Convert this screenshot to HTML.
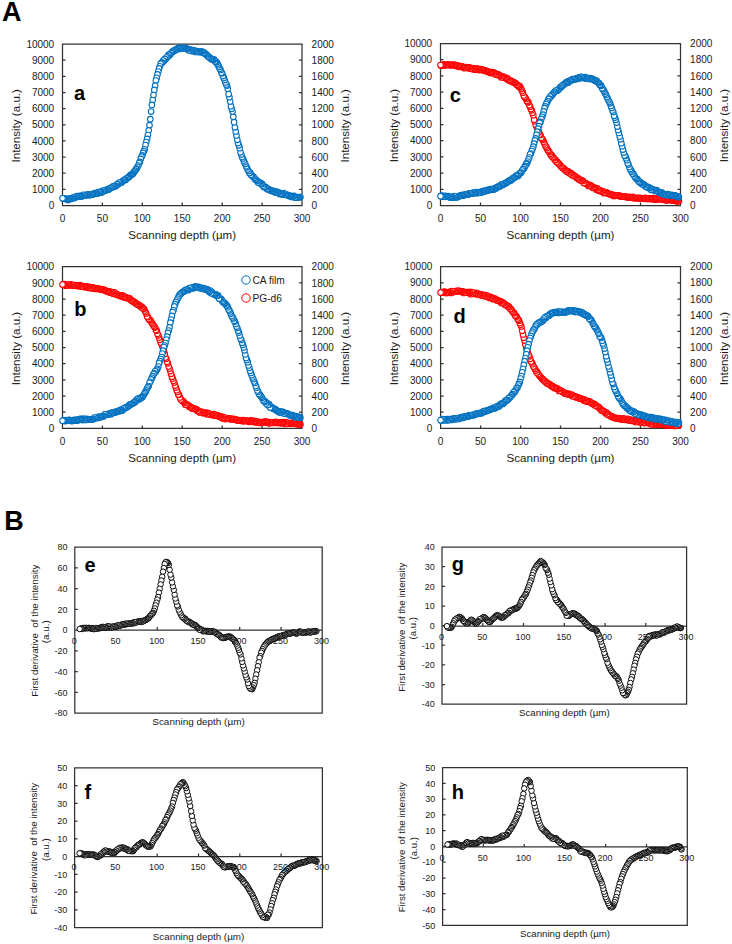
<!DOCTYPE html>
<html><head><meta charset="utf-8"><style>
html,body{margin:0;padding:0;background:#fff;}
svg{display:block;font-family:"Liberation Sans", sans-serif;}
</style></head><body>
<svg width="732" height="944" viewBox="0 0 732 944">
<rect width="732" height="944" fill="#fff"/>
<text x="2" y="20.8" font-size="27" font-weight="bold" fill="#000">A</text>
<text x="4.3" y="529.8" font-size="27" font-weight="bold" fill="#000">B</text>
<g stroke="#333" stroke-width="1.25" fill="none">
<path d="M62.5 44V205.5H302V44H62.5Z"/>
<path d="M62.5 189.3h3M302 189.3h-3M62.5 173.2h3M302 173.2h-3M62.5 157.1h3M302 157.1h-3M62.5 140.9h3M302 140.9h-3M62.5 124.8h3M302 124.8h-3M62.5 108.6h3M302 108.6h-3M62.5 92.5h3M302 92.5h-3M62.5 76.3h3M302 76.3h-3M62.5 60.2h3M302 60.2h-3M102.4 205.5v-3M142.3 205.5v-3M182.2 205.5v-3M222.2 205.5v-3M262.1 205.5v-3"/>
</g>
<g font-size="10" fill="#1a1a1a">
<text x="54.2" y="209.1" text-anchor="end">0</text>
<text x="311.6" y="209.1">0</text>
<text x="54.2" y="192.9" text-anchor="end">1000</text>
<text x="311.6" y="192.9">200</text>
<text x="54.2" y="176.8" text-anchor="end">2000</text>
<text x="311.6" y="176.8">400</text>
<text x="54.2" y="160.7" text-anchor="end">3000</text>
<text x="311.6" y="160.7">600</text>
<text x="54.2" y="144.5" text-anchor="end">4000</text>
<text x="311.6" y="144.5">800</text>
<text x="54.2" y="128.3" text-anchor="end">5000</text>
<text x="311.6" y="128.3">1000</text>
<text x="54.2" y="112.2" text-anchor="end">6000</text>
<text x="311.6" y="112.2">1200</text>
<text x="54.2" y="96" text-anchor="end">7000</text>
<text x="311.6" y="96">1400</text>
<text x="54.2" y="79.9" text-anchor="end">8000</text>
<text x="311.6" y="79.9">1600</text>
<text x="54.2" y="63.8" text-anchor="end">9000</text>
<text x="311.6" y="63.8">1800</text>
<text x="54.2" y="47.6" text-anchor="end">10000</text>
<text x="311.6" y="47.6">2000</text>
<text x="62.5" y="221.7" text-anchor="middle">0</text>
<text x="102.4" y="221.7" text-anchor="middle">50</text>
<text x="142.3" y="221.7" text-anchor="middle">100</text>
<text x="182.2" y="221.7" text-anchor="middle">150</text>
<text x="222.2" y="221.7" text-anchor="middle">200</text>
<text x="262.1" y="221.7" text-anchor="middle">250</text>
<text x="302" y="221.7" text-anchor="middle">300</text>
</g>
<g font-size="11.6" fill="#1a1a1a" text-anchor="middle">
<text x="182.2" y="239">Scanning depth (µm)</text>
<text transform="translate(20.2 125.8) rotate(-90)">Intensity (a.u.)</text>
<text transform="translate(349 125.8) rotate(-90)">Intensity (a.u.)</text>
</g>
<text x="74" y="100.3" font-size="20" font-weight="bold" fill="#000">a</text>
<g fill="#fff" stroke="#0070c0" stroke-width="1.1"><circle cx="300.4" cy="197.1" r="2.8"/><circle cx="299.6" cy="197.1" r="2.8"/><circle cx="298.8" cy="197.3" r="2.8"/><circle cx="298" cy="197.2" r="2.8"/><circle cx="297.2" cy="197.4" r="2.8"/><circle cx="296.4" cy="197.4" r="2.8"/><circle cx="295.6" cy="197.4" r="2.8"/><circle cx="294.8" cy="197.6" r="2.8"/><circle cx="294" cy="195.9" r="2.8"/><circle cx="293.2" cy="196.4" r="2.8"/><circle cx="292.4" cy="196.2" r="2.8"/><circle cx="291.6" cy="196.9" r="2.8"/><circle cx="290.8" cy="196" r="2.8"/><circle cx="290" cy="195.9" r="2.8"/><circle cx="289.2" cy="196.1" r="2.8"/><circle cx="288.4" cy="195.3" r="2.8"/><circle cx="287.6" cy="195.1" r="2.8"/><circle cx="286.8" cy="194.6" r="2.8"/><circle cx="286" cy="194.9" r="2.8"/><circle cx="285.2" cy="194.6" r="2.8"/><circle cx="284.4" cy="194.6" r="2.8"/><circle cx="283.6" cy="193.1" r="2.8"/><circle cx="282.8" cy="194.2" r="2.8"/><circle cx="282" cy="194.2" r="2.8"/><circle cx="281.2" cy="193.4" r="2.8"/><circle cx="280.4" cy="194.1" r="2.8"/><circle cx="279.6" cy="194" r="2.8"/><circle cx="278.8" cy="192.4" r="2.8"/><circle cx="278.1" cy="192.8" r="2.8"/><circle cx="277.3" cy="192.5" r="2.8"/><circle cx="276.5" cy="191.7" r="2.8"/><circle cx="275.7" cy="192.6" r="2.8"/><circle cx="274.9" cy="191.5" r="2.8"/><circle cx="274.1" cy="191.8" r="2.8"/><circle cx="273.3" cy="190.8" r="2.8"/><circle cx="272.5" cy="191.1" r="2.8"/><circle cx="271.7" cy="191" r="2.8"/><circle cx="270.9" cy="190.7" r="2.8"/><circle cx="270.1" cy="190.1" r="2.8"/><circle cx="269.3" cy="189.6" r="2.8"/><circle cx="268.5" cy="189.3" r="2.8"/><circle cx="267.7" cy="188.9" r="2.8"/><circle cx="266.9" cy="188.9" r="2.8"/><circle cx="266.1" cy="187.5" r="2.8"/><circle cx="265.3" cy="186.9" r="2.8"/><circle cx="264.5" cy="186.9" r="2.8"/><circle cx="263.7" cy="187" r="2.8"/><circle cx="262.9" cy="185.6" r="2.8"/><circle cx="262.1" cy="183.8" r="2.8"/><circle cx="261.3" cy="183.7" r="2.8"/><circle cx="260.5" cy="183.7" r="2.8"/><circle cx="259.7" cy="182.3" r="2.8"/><circle cx="258.9" cy="182.6" r="2.8"/><circle cx="258.1" cy="182.4" r="2.8"/><circle cx="257.3" cy="181" r="2.8"/><circle cx="256.5" cy="180.4" r="2.8"/><circle cx="255.7" cy="179.6" r="2.8"/><circle cx="254.9" cy="179.1" r="2.8"/><circle cx="254.1" cy="177.8" r="2.8"/><circle cx="253.3" cy="176.5" r="2.8"/><circle cx="252.5" cy="176.3" r="2.8"/><circle cx="251.7" cy="175.4" r="2.8"/><circle cx="250.9" cy="174.8" r="2.8"/><circle cx="250.1" cy="172.7" r="2.8"/><circle cx="249.3" cy="173.1" r="2.8"/><circle cx="248.5" cy="171.1" r="2.8"/><circle cx="247.7" cy="169.6" r="2.8"/><circle cx="246.9" cy="167.5" r="2.8"/><circle cx="246.1" cy="166.3" r="2.8"/><circle cx="245.3" cy="164.1" r="2.8"/><circle cx="244.5" cy="162.3" r="2.8"/><circle cx="243.7" cy="160.6" r="2.8"/><circle cx="242.9" cy="158.5" r="2.8"/><circle cx="242.1" cy="157.1" r="2.8"/><circle cx="241.3" cy="154.6" r="2.8"/><circle cx="240.5" cy="152.3" r="2.8"/><circle cx="239.7" cy="148.2" r="2.8"/><circle cx="238.9" cy="145.3" r="2.8"/><circle cx="238.1" cy="143" r="2.8"/><circle cx="237.3" cy="139.8" r="2.8"/><circle cx="236.5" cy="135.4" r="2.8"/><circle cx="235.7" cy="131.4" r="2.8"/><circle cx="234.9" cy="127.3" r="2.8"/><circle cx="234.1" cy="122.2" r="2.8"/><circle cx="233.3" cy="116.7" r="2.8"/><circle cx="232.5" cy="111.5" r="2.8"/><circle cx="231.7" cy="108.8" r="2.8"/><circle cx="230.9" cy="106.2" r="2.8"/><circle cx="230.2" cy="101.5" r="2.8"/><circle cx="229.4" cy="97.2" r="2.8"/><circle cx="228.6" cy="94.1" r="2.8"/><circle cx="227.8" cy="88.8" r="2.8"/><circle cx="227" cy="85.6" r="2.8"/><circle cx="226.2" cy="84.4" r="2.8"/><circle cx="225.4" cy="82.5" r="2.8"/><circle cx="224.6" cy="80.1" r="2.8"/><circle cx="223.8" cy="77.9" r="2.8"/><circle cx="223" cy="76.1" r="2.8"/><circle cx="222.2" cy="73.3" r="2.8"/><circle cx="221.4" cy="72.7" r="2.8"/><circle cx="220.6" cy="70" r="2.8"/><circle cx="219.8" cy="68.8" r="2.8"/><circle cx="219" cy="66.9" r="2.8"/><circle cx="218.2" cy="65.2" r="2.8"/><circle cx="217.4" cy="63.7" r="2.8"/><circle cx="216.6" cy="62.2" r="2.8"/><circle cx="215.8" cy="61.9" r="2.8"/><circle cx="215" cy="61.3" r="2.8"/><circle cx="214.2" cy="59.6" r="2.8"/><circle cx="213.4" cy="59.5" r="2.8"/><circle cx="212.6" cy="59.5" r="2.8"/><circle cx="211.8" cy="59.2" r="2.8"/><circle cx="211" cy="59" r="2.8"/><circle cx="210.2" cy="58" r="2.8"/><circle cx="209.4" cy="57.4" r="2.8"/><circle cx="208.6" cy="56.7" r="2.8"/><circle cx="207.8" cy="56.5" r="2.8"/><circle cx="207" cy="55.2" r="2.8"/><circle cx="206.2" cy="54.4" r="2.8"/><circle cx="205.4" cy="53.8" r="2.8"/><circle cx="204.6" cy="53.3" r="2.8"/><circle cx="203.8" cy="52.4" r="2.8"/><circle cx="203" cy="52.9" r="2.8"/><circle cx="202.2" cy="51.6" r="2.8"/><circle cx="201.4" cy="51.6" r="2.8"/><circle cx="200.6" cy="52" r="2.8"/><circle cx="199.8" cy="51.7" r="2.8"/><circle cx="199" cy="52.1" r="2.8"/><circle cx="198.2" cy="51.5" r="2.8"/><circle cx="197.4" cy="51.8" r="2.8"/><circle cx="196.6" cy="51.7" r="2.8"/><circle cx="195.8" cy="51.9" r="2.8"/><circle cx="195" cy="50.6" r="2.8"/><circle cx="194.2" cy="50.9" r="2.8"/><circle cx="193.4" cy="50.9" r="2.8"/><circle cx="192.6" cy="50.1" r="2.8"/><circle cx="191.8" cy="51.1" r="2.8"/><circle cx="191" cy="50.4" r="2.8"/><circle cx="190.2" cy="49.6" r="2.8"/><circle cx="189.4" cy="49.5" r="2.8"/><circle cx="188.6" cy="50.4" r="2.8"/><circle cx="187.8" cy="49" r="2.8"/><circle cx="187" cy="48.5" r="2.8"/><circle cx="186.2" cy="48.7" r="2.8"/><circle cx="185.4" cy="48.4" r="2.8"/><circle cx="184.6" cy="48.4" r="2.8"/><circle cx="183.8" cy="47.9" r="2.8"/><circle cx="183" cy="47.9" r="2.8"/><circle cx="182.2" cy="47.7" r="2.8"/><circle cx="181.5" cy="48" r="2.8"/><circle cx="180.7" cy="48.6" r="2.8"/><circle cx="179.9" cy="48.2" r="2.8"/><circle cx="179.1" cy="49.1" r="2.8"/><circle cx="178.3" cy="48.2" r="2.8"/><circle cx="177.5" cy="48.8" r="2.8"/><circle cx="176.7" cy="49.1" r="2.8"/><circle cx="175.9" cy="49.8" r="2.8"/><circle cx="175.1" cy="49.9" r="2.8"/><circle cx="174.3" cy="51.1" r="2.8"/><circle cx="173.5" cy="50.8" r="2.8"/><circle cx="172.7" cy="51.7" r="2.8"/><circle cx="171.9" cy="52.3" r="2.8"/><circle cx="171.1" cy="53.1" r="2.8"/><circle cx="170.3" cy="54.5" r="2.8"/><circle cx="169.5" cy="55.2" r="2.8"/><circle cx="168.7" cy="54.7" r="2.8"/><circle cx="167.9" cy="56.3" r="2.8"/><circle cx="167.1" cy="57.5" r="2.8"/><circle cx="166.3" cy="57.6" r="2.8"/><circle cx="165.5" cy="59.3" r="2.8"/><circle cx="164.7" cy="59" r="2.8"/><circle cx="163.9" cy="61" r="2.8"/><circle cx="163.1" cy="60.5" r="2.8"/><circle cx="162.3" cy="62.5" r="2.8"/><circle cx="161.5" cy="62.9" r="2.8"/><circle cx="160.7" cy="63.8" r="2.8"/><circle cx="159.9" cy="66.3" r="2.8"/><circle cx="159.1" cy="68.4" r="2.8"/><circle cx="158.3" cy="71.5" r="2.8"/><circle cx="157.5" cy="74.4" r="2.8"/><circle cx="156.7" cy="77.8" r="2.8"/><circle cx="155.9" cy="80.6" r="2.8"/><circle cx="155.1" cy="85.7" r="2.8"/><circle cx="154.3" cy="89.9" r="2.8"/><circle cx="153.5" cy="95" r="2.8"/><circle cx="152.7" cy="100" r="2.8"/><circle cx="151.9" cy="104.9" r="2.8"/><circle cx="151.1" cy="111.6" r="2.8"/><circle cx="150.3" cy="119.2" r="2.8"/><circle cx="149.5" cy="125.2" r="2.8"/><circle cx="148.7" cy="130.4" r="2.8"/><circle cx="147.9" cy="135.1" r="2.8"/><circle cx="147.1" cy="138.9" r="2.8"/><circle cx="146.3" cy="142" r="2.8"/><circle cx="145.5" cy="145.1" r="2.8"/><circle cx="144.7" cy="149.3" r="2.8"/><circle cx="143.9" cy="151" r="2.8"/><circle cx="143.1" cy="152.9" r="2.8"/><circle cx="142.3" cy="155.4" r="2.8"/><circle cx="141.5" cy="156.7" r="2.8"/><circle cx="140.7" cy="158.9" r="2.8"/><circle cx="139.9" cy="161.9" r="2.8"/><circle cx="139.1" cy="163" r="2.8"/><circle cx="138.3" cy="165.6" r="2.8"/><circle cx="137.5" cy="166.8" r="2.8"/><circle cx="136.7" cy="168.6" r="2.8"/><circle cx="135.9" cy="169.2" r="2.8"/><circle cx="135.1" cy="170.7" r="2.8"/><circle cx="134.3" cy="171.5" r="2.8"/><circle cx="133.6" cy="172.7" r="2.8"/><circle cx="132.8" cy="173.9" r="2.8"/><circle cx="132" cy="174" r="2.8"/><circle cx="131.2" cy="174.9" r="2.8"/><circle cx="130.4" cy="175.2" r="2.8"/><circle cx="129.6" cy="176.2" r="2.8"/><circle cx="128.8" cy="176.9" r="2.8"/><circle cx="128" cy="177.7" r="2.8"/><circle cx="127.2" cy="178" r="2.8"/><circle cx="126.4" cy="178.5" r="2.8"/><circle cx="125.6" cy="179.9" r="2.8"/><circle cx="124.8" cy="179.6" r="2.8"/><circle cx="124" cy="180.1" r="2.8"/><circle cx="123.2" cy="180.6" r="2.8"/><circle cx="122.4" cy="181.6" r="2.8"/><circle cx="121.6" cy="182.4" r="2.8"/><circle cx="120.8" cy="182.4" r="2.8"/><circle cx="120" cy="182.7" r="2.8"/><circle cx="119.2" cy="182.5" r="2.8"/><circle cx="118.4" cy="184.2" r="2.8"/><circle cx="117.6" cy="184.1" r="2.8"/><circle cx="116.8" cy="184.3" r="2.8"/><circle cx="116" cy="185.9" r="2.8"/><circle cx="115.2" cy="186.2" r="2.8"/><circle cx="114.4" cy="186.2" r="2.8"/><circle cx="113.6" cy="186.4" r="2.8"/><circle cx="112.8" cy="186.5" r="2.8"/><circle cx="112" cy="187.5" r="2.8"/><circle cx="111.2" cy="187.6" r="2.8"/><circle cx="110.4" cy="188.3" r="2.8"/><circle cx="109.6" cy="188.3" r="2.8"/><circle cx="108.8" cy="189.6" r="2.8"/><circle cx="108" cy="189.5" r="2.8"/><circle cx="107.2" cy="189.5" r="2.8"/><circle cx="106.4" cy="190.2" r="2.8"/><circle cx="105.6" cy="190.1" r="2.8"/><circle cx="104.8" cy="190.8" r="2.8"/><circle cx="104" cy="190.8" r="2.8"/><circle cx="103.2" cy="190.6" r="2.8"/><circle cx="102.4" cy="191.7" r="2.8"/><circle cx="101.6" cy="192.6" r="2.8"/><circle cx="100.8" cy="191.6" r="2.8"/><circle cx="100" cy="192.2" r="2.8"/><circle cx="99.2" cy="192.8" r="2.8"/><circle cx="98.4" cy="192" r="2.8"/><circle cx="97.6" cy="193.5" r="2.8"/><circle cx="96.8" cy="193.2" r="2.8"/><circle cx="96" cy="192.8" r="2.8"/><circle cx="95.2" cy="193.6" r="2.8"/><circle cx="94.4" cy="193.8" r="2.8"/><circle cx="93.6" cy="193.9" r="2.8"/><circle cx="92.8" cy="193.9" r="2.8"/><circle cx="92" cy="194.7" r="2.8"/><circle cx="91.2" cy="194.5" r="2.8"/><circle cx="90.4" cy="194.3" r="2.8"/><circle cx="89.6" cy="195.3" r="2.8"/><circle cx="88.8" cy="194.6" r="2.8"/><circle cx="88" cy="194.6" r="2.8"/><circle cx="87.2" cy="195" r="2.8"/><circle cx="86.5" cy="194.7" r="2.8"/><circle cx="85.7" cy="195.6" r="2.8"/><circle cx="84.9" cy="195.6" r="2.8"/><circle cx="84.1" cy="195.6" r="2.8"/><circle cx="83.3" cy="194.8" r="2.8"/><circle cx="82.5" cy="196" r="2.8"/><circle cx="81.7" cy="196.3" r="2.8"/><circle cx="80.9" cy="196.5" r="2.8"/><circle cx="80.1" cy="195.9" r="2.8"/><circle cx="79.3" cy="196.5" r="2.8"/><circle cx="78.5" cy="196" r="2.8"/><circle cx="77.7" cy="196.4" r="2.8"/><circle cx="76.9" cy="196.2" r="2.8"/><circle cx="76.1" cy="197" r="2.8"/><circle cx="75.3" cy="196.8" r="2.8"/><circle cx="74.5" cy="197.9" r="2.8"/><circle cx="73.7" cy="197.8" r="2.8"/><circle cx="72.9" cy="197.6" r="2.8"/><circle cx="72.1" cy="198.3" r="2.8"/><circle cx="71.3" cy="198.7" r="2.8"/><circle cx="70.5" cy="199" r="2.8"/><circle cx="69.7" cy="198.7" r="2.8"/><circle cx="68.9" cy="198.9" r="2.8"/><circle cx="68.1" cy="199.9" r="2.8"/><circle cx="67.3" cy="199.3" r="2.8"/><circle cx="66.5" cy="198.8" r="2.8"/><circle cx="65.7" cy="199" r="2.8"/><circle cx="64.9" cy="198.6" r="2.8"/><circle cx="64.1" cy="198.7" r="2.8"/><circle cx="63.3" cy="198.7" r="2.8"/><circle cx="62.5" cy="198.3" r="2.8"/></g>
<g stroke="#333" stroke-width="1.25" fill="none">
<path d="M440.5 43.5V205.5H680.5V43.5H440.5Z"/>
<path d="M440.5 189.3h3M680.5 189.3h-3M440.5 173.1h3M680.5 173.1h-3M440.5 156.9h3M680.5 156.9h-3M440.5 140.7h3M680.5 140.7h-3M440.5 124.5h3M680.5 124.5h-3M440.5 108.3h3M680.5 108.3h-3M440.5 92.1h3M680.5 92.1h-3M440.5 75.9h3M680.5 75.9h-3M440.5 59.7h3M680.5 59.7h-3M480.5 205.5v-3M520.5 205.5v-3M560.5 205.5v-3M600.5 205.5v-3M640.5 205.5v-3"/>
</g>
<g font-size="10" fill="#1a1a1a">
<text x="432.2" y="209.1" text-anchor="end">0</text>
<text x="690.1" y="209.1">0</text>
<text x="432.2" y="192.9" text-anchor="end">1000</text>
<text x="690.1" y="192.9">200</text>
<text x="432.2" y="176.7" text-anchor="end">2000</text>
<text x="690.1" y="176.7">400</text>
<text x="432.2" y="160.5" text-anchor="end">3000</text>
<text x="690.1" y="160.5">600</text>
<text x="432.2" y="144.3" text-anchor="end">4000</text>
<text x="690.1" y="144.3">800</text>
<text x="432.2" y="128.1" text-anchor="end">5000</text>
<text x="690.1" y="128.1">1000</text>
<text x="432.2" y="111.9" text-anchor="end">6000</text>
<text x="690.1" y="111.9">1200</text>
<text x="432.2" y="95.7" text-anchor="end">7000</text>
<text x="690.1" y="95.7">1400</text>
<text x="432.2" y="79.5" text-anchor="end">8000</text>
<text x="690.1" y="79.5">1600</text>
<text x="432.2" y="63.3" text-anchor="end">9000</text>
<text x="690.1" y="63.3">1800</text>
<text x="432.2" y="47.1" text-anchor="end">10000</text>
<text x="690.1" y="47.1">2000</text>
<text x="440.5" y="221.7" text-anchor="middle">0</text>
<text x="480.5" y="221.7" text-anchor="middle">50</text>
<text x="520.5" y="221.7" text-anchor="middle">100</text>
<text x="560.5" y="221.7" text-anchor="middle">150</text>
<text x="600.5" y="221.7" text-anchor="middle">200</text>
<text x="640.5" y="221.7" text-anchor="middle">250</text>
<text x="680.5" y="221.7" text-anchor="middle">300</text>
</g>
<g font-size="11.6" fill="#1a1a1a" text-anchor="middle">
<text x="560.5" y="239">Scanning depth (µm)</text>
<text transform="translate(398.2 125.5) rotate(-90)">Intensity (a.u.)</text>
<text transform="translate(727.5 125.5) rotate(-90)">Intensity (a.u.)</text>
</g>
<text x="449.7" y="102" font-size="20" font-weight="bold" fill="#000">c</text>
<g fill="#fff" stroke="#ff0000" stroke-width="1.1"><circle cx="678.9" cy="200.9" r="2.8"/><circle cx="678.1" cy="201.1" r="2.8"/><circle cx="677.3" cy="201.3" r="2.8"/><circle cx="676.5" cy="201" r="2.8"/><circle cx="675.7" cy="200.9" r="2.8"/><circle cx="674.9" cy="200.5" r="2.8"/><circle cx="674.1" cy="200" r="2.8"/><circle cx="673.3" cy="200.7" r="2.8"/><circle cx="672.5" cy="200.2" r="2.8"/><circle cx="671.7" cy="200.3" r="2.8"/><circle cx="670.9" cy="200.2" r="2.8"/><circle cx="670.1" cy="199.6" r="2.8"/><circle cx="669.3" cy="199.3" r="2.8"/><circle cx="668.5" cy="199.7" r="2.8"/><circle cx="667.7" cy="199.6" r="2.8"/><circle cx="666.9" cy="200.3" r="2.8"/><circle cx="666.1" cy="200.3" r="2.8"/><circle cx="665.3" cy="199.6" r="2.8"/><circle cx="664.5" cy="199.3" r="2.8"/><circle cx="663.7" cy="199.9" r="2.8"/><circle cx="662.9" cy="199" r="2.8"/><circle cx="662.1" cy="198.7" r="2.8"/><circle cx="661.3" cy="198.5" r="2.8"/><circle cx="660.5" cy="199.3" r="2.8"/><circle cx="659.7" cy="198" r="2.8"/><circle cx="658.9" cy="199" r="2.8"/><circle cx="658.1" cy="199.5" r="2.8"/><circle cx="657.3" cy="198.3" r="2.8"/><circle cx="656.5" cy="199.1" r="2.8"/><circle cx="655.7" cy="199.4" r="2.8"/><circle cx="654.9" cy="199.4" r="2.8"/><circle cx="654.1" cy="199.1" r="2.8"/><circle cx="653.3" cy="198.2" r="2.8"/><circle cx="652.5" cy="198.9" r="2.8"/><circle cx="651.7" cy="199" r="2.8"/><circle cx="650.9" cy="199" r="2.8"/><circle cx="650.1" cy="198.6" r="2.8"/><circle cx="649.3" cy="198.4" r="2.8"/><circle cx="648.5" cy="198.9" r="2.8"/><circle cx="647.7" cy="198.8" r="2.8"/><circle cx="646.9" cy="198.7" r="2.8"/><circle cx="646.1" cy="198.8" r="2.8"/><circle cx="645.3" cy="197.8" r="2.8"/><circle cx="644.5" cy="198.8" r="2.8"/><circle cx="643.7" cy="198.3" r="2.8"/><circle cx="642.9" cy="198.4" r="2.8"/><circle cx="642.1" cy="198.5" r="2.8"/><circle cx="641.3" cy="198.5" r="2.8"/><circle cx="640.5" cy="197.9" r="2.8"/><circle cx="639.7" cy="198.4" r="2.8"/><circle cx="638.9" cy="198.1" r="2.8"/><circle cx="638.1" cy="198.2" r="2.8"/><circle cx="637.3" cy="197.8" r="2.8"/><circle cx="636.5" cy="198.1" r="2.8"/><circle cx="635.7" cy="198" r="2.8"/><circle cx="634.9" cy="198" r="2.8"/><circle cx="634.1" cy="198.1" r="2.8"/><circle cx="633.3" cy="198" r="2.8"/><circle cx="632.5" cy="196.9" r="2.8"/><circle cx="631.7" cy="197.7" r="2.8"/><circle cx="630.9" cy="197.4" r="2.8"/><circle cx="630.1" cy="197" r="2.8"/><circle cx="629.3" cy="197.5" r="2.8"/><circle cx="628.5" cy="196.8" r="2.8"/><circle cx="627.7" cy="197.3" r="2.8"/><circle cx="626.9" cy="197.2" r="2.8"/><circle cx="626.1" cy="196.8" r="2.8"/><circle cx="625.3" cy="196.8" r="2.8"/><circle cx="624.5" cy="196.4" r="2.8"/><circle cx="623.7" cy="196.4" r="2.8"/><circle cx="622.9" cy="196.5" r="2.8"/><circle cx="622.1" cy="196.6" r="2.8"/><circle cx="621.3" cy="196.3" r="2.8"/><circle cx="620.5" cy="196.5" r="2.8"/><circle cx="619.7" cy="195.7" r="2.8"/><circle cx="618.9" cy="196" r="2.8"/><circle cx="618.1" cy="195.6" r="2.8"/><circle cx="617.3" cy="195.5" r="2.8"/><circle cx="616.5" cy="195.6" r="2.8"/><circle cx="615.7" cy="195.2" r="2.8"/><circle cx="614.9" cy="195.3" r="2.8"/><circle cx="614.1" cy="196.1" r="2.8"/><circle cx="613.3" cy="195.7" r="2.8"/><circle cx="612.5" cy="194.9" r="2.8"/><circle cx="611.7" cy="194.7" r="2.8"/><circle cx="610.9" cy="194" r="2.8"/><circle cx="610.1" cy="194.3" r="2.8"/><circle cx="609.3" cy="194" r="2.8"/><circle cx="608.5" cy="193.8" r="2.8"/><circle cx="607.7" cy="193.4" r="2.8"/><circle cx="606.9" cy="192.5" r="2.8"/><circle cx="606.1" cy="192.7" r="2.8"/><circle cx="605.3" cy="192.6" r="2.8"/><circle cx="604.5" cy="192.9" r="2.8"/><circle cx="603.7" cy="192.9" r="2.8"/><circle cx="602.9" cy="191.5" r="2.8"/><circle cx="602.1" cy="191" r="2.8"/><circle cx="601.3" cy="191.2" r="2.8"/><circle cx="600.5" cy="190.5" r="2.8"/><circle cx="599.7" cy="191.1" r="2.8"/><circle cx="598.9" cy="189.8" r="2.8"/><circle cx="598.1" cy="190.2" r="2.8"/><circle cx="597.3" cy="188.3" r="2.8"/><circle cx="596.5" cy="189.8" r="2.8"/><circle cx="595.7" cy="188.6" r="2.8"/><circle cx="594.9" cy="187.8" r="2.8"/><circle cx="594.1" cy="187.6" r="2.8"/><circle cx="593.3" cy="188" r="2.8"/><circle cx="592.5" cy="187.5" r="2.8"/><circle cx="591.7" cy="186.2" r="2.8"/><circle cx="590.9" cy="185.9" r="2.8"/><circle cx="590.1" cy="185.2" r="2.8"/><circle cx="589.3" cy="185" r="2.8"/><circle cx="588.5" cy="185.9" r="2.8"/><circle cx="587.7" cy="184.6" r="2.8"/><circle cx="586.9" cy="184.1" r="2.8"/><circle cx="586.1" cy="183.6" r="2.8"/><circle cx="585.3" cy="183.2" r="2.8"/><circle cx="584.5" cy="182.5" r="2.8"/><circle cx="583.7" cy="183" r="2.8"/><circle cx="582.9" cy="180.9" r="2.8"/><circle cx="582.1" cy="180.7" r="2.8"/><circle cx="581.3" cy="180.3" r="2.8"/><circle cx="580.5" cy="180.4" r="2.8"/><circle cx="579.7" cy="179.4" r="2.8"/><circle cx="578.9" cy="179.5" r="2.8"/><circle cx="578.1" cy="178.4" r="2.8"/><circle cx="577.3" cy="177.8" r="2.8"/><circle cx="576.5" cy="177.8" r="2.8"/><circle cx="575.7" cy="176.6" r="2.8"/><circle cx="574.9" cy="176.3" r="2.8"/><circle cx="574.1" cy="175.6" r="2.8"/><circle cx="573.3" cy="174.9" r="2.8"/><circle cx="572.5" cy="175.5" r="2.8"/><circle cx="571.7" cy="174.5" r="2.8"/><circle cx="570.9" cy="173.2" r="2.8"/><circle cx="570.1" cy="173" r="2.8"/><circle cx="569.3" cy="173.3" r="2.8"/><circle cx="568.5" cy="171.7" r="2.8"/><circle cx="567.7" cy="171.9" r="2.8"/><circle cx="566.9" cy="170.9" r="2.8"/><circle cx="566.1" cy="171.2" r="2.8"/><circle cx="565.3" cy="170.1" r="2.8"/><circle cx="564.5" cy="169.4" r="2.8"/><circle cx="563.7" cy="168.3" r="2.8"/><circle cx="562.9" cy="168" r="2.8"/><circle cx="562.1" cy="167.5" r="2.8"/><circle cx="561.3" cy="166.4" r="2.8"/><circle cx="560.5" cy="165.9" r="2.8"/><circle cx="559.7" cy="164.4" r="2.8"/><circle cx="558.9" cy="163.8" r="2.8"/><circle cx="558.1" cy="163.2" r="2.8"/><circle cx="557.3" cy="161.8" r="2.8"/><circle cx="556.5" cy="162" r="2.8"/><circle cx="555.7" cy="160.2" r="2.8"/><circle cx="554.9" cy="160" r="2.8"/><circle cx="554.1" cy="158.3" r="2.8"/><circle cx="553.3" cy="157.5" r="2.8"/><circle cx="552.5" cy="156.9" r="2.8"/><circle cx="551.7" cy="155.2" r="2.8"/><circle cx="550.9" cy="155.3" r="2.8"/><circle cx="550.1" cy="153.8" r="2.8"/><circle cx="549.3" cy="152.1" r="2.8"/><circle cx="548.5" cy="151" r="2.8"/><circle cx="547.7" cy="149.9" r="2.8"/><circle cx="546.9" cy="148.3" r="2.8"/><circle cx="546.1" cy="146.8" r="2.8"/><circle cx="545.3" cy="145.3" r="2.8"/><circle cx="544.5" cy="143.4" r="2.8"/><circle cx="543.7" cy="141.8" r="2.8"/><circle cx="542.9" cy="139.9" r="2.8"/><circle cx="542.1" cy="139" r="2.8"/><circle cx="541.3" cy="137.7" r="2.8"/><circle cx="540.5" cy="135" r="2.8"/><circle cx="539.7" cy="134.4" r="2.8"/><circle cx="538.9" cy="132.3" r="2.8"/><circle cx="538.1" cy="130" r="2.8"/><circle cx="537.3" cy="129" r="2.8"/><circle cx="536.5" cy="126.5" r="2.8"/><circle cx="535.7" cy="124.8" r="2.8"/><circle cx="534.9" cy="121.2" r="2.8"/><circle cx="534.1" cy="119.7" r="2.8"/><circle cx="533.3" cy="115.2" r="2.8"/><circle cx="532.5" cy="112.8" r="2.8"/><circle cx="531.7" cy="110.3" r="2.8"/><circle cx="530.9" cy="109" r="2.8"/><circle cx="530.1" cy="106.7" r="2.8"/><circle cx="529.3" cy="105.3" r="2.8"/><circle cx="528.5" cy="102.3" r="2.8"/><circle cx="527.7" cy="102" r="2.8"/><circle cx="526.9" cy="100.9" r="2.8"/><circle cx="526.1" cy="99" r="2.8"/><circle cx="525.3" cy="97.7" r="2.8"/><circle cx="524.5" cy="96.9" r="2.8"/><circle cx="523.7" cy="95.5" r="2.8"/><circle cx="522.9" cy="92.7" r="2.8"/><circle cx="522.1" cy="90.9" r="2.8"/><circle cx="521.3" cy="89.1" r="2.8"/><circle cx="520.5" cy="87.5" r="2.8"/><circle cx="519.7" cy="86.2" r="2.8"/><circle cx="518.9" cy="86.7" r="2.8"/><circle cx="518.1" cy="85.7" r="2.8"/><circle cx="517.3" cy="84.9" r="2.8"/><circle cx="516.5" cy="84.8" r="2.8"/><circle cx="515.7" cy="83.3" r="2.8"/><circle cx="514.9" cy="82.8" r="2.8"/><circle cx="514.1" cy="82.7" r="2.8"/><circle cx="513.3" cy="82.2" r="2.8"/><circle cx="512.5" cy="81.8" r="2.8"/><circle cx="511.7" cy="81.6" r="2.8"/><circle cx="510.9" cy="80.7" r="2.8"/><circle cx="510.1" cy="81" r="2.8"/><circle cx="509.3" cy="80.5" r="2.8"/><circle cx="508.5" cy="80.1" r="2.8"/><circle cx="507.7" cy="78.7" r="2.8"/><circle cx="506.9" cy="78.9" r="2.8"/><circle cx="506.1" cy="77.9" r="2.8"/><circle cx="505.3" cy="78" r="2.8"/><circle cx="504.5" cy="77.7" r="2.8"/><circle cx="503.7" cy="76.8" r="2.8"/><circle cx="502.9" cy="76.6" r="2.8"/><circle cx="502.1" cy="76.8" r="2.8"/><circle cx="501.3" cy="77.4" r="2.8"/><circle cx="500.5" cy="76.3" r="2.8"/><circle cx="499.7" cy="75.4" r="2.8"/><circle cx="498.9" cy="75.2" r="2.8"/><circle cx="498.1" cy="74.3" r="2.8"/><circle cx="497.3" cy="74.7" r="2.8"/><circle cx="496.5" cy="74.8" r="2.8"/><circle cx="495.7" cy="74.5" r="2.8"/><circle cx="494.9" cy="73.2" r="2.8"/><circle cx="494.1" cy="72.7" r="2.8"/><circle cx="493.3" cy="73.4" r="2.8"/><circle cx="492.5" cy="72.2" r="2.8"/><circle cx="491.7" cy="72.7" r="2.8"/><circle cx="490.9" cy="72.7" r="2.8"/><circle cx="490.1" cy="73" r="2.8"/><circle cx="489.3" cy="72.2" r="2.8"/><circle cx="488.5" cy="71.7" r="2.8"/><circle cx="487.7" cy="71.5" r="2.8"/><circle cx="486.9" cy="71.2" r="2.8"/><circle cx="486.1" cy="70.8" r="2.8"/><circle cx="485.3" cy="70.9" r="2.8"/><circle cx="484.5" cy="70.6" r="2.8"/><circle cx="483.7" cy="70.2" r="2.8"/><circle cx="482.9" cy="70.2" r="2.8"/><circle cx="482.1" cy="69.7" r="2.8"/><circle cx="481.3" cy="69.4" r="2.8"/><circle cx="480.5" cy="69.2" r="2.8"/><circle cx="479.7" cy="69.9" r="2.8"/><circle cx="478.9" cy="70" r="2.8"/><circle cx="478.1" cy="69.2" r="2.8"/><circle cx="477.3" cy="68.5" r="2.8"/><circle cx="476.5" cy="68.7" r="2.8"/><circle cx="475.7" cy="68.8" r="2.8"/><circle cx="474.9" cy="69.7" r="2.8"/><circle cx="474.1" cy="68.9" r="2.8"/><circle cx="473.3" cy="68.7" r="2.8"/><circle cx="472.5" cy="69.1" r="2.8"/><circle cx="471.7" cy="68.8" r="2.8"/><circle cx="470.9" cy="67.8" r="2.8"/><circle cx="470.1" cy="68.7" r="2.8"/><circle cx="469.3" cy="67.5" r="2.8"/><circle cx="468.5" cy="67.3" r="2.8"/><circle cx="467.7" cy="67.9" r="2.8"/><circle cx="466.9" cy="67.2" r="2.8"/><circle cx="466.1" cy="67.5" r="2.8"/><circle cx="465.3" cy="67.3" r="2.8"/><circle cx="464.5" cy="68.2" r="2.8"/><circle cx="463.7" cy="67.4" r="2.8"/><circle cx="462.9" cy="66.6" r="2.8"/><circle cx="462.1" cy="66.9" r="2.8"/><circle cx="461.3" cy="66.8" r="2.8"/><circle cx="460.5" cy="66.2" r="2.8"/><circle cx="459.7" cy="66.1" r="2.8"/><circle cx="458.9" cy="66.8" r="2.8"/><circle cx="458.1" cy="66.2" r="2.8"/><circle cx="457.3" cy="65.4" r="2.8"/><circle cx="456.5" cy="66" r="2.8"/><circle cx="455.7" cy="65.1" r="2.8"/><circle cx="454.9" cy="65.3" r="2.8"/><circle cx="454.1" cy="64.6" r="2.8"/><circle cx="453.3" cy="65.2" r="2.8"/><circle cx="452.5" cy="65" r="2.8"/><circle cx="451.7" cy="64.9" r="2.8"/><circle cx="450.9" cy="64.7" r="2.8"/><circle cx="450.1" cy="65.3" r="2.8"/><circle cx="449.3" cy="64.8" r="2.8"/><circle cx="448.5" cy="64.3" r="2.8"/><circle cx="447.7" cy="64.6" r="2.8"/><circle cx="446.9" cy="64.8" r="2.8"/><circle cx="446.1" cy="65" r="2.8"/><circle cx="445.3" cy="65.5" r="2.8"/><circle cx="444.5" cy="64.6" r="2.8"/><circle cx="443.7" cy="64.6" r="2.8"/><circle cx="442.9" cy="64.9" r="2.8"/><circle cx="442.1" cy="65.2" r="2.8"/><circle cx="441.3" cy="65.7" r="2.8"/><circle cx="440.5" cy="65.1" r="2.8"/></g>
<g fill="#fff" stroke="#0070c0" stroke-width="1.1"><circle cx="678.9" cy="197.2" r="2.8"/><circle cx="678.1" cy="196.6" r="2.8"/><circle cx="677.3" cy="196" r="2.8"/><circle cx="676.5" cy="196.6" r="2.8"/><circle cx="675.7" cy="196" r="2.8"/><circle cx="674.9" cy="195.3" r="2.8"/><circle cx="674.1" cy="195.6" r="2.8"/><circle cx="673.3" cy="195.5" r="2.8"/><circle cx="672.5" cy="195.2" r="2.8"/><circle cx="671.7" cy="195.3" r="2.8"/><circle cx="670.9" cy="194.9" r="2.8"/><circle cx="670.1" cy="195.3" r="2.8"/><circle cx="669.3" cy="195.1" r="2.8"/><circle cx="668.5" cy="194.7" r="2.8"/><circle cx="667.7" cy="194.2" r="2.8"/><circle cx="666.9" cy="195.3" r="2.8"/><circle cx="666.1" cy="194.4" r="2.8"/><circle cx="665.3" cy="194.3" r="2.8"/><circle cx="664.5" cy="194.3" r="2.8"/><circle cx="663.7" cy="194.7" r="2.8"/><circle cx="662.9" cy="193.9" r="2.8"/><circle cx="662.1" cy="192.7" r="2.8"/><circle cx="661.3" cy="193.2" r="2.8"/><circle cx="660.5" cy="192.7" r="2.8"/><circle cx="659.7" cy="192.8" r="2.8"/><circle cx="658.9" cy="192" r="2.8"/><circle cx="658.1" cy="191.6" r="2.8"/><circle cx="657.3" cy="191.1" r="2.8"/><circle cx="656.5" cy="190.2" r="2.8"/><circle cx="655.7" cy="190.4" r="2.8"/><circle cx="654.9" cy="190.9" r="2.8"/><circle cx="654.1" cy="190.1" r="2.8"/><circle cx="653.3" cy="189.6" r="2.8"/><circle cx="652.5" cy="189.1" r="2.8"/><circle cx="651.7" cy="189.3" r="2.8"/><circle cx="650.9" cy="189.8" r="2.8"/><circle cx="650.1" cy="188.2" r="2.8"/><circle cx="649.3" cy="187.6" r="2.8"/><circle cx="648.5" cy="187.9" r="2.8"/><circle cx="647.7" cy="186.9" r="2.8"/><circle cx="646.9" cy="187.2" r="2.8"/><circle cx="646.1" cy="186.4" r="2.8"/><circle cx="645.3" cy="186.5" r="2.8"/><circle cx="644.5" cy="185" r="2.8"/><circle cx="643.7" cy="184.4" r="2.8"/><circle cx="642.9" cy="184.1" r="2.8"/><circle cx="642.1" cy="184.2" r="2.8"/><circle cx="641.3" cy="182.9" r="2.8"/><circle cx="640.5" cy="182.7" r="2.8"/><circle cx="639.7" cy="182.3" r="2.8"/><circle cx="638.9" cy="181.7" r="2.8"/><circle cx="638.1" cy="180.4" r="2.8"/><circle cx="637.3" cy="179" r="2.8"/><circle cx="636.5" cy="178.8" r="2.8"/><circle cx="635.7" cy="178.1" r="2.8"/><circle cx="634.9" cy="176.8" r="2.8"/><circle cx="634.1" cy="175.4" r="2.8"/><circle cx="633.3" cy="173.9" r="2.8"/><circle cx="632.5" cy="173.4" r="2.8"/><circle cx="631.7" cy="171.7" r="2.8"/><circle cx="630.9" cy="170.2" r="2.8"/><circle cx="630.1" cy="169" r="2.8"/><circle cx="629.3" cy="167" r="2.8"/><circle cx="628.5" cy="164.6" r="2.8"/><circle cx="627.7" cy="163.2" r="2.8"/><circle cx="626.9" cy="160.2" r="2.8"/><circle cx="626.1" cy="158.2" r="2.8"/><circle cx="625.3" cy="155.9" r="2.8"/><circle cx="624.5" cy="155.5" r="2.8"/><circle cx="623.7" cy="152.6" r="2.8"/><circle cx="622.9" cy="149.6" r="2.8"/><circle cx="622.1" cy="146.2" r="2.8"/><circle cx="621.3" cy="143.2" r="2.8"/><circle cx="620.5" cy="139.3" r="2.8"/><circle cx="619.7" cy="136.4" r="2.8"/><circle cx="618.9" cy="132.9" r="2.8"/><circle cx="618.1" cy="130" r="2.8"/><circle cx="617.3" cy="126.6" r="2.8"/><circle cx="616.5" cy="122.6" r="2.8"/><circle cx="615.7" cy="119.7" r="2.8"/><circle cx="614.9" cy="117.6" r="2.8"/><circle cx="614.1" cy="115.7" r="2.8"/><circle cx="613.3" cy="112" r="2.8"/><circle cx="612.5" cy="110.4" r="2.8"/><circle cx="611.7" cy="108" r="2.8"/><circle cx="610.9" cy="105.9" r="2.8"/><circle cx="610.1" cy="103.3" r="2.8"/><circle cx="609.3" cy="102.1" r="2.8"/><circle cx="608.5" cy="100.3" r="2.8"/><circle cx="607.7" cy="98.5" r="2.8"/><circle cx="606.9" cy="97.1" r="2.8"/><circle cx="606.1" cy="94.9" r="2.8"/><circle cx="605.3" cy="93.6" r="2.8"/><circle cx="604.5" cy="91.8" r="2.8"/><circle cx="603.7" cy="90.6" r="2.8"/><circle cx="602.9" cy="89.1" r="2.8"/><circle cx="602.1" cy="88.2" r="2.8"/><circle cx="601.3" cy="85.8" r="2.8"/><circle cx="600.5" cy="85.3" r="2.8"/><circle cx="599.7" cy="84.8" r="2.8"/><circle cx="598.9" cy="83.2" r="2.8"/><circle cx="598.1" cy="82.5" r="2.8"/><circle cx="597.3" cy="81.8" r="2.8"/><circle cx="596.5" cy="80.6" r="2.8"/><circle cx="595.7" cy="80.6" r="2.8"/><circle cx="594.9" cy="80.8" r="2.8"/><circle cx="594.1" cy="79.8" r="2.8"/><circle cx="593.3" cy="79.6" r="2.8"/><circle cx="592.5" cy="79" r="2.8"/><circle cx="591.7" cy="78.5" r="2.8"/><circle cx="590.9" cy="78.9" r="2.8"/><circle cx="590.1" cy="78" r="2.8"/><circle cx="589.3" cy="78.4" r="2.8"/><circle cx="588.5" cy="79" r="2.8"/><circle cx="587.7" cy="78.2" r="2.8"/><circle cx="586.9" cy="78.2" r="2.8"/><circle cx="586.1" cy="78.4" r="2.8"/><circle cx="585.3" cy="77.1" r="2.8"/><circle cx="584.5" cy="78.2" r="2.8"/><circle cx="583.7" cy="77.7" r="2.8"/><circle cx="582.9" cy="77.7" r="2.8"/><circle cx="582.1" cy="77.2" r="2.8"/><circle cx="581.3" cy="77.2" r="2.8"/><circle cx="580.5" cy="76.8" r="2.8"/><circle cx="579.7" cy="78.4" r="2.8"/><circle cx="578.9" cy="77.7" r="2.8"/><circle cx="578.1" cy="78.1" r="2.8"/><circle cx="577.3" cy="78" r="2.8"/><circle cx="576.5" cy="79.1" r="2.8"/><circle cx="575.7" cy="78.7" r="2.8"/><circle cx="574.9" cy="79" r="2.8"/><circle cx="574.1" cy="79.5" r="2.8"/><circle cx="573.3" cy="79.3" r="2.8"/><circle cx="572.5" cy="79.2" r="2.8"/><circle cx="571.7" cy="80.3" r="2.8"/><circle cx="570.9" cy="80.5" r="2.8"/><circle cx="570.1" cy="80.5" r="2.8"/><circle cx="569.3" cy="81" r="2.8"/><circle cx="568.5" cy="82.5" r="2.8"/><circle cx="567.7" cy="81.7" r="2.8"/><circle cx="566.9" cy="81.9" r="2.8"/><circle cx="566.1" cy="82.9" r="2.8"/><circle cx="565.3" cy="83.3" r="2.8"/><circle cx="564.5" cy="84.1" r="2.8"/><circle cx="563.7" cy="84.5" r="2.8"/><circle cx="562.9" cy="85.2" r="2.8"/><circle cx="562.1" cy="85.8" r="2.8"/><circle cx="561.3" cy="87.1" r="2.8"/><circle cx="560.5" cy="86.8" r="2.8"/><circle cx="559.7" cy="88.1" r="2.8"/><circle cx="558.9" cy="89" r="2.8"/><circle cx="558.1" cy="90" r="2.8"/><circle cx="557.3" cy="90.7" r="2.8"/><circle cx="556.5" cy="90.6" r="2.8"/><circle cx="555.7" cy="90.6" r="2.8"/><circle cx="554.9" cy="91.8" r="2.8"/><circle cx="554.1" cy="92.6" r="2.8"/><circle cx="553.3" cy="93.6" r="2.8"/><circle cx="552.5" cy="94.4" r="2.8"/><circle cx="551.7" cy="95.3" r="2.8"/><circle cx="550.9" cy="96.4" r="2.8"/><circle cx="550.1" cy="96.6" r="2.8"/><circle cx="549.3" cy="98.6" r="2.8"/><circle cx="548.5" cy="98.9" r="2.8"/><circle cx="547.7" cy="101.2" r="2.8"/><circle cx="546.9" cy="102.6" r="2.8"/><circle cx="546.1" cy="104.1" r="2.8"/><circle cx="545.3" cy="106.4" r="2.8"/><circle cx="544.5" cy="108.2" r="2.8"/><circle cx="543.7" cy="111.4" r="2.8"/><circle cx="542.9" cy="114.7" r="2.8"/><circle cx="542.1" cy="116.8" r="2.8"/><circle cx="541.3" cy="118.9" r="2.8"/><circle cx="540.5" cy="121.9" r="2.8"/><circle cx="539.7" cy="122.8" r="2.8"/><circle cx="538.9" cy="126.2" r="2.8"/><circle cx="538.1" cy="128.7" r="2.8"/><circle cx="537.3" cy="131.7" r="2.8"/><circle cx="536.5" cy="134.7" r="2.8"/><circle cx="535.7" cy="138.4" r="2.8"/><circle cx="534.9" cy="140.4" r="2.8"/><circle cx="534.1" cy="143.7" r="2.8"/><circle cx="533.3" cy="146.7" r="2.8"/><circle cx="532.5" cy="149" r="2.8"/><circle cx="531.7" cy="151" r="2.8"/><circle cx="530.9" cy="153.5" r="2.8"/><circle cx="530.1" cy="154.3" r="2.8"/><circle cx="529.3" cy="157.5" r="2.8"/><circle cx="528.5" cy="159.3" r="2.8"/><circle cx="527.7" cy="161.6" r="2.8"/><circle cx="526.9" cy="163.4" r="2.8"/><circle cx="526.1" cy="163.9" r="2.8"/><circle cx="525.3" cy="165.9" r="2.8"/><circle cx="524.5" cy="167.2" r="2.8"/><circle cx="523.7" cy="168.8" r="2.8"/><circle cx="522.9" cy="169.3" r="2.8"/><circle cx="522.1" cy="170.5" r="2.8"/><circle cx="521.3" cy="172.5" r="2.8"/><circle cx="520.5" cy="172.9" r="2.8"/><circle cx="519.7" cy="173.3" r="2.8"/><circle cx="518.9" cy="174.6" r="2.8"/><circle cx="518.1" cy="176" r="2.8"/><circle cx="517.3" cy="175.3" r="2.8"/><circle cx="516.5" cy="175.7" r="2.8"/><circle cx="515.7" cy="176" r="2.8"/><circle cx="514.9" cy="177.6" r="2.8"/><circle cx="514.1" cy="177.7" r="2.8"/><circle cx="513.3" cy="178.2" r="2.8"/><circle cx="512.5" cy="178.6" r="2.8"/><circle cx="511.7" cy="179.4" r="2.8"/><circle cx="510.9" cy="180.5" r="2.8"/><circle cx="510.1" cy="180" r="2.8"/><circle cx="509.3" cy="180.8" r="2.8"/><circle cx="508.5" cy="181" r="2.8"/><circle cx="507.7" cy="182.1" r="2.8"/><circle cx="506.9" cy="182.2" r="2.8"/><circle cx="506.1" cy="183.1" r="2.8"/><circle cx="505.3" cy="183.4" r="2.8"/><circle cx="504.5" cy="183.6" r="2.8"/><circle cx="503.7" cy="183.8" r="2.8"/><circle cx="502.9" cy="184.9" r="2.8"/><circle cx="502.1" cy="184.4" r="2.8"/><circle cx="501.3" cy="184.7" r="2.8"/><circle cx="500.5" cy="185.5" r="2.8"/><circle cx="499.7" cy="186.4" r="2.8"/><circle cx="498.9" cy="186.7" r="2.8"/><circle cx="498.1" cy="186.5" r="2.8"/><circle cx="497.3" cy="187.2" r="2.8"/><circle cx="496.5" cy="188.3" r="2.8"/><circle cx="495.7" cy="188" r="2.8"/><circle cx="494.9" cy="188.2" r="2.8"/><circle cx="494.1" cy="189.3" r="2.8"/><circle cx="493.3" cy="189.7" r="2.8"/><circle cx="492.5" cy="189.5" r="2.8"/><circle cx="491.7" cy="189" r="2.8"/><circle cx="490.9" cy="189.1" r="2.8"/><circle cx="490.1" cy="190.1" r="2.8"/><circle cx="489.3" cy="189.7" r="2.8"/><circle cx="488.5" cy="190.1" r="2.8"/><circle cx="487.7" cy="189.9" r="2.8"/><circle cx="486.9" cy="190.7" r="2.8"/><circle cx="486.1" cy="191.1" r="2.8"/><circle cx="485.3" cy="190.7" r="2.8"/><circle cx="484.5" cy="191.3" r="2.8"/><circle cx="483.7" cy="191" r="2.8"/><circle cx="482.9" cy="191.2" r="2.8"/><circle cx="482.1" cy="192.3" r="2.8"/><circle cx="481.3" cy="191.9" r="2.8"/><circle cx="480.5" cy="192.6" r="2.8"/><circle cx="479.7" cy="192.1" r="2.8"/><circle cx="478.9" cy="192.7" r="2.8"/><circle cx="478.1" cy="192.8" r="2.8"/><circle cx="477.3" cy="193.2" r="2.8"/><circle cx="476.5" cy="192.1" r="2.8"/><circle cx="475.7" cy="192.6" r="2.8"/><circle cx="474.9" cy="193.1" r="2.8"/><circle cx="474.1" cy="192.7" r="2.8"/><circle cx="473.3" cy="192.5" r="2.8"/><circle cx="472.5" cy="193.7" r="2.8"/><circle cx="471.7" cy="193.7" r="2.8"/><circle cx="470.9" cy="193.4" r="2.8"/><circle cx="470.1" cy="193.5" r="2.8"/><circle cx="469.3" cy="193.3" r="2.8"/><circle cx="468.5" cy="194.5" r="2.8"/><circle cx="467.7" cy="194" r="2.8"/><circle cx="466.9" cy="194.7" r="2.8"/><circle cx="466.1" cy="194.3" r="2.8"/><circle cx="465.3" cy="194.4" r="2.8"/><circle cx="464.5" cy="194.5" r="2.8"/><circle cx="463.7" cy="195.6" r="2.8"/><circle cx="462.9" cy="195.3" r="2.8"/><circle cx="462.1" cy="195" r="2.8"/><circle cx="461.3" cy="195" r="2.8"/><circle cx="460.5" cy="195.8" r="2.8"/><circle cx="459.7" cy="195.8" r="2.8"/><circle cx="458.9" cy="196.1" r="2.8"/><circle cx="458.1" cy="196.7" r="2.8"/><circle cx="457.3" cy="197.3" r="2.8"/><circle cx="456.5" cy="197" r="2.8"/><circle cx="455.7" cy="197.2" r="2.8"/><circle cx="454.9" cy="197.1" r="2.8"/><circle cx="454.1" cy="196" r="2.8"/><circle cx="453.3" cy="197.6" r="2.8"/><circle cx="452.5" cy="197.3" r="2.8"/><circle cx="451.7" cy="197" r="2.8"/><circle cx="450.9" cy="197.4" r="2.8"/><circle cx="450.1" cy="197.5" r="2.8"/><circle cx="449.3" cy="196.9" r="2.8"/><circle cx="448.5" cy="196" r="2.8"/><circle cx="447.7" cy="196.5" r="2.8"/><circle cx="446.9" cy="196.6" r="2.8"/><circle cx="446.1" cy="196.6" r="2.8"/><circle cx="445.3" cy="195.9" r="2.8"/><circle cx="444.5" cy="196.8" r="2.8"/><circle cx="443.7" cy="196.5" r="2.8"/><circle cx="442.9" cy="196.7" r="2.8"/><circle cx="442.1" cy="195.6" r="2.8"/><circle cx="441.3" cy="195.9" r="2.8"/><circle cx="440.5" cy="196.2" r="2.8"/></g>
<g stroke="#333" stroke-width="1.25" fill="none">
<path d="M62.5 266.7V428.4H302V266.7H62.5Z"/>
<path d="M62.5 412.2h3M302 412.2h-3M62.5 396.1h3M302 396.1h-3M62.5 379.9h3M302 379.9h-3M62.5 363.7h3M302 363.7h-3M62.5 347.5h3M302 347.5h-3M62.5 331.4h3M302 331.4h-3M62.5 315.2h3M302 315.2h-3M62.5 299h3M302 299h-3M62.5 282.9h3M302 282.9h-3M102.4 428.4v-3M142.3 428.4v-3M182.2 428.4v-3M222.2 428.4v-3M262.1 428.4v-3"/>
</g>
<g font-size="10" fill="#1a1a1a">
<text x="54.2" y="432" text-anchor="end">0</text>
<text x="311.6" y="432">0</text>
<text x="54.2" y="415.8" text-anchor="end">1000</text>
<text x="311.6" y="415.8">200</text>
<text x="54.2" y="399.7" text-anchor="end">2000</text>
<text x="311.6" y="399.7">400</text>
<text x="54.2" y="383.5" text-anchor="end">3000</text>
<text x="311.6" y="383.5">600</text>
<text x="54.2" y="367.3" text-anchor="end">4000</text>
<text x="311.6" y="367.3">800</text>
<text x="54.2" y="351.1" text-anchor="end">5000</text>
<text x="311.6" y="351.1">1000</text>
<text x="54.2" y="335" text-anchor="end">6000</text>
<text x="311.6" y="335">1200</text>
<text x="54.2" y="318.8" text-anchor="end">7000</text>
<text x="311.6" y="318.8">1400</text>
<text x="54.2" y="302.6" text-anchor="end">8000</text>
<text x="311.6" y="302.6">1600</text>
<text x="54.2" y="286.5" text-anchor="end">9000</text>
<text x="311.6" y="286.5">1800</text>
<text x="54.2" y="270.3" text-anchor="end">10000</text>
<text x="311.6" y="270.3">2000</text>
<text x="62.5" y="444.6" text-anchor="middle">0</text>
<text x="102.4" y="444.6" text-anchor="middle">50</text>
<text x="142.3" y="444.6" text-anchor="middle">100</text>
<text x="182.2" y="444.6" text-anchor="middle">150</text>
<text x="222.2" y="444.6" text-anchor="middle">200</text>
<text x="262.1" y="444.6" text-anchor="middle">250</text>
<text x="302" y="444.6" text-anchor="middle">300</text>
</g>
<g font-size="11.6" fill="#1a1a1a" text-anchor="middle">
<text x="182.2" y="461.9">Scanning depth (µm)</text>
<text transform="translate(20.2 348.5) rotate(-90)">Intensity (a.u.)</text>
<text transform="translate(349 348.5) rotate(-90)">Intensity (a.u.)</text>
</g>
<text x="74.3" y="316.2" font-size="20" font-weight="bold" fill="#000">b</text>
<g fill="#fff" stroke="#ff0000" stroke-width="1.1"><circle cx="300.4" cy="424.4" r="2.8"/><circle cx="299.6" cy="424.4" r="2.8"/><circle cx="298.8" cy="424.2" r="2.8"/><circle cx="298" cy="423.5" r="2.8"/><circle cx="297.2" cy="424.1" r="2.8"/><circle cx="296.4" cy="424" r="2.8"/><circle cx="295.6" cy="423.7" r="2.8"/><circle cx="294.8" cy="423.3" r="2.8"/><circle cx="294" cy="423.2" r="2.8"/><circle cx="293.2" cy="423.4" r="2.8"/><circle cx="292.4" cy="422.6" r="2.8"/><circle cx="291.6" cy="423.4" r="2.8"/><circle cx="290.8" cy="423.4" r="2.8"/><circle cx="290" cy="423.3" r="2.8"/><circle cx="289.2" cy="423" r="2.8"/><circle cx="288.4" cy="423.1" r="2.8"/><circle cx="287.6" cy="423.3" r="2.8"/><circle cx="286.8" cy="423.1" r="2.8"/><circle cx="286" cy="422.2" r="2.8"/><circle cx="285.2" cy="423.9" r="2.8"/><circle cx="284.4" cy="422.6" r="2.8"/><circle cx="283.6" cy="422.2" r="2.8"/><circle cx="282.8" cy="422.9" r="2.8"/><circle cx="282" cy="422.7" r="2.8"/><circle cx="281.2" cy="423.2" r="2.8"/><circle cx="280.4" cy="422.9" r="2.8"/><circle cx="279.6" cy="422.7" r="2.8"/><circle cx="278.8" cy="422.4" r="2.8"/><circle cx="278.1" cy="422.8" r="2.8"/><circle cx="277.3" cy="423" r="2.8"/><circle cx="276.5" cy="422.3" r="2.8"/><circle cx="275.7" cy="421.9" r="2.8"/><circle cx="274.9" cy="422.3" r="2.8"/><circle cx="274.1" cy="422.4" r="2.8"/><circle cx="273.3" cy="423" r="2.8"/><circle cx="272.5" cy="422.7" r="2.8"/><circle cx="271.7" cy="422.4" r="2.8"/><circle cx="270.9" cy="422.4" r="2.8"/><circle cx="270.1" cy="422" r="2.8"/><circle cx="269.3" cy="423.4" r="2.8"/><circle cx="268.5" cy="422.4" r="2.8"/><circle cx="267.7" cy="422.2" r="2.8"/><circle cx="266.9" cy="421.8" r="2.8"/><circle cx="266.1" cy="422.2" r="2.8"/><circle cx="265.3" cy="421.7" r="2.8"/><circle cx="264.5" cy="421.8" r="2.8"/><circle cx="263.7" cy="422.4" r="2.8"/><circle cx="262.9" cy="422.2" r="2.8"/><circle cx="262.1" cy="422.1" r="2.8"/><circle cx="261.3" cy="422.6" r="2.8"/><circle cx="260.5" cy="423" r="2.8"/><circle cx="259.7" cy="422.4" r="2.8"/><circle cx="258.9" cy="421.9" r="2.8"/><circle cx="258.1" cy="422" r="2.8"/><circle cx="257.3" cy="422.6" r="2.8"/><circle cx="256.5" cy="421.4" r="2.8"/><circle cx="255.7" cy="421.1" r="2.8"/><circle cx="254.9" cy="422" r="2.8"/><circle cx="254.1" cy="422.1" r="2.8"/><circle cx="253.3" cy="421.6" r="2.8"/><circle cx="252.5" cy="420.6" r="2.8"/><circle cx="251.7" cy="421.2" r="2.8"/><circle cx="250.9" cy="420.4" r="2.8"/><circle cx="250.1" cy="421" r="2.8"/><circle cx="249.3" cy="421.8" r="2.8"/><circle cx="248.5" cy="420.9" r="2.8"/><circle cx="247.7" cy="421.2" r="2.8"/><circle cx="246.9" cy="420.8" r="2.8"/><circle cx="246.1" cy="420.8" r="2.8"/><circle cx="245.3" cy="420.6" r="2.8"/><circle cx="244.5" cy="420.8" r="2.8"/><circle cx="243.7" cy="421.3" r="2.8"/><circle cx="242.9" cy="420.1" r="2.8"/><circle cx="242.1" cy="420.9" r="2.8"/><circle cx="241.3" cy="420.3" r="2.8"/><circle cx="240.5" cy="420.3" r="2.8"/><circle cx="239.7" cy="420.2" r="2.8"/><circle cx="238.9" cy="420.3" r="2.8"/><circle cx="238.1" cy="420.2" r="2.8"/><circle cx="237.3" cy="420.1" r="2.8"/><circle cx="236.5" cy="420.3" r="2.8"/><circle cx="235.7" cy="419.6" r="2.8"/><circle cx="234.9" cy="419.2" r="2.8"/><circle cx="234.1" cy="419.5" r="2.8"/><circle cx="233.3" cy="418.8" r="2.8"/><circle cx="232.5" cy="419.1" r="2.8"/><circle cx="231.7" cy="419" r="2.8"/><circle cx="230.9" cy="419.4" r="2.8"/><circle cx="230.2" cy="418.6" r="2.8"/><circle cx="229.4" cy="418.7" r="2.8"/><circle cx="228.6" cy="418.4" r="2.8"/><circle cx="227.8" cy="418.4" r="2.8"/><circle cx="227" cy="418.4" r="2.8"/><circle cx="226.2" cy="418.5" r="2.8"/><circle cx="225.4" cy="419.1" r="2.8"/><circle cx="224.6" cy="417.9" r="2.8"/><circle cx="223.8" cy="417" r="2.8"/><circle cx="223" cy="418.4" r="2.8"/><circle cx="222.2" cy="418.1" r="2.8"/><circle cx="221.4" cy="416.7" r="2.8"/><circle cx="220.6" cy="416.9" r="2.8"/><circle cx="219.8" cy="416.9" r="2.8"/><circle cx="219" cy="416" r="2.8"/><circle cx="218.2" cy="415.7" r="2.8"/><circle cx="217.4" cy="416" r="2.8"/><circle cx="216.6" cy="415.7" r="2.8"/><circle cx="215.8" cy="415.2" r="2.8"/><circle cx="215" cy="415.3" r="2.8"/><circle cx="214.2" cy="414.2" r="2.8"/><circle cx="213.4" cy="415.5" r="2.8"/><circle cx="212.6" cy="414.7" r="2.8"/><circle cx="211.8" cy="414.8" r="2.8"/><circle cx="211" cy="414.6" r="2.8"/><circle cx="210.2" cy="414.2" r="2.8"/><circle cx="209.4" cy="414.1" r="2.8"/><circle cx="208.6" cy="413.5" r="2.8"/><circle cx="207.8" cy="412.8" r="2.8"/><circle cx="207" cy="414.3" r="2.8"/><circle cx="206.2" cy="412.8" r="2.8"/><circle cx="205.4" cy="413.3" r="2.8"/><circle cx="204.6" cy="412.7" r="2.8"/><circle cx="203.8" cy="412.5" r="2.8"/><circle cx="203" cy="413.1" r="2.8"/><circle cx="202.2" cy="412.8" r="2.8"/><circle cx="201.4" cy="411.6" r="2.8"/><circle cx="200.6" cy="412.4" r="2.8"/><circle cx="199.8" cy="412.4" r="2.8"/><circle cx="199" cy="411.5" r="2.8"/><circle cx="198.2" cy="410.6" r="2.8"/><circle cx="197.4" cy="410.9" r="2.8"/><circle cx="196.6" cy="409.3" r="2.8"/><circle cx="195.8" cy="409.6" r="2.8"/><circle cx="195" cy="408.9" r="2.8"/><circle cx="194.2" cy="408.7" r="2.8"/><circle cx="193.4" cy="408.6" r="2.8"/><circle cx="192.6" cy="408.7" r="2.8"/><circle cx="191.8" cy="408.3" r="2.8"/><circle cx="191" cy="407.1" r="2.8"/><circle cx="190.2" cy="406.5" r="2.8"/><circle cx="189.4" cy="406.9" r="2.8"/><circle cx="188.6" cy="405.7" r="2.8"/><circle cx="187.8" cy="405" r="2.8"/><circle cx="187" cy="404.3" r="2.8"/><circle cx="186.2" cy="404.8" r="2.8"/><circle cx="185.4" cy="404.7" r="2.8"/><circle cx="184.6" cy="403.1" r="2.8"/><circle cx="183.8" cy="401.8" r="2.8"/><circle cx="183" cy="401.6" r="2.8"/><circle cx="182.2" cy="400.7" r="2.8"/><circle cx="181.5" cy="400" r="2.8"/><circle cx="180.7" cy="399.4" r="2.8"/><circle cx="179.9" cy="397.4" r="2.8"/><circle cx="179.1" cy="394.8" r="2.8"/><circle cx="178.3" cy="394.6" r="2.8"/><circle cx="177.5" cy="391.9" r="2.8"/><circle cx="176.7" cy="390.2" r="2.8"/><circle cx="175.9" cy="387.6" r="2.8"/><circle cx="175.1" cy="385.6" r="2.8"/><circle cx="174.3" cy="382.6" r="2.8"/><circle cx="173.5" cy="380.8" r="2.8"/><circle cx="172.7" cy="378.5" r="2.8"/><circle cx="171.9" cy="376.7" r="2.8"/><circle cx="171.1" cy="373.8" r="2.8"/><circle cx="170.3" cy="371.1" r="2.8"/><circle cx="169.5" cy="368.6" r="2.8"/><circle cx="168.7" cy="366.5" r="2.8"/><circle cx="167.9" cy="363.3" r="2.8"/><circle cx="167.1" cy="361.8" r="2.8"/><circle cx="166.3" cy="358.7" r="2.8"/><circle cx="165.5" cy="357.5" r="2.8"/><circle cx="164.7" cy="353.9" r="2.8"/><circle cx="163.9" cy="351" r="2.8"/><circle cx="163.1" cy="349.1" r="2.8"/><circle cx="162.3" cy="346.3" r="2.8"/><circle cx="161.5" cy="344" r="2.8"/><circle cx="160.7" cy="342.4" r="2.8"/><circle cx="159.9" cy="339.8" r="2.8"/><circle cx="159.1" cy="337.4" r="2.8"/><circle cx="158.3" cy="335.3" r="2.8"/><circle cx="157.5" cy="333.8" r="2.8"/><circle cx="156.7" cy="330.7" r="2.8"/><circle cx="155.9" cy="329.9" r="2.8"/><circle cx="155.1" cy="327.6" r="2.8"/><circle cx="154.3" cy="326.8" r="2.8"/><circle cx="153.5" cy="325.6" r="2.8"/><circle cx="152.7" cy="324.2" r="2.8"/><circle cx="151.9" cy="323.1" r="2.8"/><circle cx="151.1" cy="321.5" r="2.8"/><circle cx="150.3" cy="320.2" r="2.8"/><circle cx="149.5" cy="319.8" r="2.8"/><circle cx="148.7" cy="319.1" r="2.8"/><circle cx="147.9" cy="317.2" r="2.8"/><circle cx="147.1" cy="316.4" r="2.8"/><circle cx="146.3" cy="313.5" r="2.8"/><circle cx="145.5" cy="312.1" r="2.8"/><circle cx="144.7" cy="310.5" r="2.8"/><circle cx="143.9" cy="308.8" r="2.8"/><circle cx="143.1" cy="308.6" r="2.8"/><circle cx="142.3" cy="307.4" r="2.8"/><circle cx="141.5" cy="307.4" r="2.8"/><circle cx="140.7" cy="306" r="2.8"/><circle cx="139.9" cy="305.9" r="2.8"/><circle cx="139.1" cy="305.3" r="2.8"/><circle cx="138.3" cy="304.7" r="2.8"/><circle cx="137.5" cy="304.1" r="2.8"/><circle cx="136.7" cy="304.2" r="2.8"/><circle cx="135.9" cy="303.4" r="2.8"/><circle cx="135.1" cy="302.5" r="2.8"/><circle cx="134.3" cy="302" r="2.8"/><circle cx="133.6" cy="301.9" r="2.8"/><circle cx="132.8" cy="300.9" r="2.8"/><circle cx="132" cy="300.9" r="2.8"/><circle cx="131.2" cy="300.2" r="2.8"/><circle cx="130.4" cy="299.5" r="2.8"/><circle cx="129.6" cy="298.4" r="2.8"/><circle cx="128.8" cy="298.3" r="2.8"/><circle cx="128" cy="298" r="2.8"/><circle cx="127.2" cy="298.2" r="2.8"/><circle cx="126.4" cy="297.3" r="2.8"/><circle cx="125.6" cy="297.3" r="2.8"/><circle cx="124.8" cy="297.6" r="2.8"/><circle cx="124" cy="296.4" r="2.8"/><circle cx="123.2" cy="296.9" r="2.8"/><circle cx="122.4" cy="295.3" r="2.8"/><circle cx="121.6" cy="296.5" r="2.8"/><circle cx="120.8" cy="295.7" r="2.8"/><circle cx="120" cy="295.8" r="2.8"/><circle cx="119.2" cy="295.4" r="2.8"/><circle cx="118.4" cy="294.8" r="2.8"/><circle cx="117.6" cy="294.9" r="2.8"/><circle cx="116.8" cy="294.6" r="2.8"/><circle cx="116" cy="294.2" r="2.8"/><circle cx="115.2" cy="293.2" r="2.8"/><circle cx="114.4" cy="292.4" r="2.8"/><circle cx="113.6" cy="293.8" r="2.8"/><circle cx="112.8" cy="293.5" r="2.8"/><circle cx="112" cy="292.3" r="2.8"/><circle cx="111.2" cy="292.5" r="2.8"/><circle cx="110.4" cy="291.5" r="2.8"/><circle cx="109.6" cy="292.6" r="2.8"/><circle cx="108.8" cy="291.6" r="2.8"/><circle cx="108" cy="291.7" r="2.8"/><circle cx="107.2" cy="291.3" r="2.8"/><circle cx="106.4" cy="290.8" r="2.8"/><circle cx="105.6" cy="291" r="2.8"/><circle cx="104.8" cy="290.1" r="2.8"/><circle cx="104" cy="289.8" r="2.8"/><circle cx="103.2" cy="289.9" r="2.8"/><circle cx="102.4" cy="289.7" r="2.8"/><circle cx="101.6" cy="289.3" r="2.8"/><circle cx="100.8" cy="289.1" r="2.8"/><circle cx="100" cy="289.1" r="2.8"/><circle cx="99.2" cy="289.1" r="2.8"/><circle cx="98.4" cy="288.5" r="2.8"/><circle cx="97.6" cy="289" r="2.8"/><circle cx="96.8" cy="288.7" r="2.8"/><circle cx="96" cy="288.2" r="2.8"/><circle cx="95.2" cy="288.8" r="2.8"/><circle cx="94.4" cy="288.6" r="2.8"/><circle cx="93.6" cy="287.9" r="2.8"/><circle cx="92.8" cy="287.3" r="2.8"/><circle cx="92" cy="287.8" r="2.8"/><circle cx="91.2" cy="288.3" r="2.8"/><circle cx="90.4" cy="287.1" r="2.8"/><circle cx="89.6" cy="287.2" r="2.8"/><circle cx="88.8" cy="287.9" r="2.8"/><circle cx="88" cy="286.6" r="2.8"/><circle cx="87.2" cy="287.6" r="2.8"/><circle cx="86.5" cy="286.9" r="2.8"/><circle cx="85.7" cy="286.5" r="2.8"/><circle cx="84.9" cy="286.5" r="2.8"/><circle cx="84.1" cy="287.1" r="2.8"/><circle cx="83.3" cy="286.6" r="2.8"/><circle cx="82.5" cy="286.5" r="2.8"/><circle cx="81.7" cy="286.6" r="2.8"/><circle cx="80.9" cy="286.6" r="2.8"/><circle cx="80.1" cy="285.1" r="2.8"/><circle cx="79.3" cy="285.7" r="2.8"/><circle cx="78.5" cy="286.1" r="2.8"/><circle cx="77.7" cy="285.7" r="2.8"/><circle cx="76.9" cy="285.9" r="2.8"/><circle cx="76.1" cy="285.6" r="2.8"/><circle cx="75.3" cy="285" r="2.8"/><circle cx="74.5" cy="285.3" r="2.8"/><circle cx="73.7" cy="285.7" r="2.8"/><circle cx="72.9" cy="285" r="2.8"/><circle cx="72.1" cy="285.4" r="2.8"/><circle cx="71.3" cy="284.3" r="2.8"/><circle cx="70.5" cy="285.5" r="2.8"/><circle cx="69.7" cy="284.8" r="2.8"/><circle cx="68.9" cy="284.8" r="2.8"/><circle cx="68.1" cy="285" r="2.8"/><circle cx="67.3" cy="284.6" r="2.8"/><circle cx="66.5" cy="285.6" r="2.8"/><circle cx="65.7" cy="285.7" r="2.8"/><circle cx="64.9" cy="285.1" r="2.8"/><circle cx="64.1" cy="284.1" r="2.8"/><circle cx="63.3" cy="284.7" r="2.8"/><circle cx="62.5" cy="284.6" r="2.8"/></g>
<g fill="#fff" stroke="#0070c0" stroke-width="1.1"><circle cx="300.4" cy="417.7" r="2.8"/><circle cx="299.6" cy="417.3" r="2.8"/><circle cx="298.8" cy="416.9" r="2.8"/><circle cx="298" cy="416.9" r="2.8"/><circle cx="297.2" cy="416.7" r="2.8"/><circle cx="296.4" cy="416.9" r="2.8"/><circle cx="295.6" cy="417.5" r="2.8"/><circle cx="294.8" cy="416.6" r="2.8"/><circle cx="294" cy="415.9" r="2.8"/><circle cx="293.2" cy="415.9" r="2.8"/><circle cx="292.4" cy="415.2" r="2.8"/><circle cx="291.6" cy="415.2" r="2.8"/><circle cx="290.8" cy="415.5" r="2.8"/><circle cx="290" cy="415.3" r="2.8"/><circle cx="289.2" cy="414.5" r="2.8"/><circle cx="288.4" cy="414.2" r="2.8"/><circle cx="287.6" cy="414" r="2.8"/><circle cx="286.8" cy="413.4" r="2.8"/><circle cx="286" cy="413.6" r="2.8"/><circle cx="285.2" cy="413.6" r="2.8"/><circle cx="284.4" cy="412.7" r="2.8"/><circle cx="283.6" cy="413.4" r="2.8"/><circle cx="282.8" cy="412" r="2.8"/><circle cx="282" cy="411.5" r="2.8"/><circle cx="281.2" cy="412.2" r="2.8"/><circle cx="280.4" cy="411.5" r="2.8"/><circle cx="279.6" cy="412.6" r="2.8"/><circle cx="278.8" cy="411.4" r="2.8"/><circle cx="278.1" cy="411.6" r="2.8"/><circle cx="277.3" cy="410.8" r="2.8"/><circle cx="276.5" cy="410.6" r="2.8"/><circle cx="275.7" cy="409.7" r="2.8"/><circle cx="274.9" cy="408.9" r="2.8"/><circle cx="274.1" cy="409.1" r="2.8"/><circle cx="273.3" cy="408.5" r="2.8"/><circle cx="272.5" cy="408.1" r="2.8"/><circle cx="271.7" cy="407" r="2.8"/><circle cx="270.9" cy="407.6" r="2.8"/><circle cx="270.1" cy="407.5" r="2.8"/><circle cx="269.3" cy="404.4" r="2.8"/><circle cx="268.5" cy="404.7" r="2.8"/><circle cx="267.7" cy="404.9" r="2.8"/><circle cx="266.9" cy="402.8" r="2.8"/><circle cx="266.1" cy="403.4" r="2.8"/><circle cx="265.3" cy="401.7" r="2.8"/><circle cx="264.5" cy="401.4" r="2.8"/><circle cx="263.7" cy="400.9" r="2.8"/><circle cx="262.9" cy="399.5" r="2.8"/><circle cx="262.1" cy="397.8" r="2.8"/><circle cx="261.3" cy="396.8" r="2.8"/><circle cx="260.5" cy="395.4" r="2.8"/><circle cx="259.7" cy="395.1" r="2.8"/><circle cx="258.9" cy="393.7" r="2.8"/><circle cx="258.1" cy="391.7" r="2.8"/><circle cx="257.3" cy="390.4" r="2.8"/><circle cx="256.5" cy="387.7" r="2.8"/><circle cx="255.7" cy="385.9" r="2.8"/><circle cx="254.9" cy="383" r="2.8"/><circle cx="254.1" cy="381.4" r="2.8"/><circle cx="253.3" cy="379.2" r="2.8"/><circle cx="252.5" cy="377.6" r="2.8"/><circle cx="251.7" cy="375.3" r="2.8"/><circle cx="250.9" cy="373" r="2.8"/><circle cx="250.1" cy="370.8" r="2.8"/><circle cx="249.3" cy="367.8" r="2.8"/><circle cx="248.5" cy="365.5" r="2.8"/><circle cx="247.7" cy="362.2" r="2.8"/><circle cx="246.9" cy="359.9" r="2.8"/><circle cx="246.1" cy="357.9" r="2.8"/><circle cx="245.3" cy="354.5" r="2.8"/><circle cx="244.5" cy="350.3" r="2.8"/><circle cx="243.7" cy="347.4" r="2.8"/><circle cx="242.9" cy="344.8" r="2.8"/><circle cx="242.1" cy="342.7" r="2.8"/><circle cx="241.3" cy="339.9" r="2.8"/><circle cx="240.5" cy="338.6" r="2.8"/><circle cx="239.7" cy="335.6" r="2.8"/><circle cx="238.9" cy="332.6" r="2.8"/><circle cx="238.1" cy="330.7" r="2.8"/><circle cx="237.3" cy="327.9" r="2.8"/><circle cx="236.5" cy="326.6" r="2.8"/><circle cx="235.7" cy="323.9" r="2.8"/><circle cx="234.9" cy="321.6" r="2.8"/><circle cx="234.1" cy="320.7" r="2.8"/><circle cx="233.3" cy="318.4" r="2.8"/><circle cx="232.5" cy="317.4" r="2.8"/><circle cx="231.7" cy="316.1" r="2.8"/><circle cx="230.9" cy="313.7" r="2.8"/><circle cx="230.2" cy="312.2" r="2.8"/><circle cx="229.4" cy="310.4" r="2.8"/><circle cx="228.6" cy="309.4" r="2.8"/><circle cx="227.8" cy="307.2" r="2.8"/><circle cx="227" cy="305.6" r="2.8"/><circle cx="226.2" cy="305.2" r="2.8"/><circle cx="225.4" cy="303.6" r="2.8"/><circle cx="224.6" cy="303.1" r="2.8"/><circle cx="223.8" cy="302.8" r="2.8"/><circle cx="223" cy="301.9" r="2.8"/><circle cx="222.2" cy="301" r="2.8"/><circle cx="221.4" cy="299.1" r="2.8"/><circle cx="220.6" cy="299.6" r="2.8"/><circle cx="219.8" cy="298.3" r="2.8"/><circle cx="219" cy="298.6" r="2.8"/><circle cx="218.2" cy="295.5" r="2.8"/><circle cx="217.4" cy="295.7" r="2.8"/><circle cx="216.6" cy="295.7" r="2.8"/><circle cx="215.8" cy="294.4" r="2.8"/><circle cx="215" cy="294.4" r="2.8"/><circle cx="214.2" cy="294.3" r="2.8"/><circle cx="213.4" cy="293.9" r="2.8"/><circle cx="212.6" cy="293.3" r="2.8"/><circle cx="211.8" cy="291.9" r="2.8"/><circle cx="211" cy="293.2" r="2.8"/><circle cx="210.2" cy="290.6" r="2.8"/><circle cx="209.4" cy="291.9" r="2.8"/><circle cx="208.6" cy="291.1" r="2.8"/><circle cx="207.8" cy="290.3" r="2.8"/><circle cx="207" cy="289.1" r="2.8"/><circle cx="206.2" cy="289.4" r="2.8"/><circle cx="205.4" cy="289.5" r="2.8"/><circle cx="204.6" cy="288.9" r="2.8"/><circle cx="203.8" cy="288" r="2.8"/><circle cx="203" cy="288.8" r="2.8"/><circle cx="202.2" cy="288.6" r="2.8"/><circle cx="201.4" cy="287.8" r="2.8"/><circle cx="200.6" cy="288.2" r="2.8"/><circle cx="199.8" cy="287.9" r="2.8"/><circle cx="199" cy="287.1" r="2.8"/><circle cx="198.2" cy="286.8" r="2.8"/><circle cx="197.4" cy="287.4" r="2.8"/><circle cx="196.6" cy="287.4" r="2.8"/><circle cx="195.8" cy="286.6" r="2.8"/><circle cx="195" cy="286.7" r="2.8"/><circle cx="194.2" cy="287.2" r="2.8"/><circle cx="193.4" cy="288.3" r="2.8"/><circle cx="192.6" cy="287.6" r="2.8"/><circle cx="191.8" cy="287.8" r="2.8"/><circle cx="191" cy="288.6" r="2.8"/><circle cx="190.2" cy="288.2" r="2.8"/><circle cx="189.4" cy="288.1" r="2.8"/><circle cx="188.6" cy="290" r="2.8"/><circle cx="187.8" cy="289.6" r="2.8"/><circle cx="187" cy="289.9" r="2.8"/><circle cx="186.2" cy="289.6" r="2.8"/><circle cx="185.4" cy="290.3" r="2.8"/><circle cx="184.6" cy="290.6" r="2.8"/><circle cx="183.8" cy="291.7" r="2.8"/><circle cx="183" cy="291.8" r="2.8"/><circle cx="182.2" cy="292.3" r="2.8"/><circle cx="181.5" cy="293.1" r="2.8"/><circle cx="180.7" cy="294.1" r="2.8"/><circle cx="179.9" cy="294.4" r="2.8"/><circle cx="179.1" cy="295.7" r="2.8"/><circle cx="178.3" cy="297.4" r="2.8"/><circle cx="177.5" cy="298.8" r="2.8"/><circle cx="176.7" cy="300.5" r="2.8"/><circle cx="175.9" cy="302.1" r="2.8"/><circle cx="175.1" cy="304.2" r="2.8"/><circle cx="174.3" cy="306.4" r="2.8"/><circle cx="173.5" cy="310.3" r="2.8"/><circle cx="172.7" cy="312.1" r="2.8"/><circle cx="171.9" cy="315.9" r="2.8"/><circle cx="171.1" cy="319.5" r="2.8"/><circle cx="170.3" cy="322.7" r="2.8"/><circle cx="169.5" cy="327.4" r="2.8"/><circle cx="168.7" cy="330.5" r="2.8"/><circle cx="167.9" cy="332.9" r="2.8"/><circle cx="167.1" cy="336.7" r="2.8"/><circle cx="166.3" cy="339.6" r="2.8"/><circle cx="165.5" cy="343.1" r="2.8"/><circle cx="164.7" cy="345.6" r="2.8"/><circle cx="163.9" cy="347.1" r="2.8"/><circle cx="163.1" cy="350.7" r="2.8"/><circle cx="162.3" cy="353.6" r="2.8"/><circle cx="161.5" cy="357" r="2.8"/><circle cx="160.7" cy="359" r="2.8"/><circle cx="159.9" cy="361.1" r="2.8"/><circle cx="159.1" cy="362.9" r="2.8"/><circle cx="158.3" cy="366.5" r="2.8"/><circle cx="157.5" cy="368.8" r="2.8"/><circle cx="156.7" cy="369.7" r="2.8"/><circle cx="155.9" cy="371.6" r="2.8"/><circle cx="155.1" cy="371.3" r="2.8"/><circle cx="154.3" cy="373.3" r="2.8"/><circle cx="153.5" cy="374.1" r="2.8"/><circle cx="152.7" cy="376.2" r="2.8"/><circle cx="151.9" cy="377.8" r="2.8"/><circle cx="151.1" cy="379.4" r="2.8"/><circle cx="150.3" cy="381.8" r="2.8"/><circle cx="149.5" cy="382.8" r="2.8"/><circle cx="148.7" cy="386.1" r="2.8"/><circle cx="147.9" cy="387.1" r="2.8"/><circle cx="147.1" cy="388.5" r="2.8"/><circle cx="146.3" cy="390.4" r="2.8"/><circle cx="145.5" cy="391.9" r="2.8"/><circle cx="144.7" cy="393.2" r="2.8"/><circle cx="143.9" cy="394.5" r="2.8"/><circle cx="143.1" cy="396.1" r="2.8"/><circle cx="142.3" cy="397.2" r="2.8"/><circle cx="141.5" cy="397.4" r="2.8"/><circle cx="140.7" cy="398.3" r="2.8"/><circle cx="139.9" cy="397.9" r="2.8"/><circle cx="139.1" cy="399.5" r="2.8"/><circle cx="138.3" cy="398.6" r="2.8"/><circle cx="137.5" cy="399.2" r="2.8"/><circle cx="136.7" cy="399.6" r="2.8"/><circle cx="135.9" cy="400.9" r="2.8"/><circle cx="135.1" cy="402" r="2.8"/><circle cx="134.3" cy="402.4" r="2.8"/><circle cx="133.6" cy="402.6" r="2.8"/><circle cx="132.8" cy="403.6" r="2.8"/><circle cx="132" cy="403.8" r="2.8"/><circle cx="131.2" cy="404.3" r="2.8"/><circle cx="130.4" cy="404.3" r="2.8"/><circle cx="129.6" cy="404.8" r="2.8"/><circle cx="128.8" cy="405.7" r="2.8"/><circle cx="128" cy="406.6" r="2.8"/><circle cx="127.2" cy="406.9" r="2.8"/><circle cx="126.4" cy="407.3" r="2.8"/><circle cx="125.6" cy="407.4" r="2.8"/><circle cx="124.8" cy="408" r="2.8"/><circle cx="124" cy="409.1" r="2.8"/><circle cx="123.2" cy="408.6" r="2.8"/><circle cx="122.4" cy="410.6" r="2.8"/><circle cx="121.6" cy="409.7" r="2.8"/><circle cx="120.8" cy="410.3" r="2.8"/><circle cx="120" cy="410.2" r="2.8"/><circle cx="119.2" cy="411.2" r="2.8"/><circle cx="118.4" cy="411.2" r="2.8"/><circle cx="117.6" cy="411" r="2.8"/><circle cx="116.8" cy="411.5" r="2.8"/><circle cx="116" cy="412.3" r="2.8"/><circle cx="115.2" cy="411.9" r="2.8"/><circle cx="114.4" cy="412.6" r="2.8"/><circle cx="113.6" cy="412.7" r="2.8"/><circle cx="112.8" cy="412.3" r="2.8"/><circle cx="112" cy="412.9" r="2.8"/><circle cx="111.2" cy="414.2" r="2.8"/><circle cx="110.4" cy="413" r="2.8"/><circle cx="109.6" cy="413.6" r="2.8"/><circle cx="108.8" cy="414.6" r="2.8"/><circle cx="108" cy="414.4" r="2.8"/><circle cx="107.2" cy="414.1" r="2.8"/><circle cx="106.4" cy="414.6" r="2.8"/><circle cx="105.6" cy="414.8" r="2.8"/><circle cx="104.8" cy="414.3" r="2.8"/><circle cx="104" cy="415.8" r="2.8"/><circle cx="103.2" cy="416.4" r="2.8"/><circle cx="102.4" cy="416.6" r="2.8"/><circle cx="101.6" cy="416.5" r="2.8"/><circle cx="100.8" cy="416.9" r="2.8"/><circle cx="100" cy="417.5" r="2.8"/><circle cx="99.2" cy="416.6" r="2.8"/><circle cx="98.4" cy="417.1" r="2.8"/><circle cx="97.6" cy="417.9" r="2.8"/><circle cx="96.8" cy="417.5" r="2.8"/><circle cx="96" cy="418.1" r="2.8"/><circle cx="95.2" cy="418.1" r="2.8"/><circle cx="94.4" cy="417.6" r="2.8"/><circle cx="93.6" cy="418.8" r="2.8"/><circle cx="92.8" cy="419.3" r="2.8"/><circle cx="92" cy="419.4" r="2.8"/><circle cx="91.2" cy="419.5" r="2.8"/><circle cx="90.4" cy="419.6" r="2.8"/><circle cx="89.6" cy="419.4" r="2.8"/><circle cx="88.8" cy="419.3" r="2.8"/><circle cx="88" cy="419.1" r="2.8"/><circle cx="87.2" cy="419" r="2.8"/><circle cx="86.5" cy="419.2" r="2.8"/><circle cx="85.7" cy="419.9" r="2.8"/><circle cx="84.9" cy="419.7" r="2.8"/><circle cx="84.1" cy="418.7" r="2.8"/><circle cx="83.3" cy="419.5" r="2.8"/><circle cx="82.5" cy="420.1" r="2.8"/><circle cx="81.7" cy="419" r="2.8"/><circle cx="80.9" cy="418.9" r="2.8"/><circle cx="80.1" cy="419.2" r="2.8"/><circle cx="79.3" cy="419" r="2.8"/><circle cx="78.5" cy="419.7" r="2.8"/><circle cx="77.7" cy="420.6" r="2.8"/><circle cx="76.9" cy="420.2" r="2.8"/><circle cx="76.1" cy="419.9" r="2.8"/><circle cx="75.3" cy="420.3" r="2.8"/><circle cx="74.5" cy="419.9" r="2.8"/><circle cx="73.7" cy="420.2" r="2.8"/><circle cx="72.9" cy="420.4" r="2.8"/><circle cx="72.1" cy="420.9" r="2.8"/><circle cx="71.3" cy="420.9" r="2.8"/><circle cx="70.5" cy="420.6" r="2.8"/><circle cx="69.7" cy="420.2" r="2.8"/><circle cx="68.9" cy="419.9" r="2.8"/><circle cx="68.1" cy="420.5" r="2.8"/><circle cx="67.3" cy="420.5" r="2.8"/><circle cx="66.5" cy="420.8" r="2.8"/><circle cx="65.7" cy="420.1" r="2.8"/><circle cx="64.9" cy="421.1" r="2.8"/><circle cx="64.1" cy="420.7" r="2.8"/><circle cx="63.3" cy="420.7" r="2.8"/><circle cx="62.5" cy="420.8" r="2.8"/></g>
<g stroke="#333" stroke-width="1.25" fill="none">
<path d="M440.6 266.6V428.4H680.5V266.6H440.6Z"/>
<path d="M440.6 412.2h3M680.5 412.2h-3M440.6 396h3M680.5 396h-3M440.6 379.9h3M680.5 379.9h-3M440.6 363.7h3M680.5 363.7h-3M440.6 347.5h3M680.5 347.5h-3M440.6 331.3h3M680.5 331.3h-3M440.6 315.1h3M680.5 315.1h-3M440.6 299h3M680.5 299h-3M440.6 282.8h3M680.5 282.8h-3M480.6 428.4v-3M520.6 428.4v-3M560.5 428.4v-3M600.5 428.4v-3M640.5 428.4v-3"/>
</g>
<g font-size="10" fill="#1a1a1a">
<text x="432.3" y="432" text-anchor="end">0</text>
<text x="690.1" y="432">0</text>
<text x="432.3" y="415.8" text-anchor="end">1000</text>
<text x="690.1" y="415.8">200</text>
<text x="432.3" y="399.6" text-anchor="end">2000</text>
<text x="690.1" y="399.6">400</text>
<text x="432.3" y="383.5" text-anchor="end">3000</text>
<text x="690.1" y="383.5">600</text>
<text x="432.3" y="367.3" text-anchor="end">4000</text>
<text x="690.1" y="367.3">800</text>
<text x="432.3" y="351.1" text-anchor="end">5000</text>
<text x="690.1" y="351.1">1000</text>
<text x="432.3" y="334.9" text-anchor="end">6000</text>
<text x="690.1" y="334.9">1200</text>
<text x="432.3" y="318.7" text-anchor="end">7000</text>
<text x="690.1" y="318.7">1400</text>
<text x="432.3" y="302.6" text-anchor="end">8000</text>
<text x="690.1" y="302.6">1600</text>
<text x="432.3" y="286.4" text-anchor="end">9000</text>
<text x="690.1" y="286.4">1800</text>
<text x="432.3" y="270.2" text-anchor="end">10000</text>
<text x="690.1" y="270.2">2000</text>
<text x="440.6" y="444.6" text-anchor="middle">0</text>
<text x="480.6" y="444.6" text-anchor="middle">50</text>
<text x="520.6" y="444.6" text-anchor="middle">100</text>
<text x="560.5" y="444.6" text-anchor="middle">150</text>
<text x="600.5" y="444.6" text-anchor="middle">200</text>
<text x="640.5" y="444.6" text-anchor="middle">250</text>
<text x="680.5" y="444.6" text-anchor="middle">300</text>
</g>
<g font-size="11.6" fill="#1a1a1a" text-anchor="middle">
<text x="560.5" y="461.9">Scanning depth (µm)</text>
<text transform="translate(398.3 348.5) rotate(-90)">Intensity (a.u.)</text>
<text transform="translate(727.5 348.5) rotate(-90)">Intensity (a.u.)</text>
</g>
<text x="453.6" y="323.2" font-size="20" font-weight="bold" fill="#000">d</text>
<g fill="#fff" stroke="#ff0000" stroke-width="1.1"><circle cx="678.9" cy="425.2" r="2.8"/><circle cx="678.1" cy="425.1" r="2.8"/><circle cx="677.3" cy="425" r="2.8"/><circle cx="676.5" cy="425.4" r="2.8"/><circle cx="675.7" cy="425.2" r="2.8"/><circle cx="674.9" cy="425.9" r="2.8"/><circle cx="674.1" cy="424.4" r="2.8"/><circle cx="673.3" cy="424.8" r="2.8"/><circle cx="672.5" cy="425.7" r="2.8"/><circle cx="671.7" cy="424.8" r="2.8"/><circle cx="670.9" cy="424.9" r="2.8"/><circle cx="670.1" cy="425.5" r="2.8"/><circle cx="669.3" cy="425.2" r="2.8"/><circle cx="668.5" cy="425.4" r="2.8"/><circle cx="667.7" cy="425.1" r="2.8"/><circle cx="666.9" cy="424.1" r="2.8"/><circle cx="666.1" cy="425.1" r="2.8"/><circle cx="665.3" cy="425.2" r="2.8"/><circle cx="664.5" cy="424.7" r="2.8"/><circle cx="663.7" cy="424.7" r="2.8"/><circle cx="662.9" cy="424.2" r="2.8"/><circle cx="662.1" cy="424.3" r="2.8"/><circle cx="661.3" cy="423.9" r="2.8"/><circle cx="660.5" cy="424.3" r="2.8"/><circle cx="659.7" cy="424.7" r="2.8"/><circle cx="658.9" cy="423.8" r="2.8"/><circle cx="658.1" cy="423.8" r="2.8"/><circle cx="657.3" cy="424.6" r="2.8"/><circle cx="656.5" cy="424" r="2.8"/><circle cx="655.7" cy="423.2" r="2.8"/><circle cx="654.9" cy="423.9" r="2.8"/><circle cx="654.1" cy="424.4" r="2.8"/><circle cx="653.3" cy="423.9" r="2.8"/><circle cx="652.5" cy="423.1" r="2.8"/><circle cx="651.7" cy="423.4" r="2.8"/><circle cx="650.9" cy="424.3" r="2.8"/><circle cx="650.1" cy="422.8" r="2.8"/><circle cx="649.3" cy="423.5" r="2.8"/><circle cx="648.5" cy="422.3" r="2.8"/><circle cx="647.7" cy="422.2" r="2.8"/><circle cx="646.9" cy="422.6" r="2.8"/><circle cx="646.1" cy="422.2" r="2.8"/><circle cx="645.3" cy="423" r="2.8"/><circle cx="644.5" cy="422.8" r="2.8"/><circle cx="643.7" cy="422.8" r="2.8"/><circle cx="642.9" cy="422.7" r="2.8"/><circle cx="642.1" cy="421.3" r="2.8"/><circle cx="641.3" cy="421.6" r="2.8"/><circle cx="640.5" cy="422.6" r="2.8"/><circle cx="639.7" cy="422.2" r="2.8"/><circle cx="638.9" cy="421.1" r="2.8"/><circle cx="638.1" cy="421.3" r="2.8"/><circle cx="637.3" cy="421" r="2.8"/><circle cx="636.5" cy="420.9" r="2.8"/><circle cx="635.7" cy="422.1" r="2.8"/><circle cx="634.9" cy="420.7" r="2.8"/><circle cx="634.1" cy="420.4" r="2.8"/><circle cx="633.3" cy="421.1" r="2.8"/><circle cx="632.5" cy="420.5" r="2.8"/><circle cx="631.7" cy="420.8" r="2.8"/><circle cx="630.9" cy="419.5" r="2.8"/><circle cx="630.1" cy="420.6" r="2.8"/><circle cx="629.3" cy="419.8" r="2.8"/><circle cx="628.5" cy="420.3" r="2.8"/><circle cx="627.7" cy="418.8" r="2.8"/><circle cx="626.9" cy="419.8" r="2.8"/><circle cx="626.1" cy="419.3" r="2.8"/><circle cx="625.3" cy="419.8" r="2.8"/><circle cx="624.5" cy="419.4" r="2.8"/><circle cx="623.7" cy="418.4" r="2.8"/><circle cx="622.9" cy="419.4" r="2.8"/><circle cx="622.1" cy="419.3" r="2.8"/><circle cx="621.3" cy="419.3" r="2.8"/><circle cx="620.5" cy="418.3" r="2.8"/><circle cx="619.7" cy="419.1" r="2.8"/><circle cx="618.9" cy="418.5" r="2.8"/><circle cx="618.1" cy="418.1" r="2.8"/><circle cx="617.3" cy="418.3" r="2.8"/><circle cx="616.5" cy="418.1" r="2.8"/><circle cx="615.7" cy="418.5" r="2.8"/><circle cx="614.9" cy="417.5" r="2.8"/><circle cx="614.1" cy="417.8" r="2.8"/><circle cx="613.3" cy="417.5" r="2.8"/><circle cx="612.5" cy="416.7" r="2.8"/><circle cx="611.7" cy="416.8" r="2.8"/><circle cx="610.9" cy="416.1" r="2.8"/><circle cx="610.1" cy="416" r="2.8"/><circle cx="609.3" cy="415.3" r="2.8"/><circle cx="608.5" cy="414.4" r="2.8"/><circle cx="607.7" cy="414" r="2.8"/><circle cx="606.9" cy="414.3" r="2.8"/><circle cx="606.1" cy="412.3" r="2.8"/><circle cx="605.3" cy="412.9" r="2.8"/><circle cx="604.5" cy="411.8" r="2.8"/><circle cx="603.7" cy="411.3" r="2.8"/><circle cx="602.9" cy="410.7" r="2.8"/><circle cx="602.1" cy="410.8" r="2.8"/><circle cx="601.3" cy="410.2" r="2.8"/><circle cx="600.5" cy="409.3" r="2.8"/><circle cx="599.7" cy="408.2" r="2.8"/><circle cx="598.9" cy="407.4" r="2.8"/><circle cx="598.1" cy="406.9" r="2.8"/><circle cx="597.3" cy="406.6" r="2.8"/><circle cx="596.5" cy="406" r="2.8"/><circle cx="595.7" cy="405.1" r="2.8"/><circle cx="594.9" cy="405.4" r="2.8"/><circle cx="594.1" cy="403.8" r="2.8"/><circle cx="593.3" cy="404.3" r="2.8"/><circle cx="592.5" cy="403.5" r="2.8"/><circle cx="591.7" cy="403.2" r="2.8"/><circle cx="590.9" cy="402.7" r="2.8"/><circle cx="590.1" cy="401.9" r="2.8"/><circle cx="589.3" cy="401.3" r="2.8"/><circle cx="588.5" cy="401" r="2.8"/><circle cx="587.7" cy="401.7" r="2.8"/><circle cx="586.9" cy="400.8" r="2.8"/><circle cx="586.1" cy="401.1" r="2.8"/><circle cx="585.3" cy="401.1" r="2.8"/><circle cx="584.5" cy="399.7" r="2.8"/><circle cx="583.7" cy="400.4" r="2.8"/><circle cx="582.9" cy="399.6" r="2.8"/><circle cx="582.1" cy="398.9" r="2.8"/><circle cx="581.3" cy="398.8" r="2.8"/><circle cx="580.5" cy="398.6" r="2.8"/><circle cx="579.7" cy="398.5" r="2.8"/><circle cx="578.9" cy="398.3" r="2.8"/><circle cx="578.1" cy="397.4" r="2.8"/><circle cx="577.3" cy="397" r="2.8"/><circle cx="576.5" cy="397.5" r="2.8"/><circle cx="575.7" cy="396.9" r="2.8"/><circle cx="574.9" cy="396.6" r="2.8"/><circle cx="574.1" cy="396.2" r="2.8"/><circle cx="573.3" cy="395.9" r="2.8"/><circle cx="572.5" cy="396.2" r="2.8"/><circle cx="571.7" cy="394.5" r="2.8"/><circle cx="570.9" cy="395.1" r="2.8"/><circle cx="570.1" cy="394.8" r="2.8"/><circle cx="569.3" cy="394.5" r="2.8"/><circle cx="568.5" cy="393.6" r="2.8"/><circle cx="567.7" cy="394.2" r="2.8"/><circle cx="566.9" cy="393.7" r="2.8"/><circle cx="566.1" cy="393.9" r="2.8"/><circle cx="565.3" cy="393" r="2.8"/><circle cx="564.5" cy="393.5" r="2.8"/><circle cx="563.7" cy="392.3" r="2.8"/><circle cx="562.9" cy="392.1" r="2.8"/><circle cx="562.1" cy="391.4" r="2.8"/><circle cx="561.3" cy="390.8" r="2.8"/><circle cx="560.5" cy="390.5" r="2.8"/><circle cx="559.8" cy="390.1" r="2.8"/><circle cx="559" cy="390.9" r="2.8"/><circle cx="558.2" cy="389.3" r="2.8"/><circle cx="557.4" cy="388.8" r="2.8"/><circle cx="556.6" cy="388.2" r="2.8"/><circle cx="555.8" cy="388.4" r="2.8"/><circle cx="555" cy="387.6" r="2.8"/><circle cx="554.2" cy="387.9" r="2.8"/><circle cx="553.4" cy="386.9" r="2.8"/><circle cx="552.6" cy="386.1" r="2.8"/><circle cx="551.8" cy="386.4" r="2.8"/><circle cx="551" cy="385.7" r="2.8"/><circle cx="550.2" cy="384.6" r="2.8"/><circle cx="549.4" cy="384.5" r="2.8"/><circle cx="548.6" cy="383.7" r="2.8"/><circle cx="547.8" cy="383.6" r="2.8"/><circle cx="547" cy="383.6" r="2.8"/><circle cx="546.2" cy="382.4" r="2.8"/><circle cx="545.4" cy="381.4" r="2.8"/><circle cx="544.6" cy="381.3" r="2.8"/><circle cx="543.8" cy="380.5" r="2.8"/><circle cx="543" cy="379.3" r="2.8"/><circle cx="542.2" cy="379.1" r="2.8"/><circle cx="541.4" cy="377.8" r="2.8"/><circle cx="540.6" cy="377" r="2.8"/><circle cx="539.8" cy="376" r="2.8"/><circle cx="539" cy="375.1" r="2.8"/><circle cx="538.2" cy="374" r="2.8"/><circle cx="537.4" cy="372.2" r="2.8"/><circle cx="536.6" cy="372.4" r="2.8"/><circle cx="535.8" cy="370.6" r="2.8"/><circle cx="535" cy="368.9" r="2.8"/><circle cx="534.2" cy="367.4" r="2.8"/><circle cx="533.4" cy="366.6" r="2.8"/><circle cx="532.6" cy="364.2" r="2.8"/><circle cx="531.8" cy="362.4" r="2.8"/><circle cx="531" cy="361.4" r="2.8"/><circle cx="530.2" cy="358.8" r="2.8"/><circle cx="529.4" cy="356.3" r="2.8"/><circle cx="528.6" cy="355.1" r="2.8"/><circle cx="527.8" cy="352" r="2.8"/><circle cx="527" cy="350.2" r="2.8"/><circle cx="526.2" cy="347.5" r="2.8"/><circle cx="525.4" cy="344.5" r="2.8"/><circle cx="524.6" cy="340.6" r="2.8"/><circle cx="523.8" cy="337.8" r="2.8"/><circle cx="523" cy="334.4" r="2.8"/><circle cx="522.2" cy="330.8" r="2.8"/><circle cx="521.4" cy="326.5" r="2.8"/><circle cx="520.6" cy="324.8" r="2.8"/><circle cx="519.8" cy="322.9" r="2.8"/><circle cx="519" cy="320.7" r="2.8"/><circle cx="518.2" cy="319.7" r="2.8"/><circle cx="517.4" cy="318.4" r="2.8"/><circle cx="516.6" cy="316.6" r="2.8"/><circle cx="515.8" cy="315.8" r="2.8"/><circle cx="515" cy="315.3" r="2.8"/><circle cx="514.2" cy="313.2" r="2.8"/><circle cx="513.4" cy="312.5" r="2.8"/><circle cx="512.6" cy="311.8" r="2.8"/><circle cx="511.8" cy="310.5" r="2.8"/><circle cx="511" cy="309.2" r="2.8"/><circle cx="510.2" cy="309" r="2.8"/><circle cx="509.4" cy="307.3" r="2.8"/><circle cx="508.6" cy="306.4" r="2.8"/><circle cx="507.8" cy="306.5" r="2.8"/><circle cx="507" cy="305.5" r="2.8"/><circle cx="506.2" cy="305.1" r="2.8"/><circle cx="505.4" cy="304.9" r="2.8"/><circle cx="504.6" cy="304.4" r="2.8"/><circle cx="503.8" cy="303.3" r="2.8"/><circle cx="503" cy="302.5" r="2.8"/><circle cx="502.2" cy="302.5" r="2.8"/><circle cx="501.4" cy="303" r="2.8"/><circle cx="500.6" cy="301.4" r="2.8"/><circle cx="499.8" cy="301.2" r="2.8"/><circle cx="499" cy="300.9" r="2.8"/><circle cx="498.2" cy="300.5" r="2.8"/><circle cx="497.4" cy="300.5" r="2.8"/><circle cx="496.6" cy="300.3" r="2.8"/><circle cx="495.8" cy="299.4" r="2.8"/><circle cx="495" cy="298.7" r="2.8"/><circle cx="494.2" cy="298.9" r="2.8"/><circle cx="493.4" cy="299.2" r="2.8"/><circle cx="492.6" cy="298.3" r="2.8"/><circle cx="491.8" cy="298.6" r="2.8"/><circle cx="491" cy="297.2" r="2.8"/><circle cx="490.2" cy="296.9" r="2.8"/><circle cx="489.4" cy="297.9" r="2.8"/><circle cx="488.6" cy="296.8" r="2.8"/><circle cx="487.8" cy="296.3" r="2.8"/><circle cx="487" cy="296.5" r="2.8"/><circle cx="486.2" cy="295.1" r="2.8"/><circle cx="485.4" cy="296" r="2.8"/><circle cx="484.6" cy="296.1" r="2.8"/><circle cx="483.8" cy="295" r="2.8"/><circle cx="483" cy="295.7" r="2.8"/><circle cx="482.2" cy="294.6" r="2.8"/><circle cx="481.4" cy="295.5" r="2.8"/><circle cx="480.6" cy="294.4" r="2.8"/><circle cx="479.8" cy="294.4" r="2.8"/><circle cx="479" cy="293.9" r="2.8"/><circle cx="478.2" cy="293.8" r="2.8"/><circle cx="477.4" cy="294.4" r="2.8"/><circle cx="476.6" cy="293.6" r="2.8"/><circle cx="475.8" cy="292.8" r="2.8"/><circle cx="475" cy="293.9" r="2.8"/><circle cx="474.2" cy="293.1" r="2.8"/><circle cx="473.4" cy="293.2" r="2.8"/><circle cx="472.6" cy="293.4" r="2.8"/><circle cx="471.8" cy="292" r="2.8"/><circle cx="471" cy="294.2" r="2.8"/><circle cx="470.2" cy="293.1" r="2.8"/><circle cx="469.4" cy="291.9" r="2.8"/><circle cx="468.6" cy="292.8" r="2.8"/><circle cx="467.8" cy="292.8" r="2.8"/><circle cx="467" cy="292.4" r="2.8"/><circle cx="466.2" cy="292.2" r="2.8"/><circle cx="465.4" cy="292.6" r="2.8"/><circle cx="464.6" cy="292.7" r="2.8"/><circle cx="463.8" cy="293" r="2.8"/><circle cx="463" cy="291.3" r="2.8"/><circle cx="462.2" cy="292" r="2.8"/><circle cx="461.4" cy="291.7" r="2.8"/><circle cx="460.6" cy="291.4" r="2.8"/><circle cx="459.8" cy="291.1" r="2.8"/><circle cx="459" cy="290.9" r="2.8"/><circle cx="458.2" cy="290.8" r="2.8"/><circle cx="457.4" cy="291.3" r="2.8"/><circle cx="456.6" cy="290.8" r="2.8"/><circle cx="455.8" cy="291.7" r="2.8"/><circle cx="455" cy="291.5" r="2.8"/><circle cx="454.2" cy="291.5" r="2.8"/><circle cx="453.4" cy="292.1" r="2.8"/><circle cx="452.6" cy="292" r="2.8"/><circle cx="451.8" cy="291" r="2.8"/><circle cx="451" cy="292.9" r="2.8"/><circle cx="450.2" cy="292.1" r="2.8"/><circle cx="449.4" cy="291.8" r="2.8"/><circle cx="448.6" cy="292.6" r="2.8"/><circle cx="447.8" cy="292.4" r="2.8"/><circle cx="447" cy="292.9" r="2.8"/><circle cx="446.2" cy="292.4" r="2.8"/><circle cx="445.4" cy="293" r="2.8"/><circle cx="444.6" cy="291.7" r="2.8"/><circle cx="443.8" cy="292.2" r="2.8"/><circle cx="443" cy="292.2" r="2.8"/><circle cx="442.2" cy="292.7" r="2.8"/><circle cx="441.4" cy="292.3" r="2.8"/><circle cx="440.6" cy="292.5" r="2.8"/></g>
<g fill="#fff" stroke="#0070c0" stroke-width="1.1"><circle cx="678.9" cy="422.7" r="2.8"/><circle cx="678.1" cy="423.8" r="2.8"/><circle cx="677.3" cy="422.1" r="2.8"/><circle cx="676.5" cy="422.8" r="2.8"/><circle cx="675.7" cy="422.1" r="2.8"/><circle cx="674.9" cy="423.1" r="2.8"/><circle cx="674.1" cy="422.3" r="2.8"/><circle cx="673.3" cy="422.4" r="2.8"/><circle cx="672.5" cy="421.7" r="2.8"/><circle cx="671.7" cy="421.3" r="2.8"/><circle cx="670.9" cy="422.3" r="2.8"/><circle cx="670.1" cy="421.9" r="2.8"/><circle cx="669.3" cy="420.8" r="2.8"/><circle cx="668.5" cy="421" r="2.8"/><circle cx="667.7" cy="421.3" r="2.8"/><circle cx="666.9" cy="421.6" r="2.8"/><circle cx="666.1" cy="420.2" r="2.8"/><circle cx="665.3" cy="421.5" r="2.8"/><circle cx="664.5" cy="419.9" r="2.8"/><circle cx="663.7" cy="419.9" r="2.8"/><circle cx="662.9" cy="419.9" r="2.8"/><circle cx="662.1" cy="420" r="2.8"/><circle cx="661.3" cy="419.9" r="2.8"/><circle cx="660.5" cy="418.9" r="2.8"/><circle cx="659.7" cy="419.6" r="2.8"/><circle cx="658.9" cy="418.8" r="2.8"/><circle cx="658.1" cy="418.9" r="2.8"/><circle cx="657.3" cy="418.9" r="2.8"/><circle cx="656.5" cy="418.9" r="2.8"/><circle cx="655.7" cy="418.4" r="2.8"/><circle cx="654.9" cy="419.2" r="2.8"/><circle cx="654.1" cy="418.6" r="2.8"/><circle cx="653.3" cy="418" r="2.8"/><circle cx="652.5" cy="417.3" r="2.8"/><circle cx="651.7" cy="417.7" r="2.8"/><circle cx="650.9" cy="417.2" r="2.8"/><circle cx="650.1" cy="418.2" r="2.8"/><circle cx="649.3" cy="417.2" r="2.8"/><circle cx="648.5" cy="417.7" r="2.8"/><circle cx="647.7" cy="417.1" r="2.8"/><circle cx="646.9" cy="416.9" r="2.8"/><circle cx="646.1" cy="416.8" r="2.8"/><circle cx="645.3" cy="416.7" r="2.8"/><circle cx="644.5" cy="416.8" r="2.8"/><circle cx="643.7" cy="415.7" r="2.8"/><circle cx="642.9" cy="415.4" r="2.8"/><circle cx="642.1" cy="415.6" r="2.8"/><circle cx="641.3" cy="414.9" r="2.8"/><circle cx="640.5" cy="414.5" r="2.8"/><circle cx="639.7" cy="414.8" r="2.8"/><circle cx="638.9" cy="414.1" r="2.8"/><circle cx="638.1" cy="414.3" r="2.8"/><circle cx="637.3" cy="414.9" r="2.8"/><circle cx="636.5" cy="413.4" r="2.8"/><circle cx="635.7" cy="413.4" r="2.8"/><circle cx="634.9" cy="413.4" r="2.8"/><circle cx="634.1" cy="411.6" r="2.8"/><circle cx="633.3" cy="412" r="2.8"/><circle cx="632.5" cy="412" r="2.8"/><circle cx="631.7" cy="410.9" r="2.8"/><circle cx="630.9" cy="410.5" r="2.8"/><circle cx="630.1" cy="411.1" r="2.8"/><circle cx="629.3" cy="410.3" r="2.8"/><circle cx="628.5" cy="408.6" r="2.8"/><circle cx="627.7" cy="408.7" r="2.8"/><circle cx="626.9" cy="407.8" r="2.8"/><circle cx="626.1" cy="406.9" r="2.8"/><circle cx="625.3" cy="405.9" r="2.8"/><circle cx="624.5" cy="405.8" r="2.8"/><circle cx="623.7" cy="404.5" r="2.8"/><circle cx="622.9" cy="404.1" r="2.8"/><circle cx="622.1" cy="402.6" r="2.8"/><circle cx="621.3" cy="400.6" r="2.8"/><circle cx="620.5" cy="399" r="2.8"/><circle cx="619.7" cy="398.6" r="2.8"/><circle cx="618.9" cy="397.7" r="2.8"/><circle cx="618.1" cy="396.3" r="2.8"/><circle cx="617.3" cy="393.8" r="2.8"/><circle cx="616.5" cy="392.8" r="2.8"/><circle cx="615.7" cy="390.8" r="2.8"/><circle cx="614.9" cy="389.4" r="2.8"/><circle cx="614.1" cy="387" r="2.8"/><circle cx="613.3" cy="384.1" r="2.8"/><circle cx="612.5" cy="382.7" r="2.8"/><circle cx="611.7" cy="379.2" r="2.8"/><circle cx="610.9" cy="375.6" r="2.8"/><circle cx="610.1" cy="372.4" r="2.8"/><circle cx="609.3" cy="369.1" r="2.8"/><circle cx="608.5" cy="366.5" r="2.8"/><circle cx="607.7" cy="362.6" r="2.8"/><circle cx="606.9" cy="359.6" r="2.8"/><circle cx="606.1" cy="356.2" r="2.8"/><circle cx="605.3" cy="352.1" r="2.8"/><circle cx="604.5" cy="348.6" r="2.8"/><circle cx="603.7" cy="345.5" r="2.8"/><circle cx="602.9" cy="343.4" r="2.8"/><circle cx="602.1" cy="340.7" r="2.8"/><circle cx="601.3" cy="337.9" r="2.8"/><circle cx="600.5" cy="337.1" r="2.8"/><circle cx="599.7" cy="336.6" r="2.8"/><circle cx="598.9" cy="333.8" r="2.8"/><circle cx="598.1" cy="332.4" r="2.8"/><circle cx="597.3" cy="330.3" r="2.8"/><circle cx="596.5" cy="329.3" r="2.8"/><circle cx="595.7" cy="327.6" r="2.8"/><circle cx="594.9" cy="327" r="2.8"/><circle cx="594.1" cy="325.8" r="2.8"/><circle cx="593.3" cy="323.8" r="2.8"/><circle cx="592.5" cy="322.6" r="2.8"/><circle cx="591.7" cy="321.1" r="2.8"/><circle cx="590.9" cy="319.5" r="2.8"/><circle cx="590.1" cy="319.2" r="2.8"/><circle cx="589.3" cy="318.7" r="2.8"/><circle cx="588.5" cy="316.6" r="2.8"/><circle cx="587.7" cy="316.2" r="2.8"/><circle cx="586.9" cy="315.4" r="2.8"/><circle cx="586.1" cy="315.4" r="2.8"/><circle cx="585.3" cy="314.9" r="2.8"/><circle cx="584.5" cy="314.2" r="2.8"/><circle cx="583.7" cy="313.5" r="2.8"/><circle cx="582.9" cy="313.9" r="2.8"/><circle cx="582.1" cy="312.7" r="2.8"/><circle cx="581.3" cy="312.3" r="2.8"/><circle cx="580.5" cy="312.7" r="2.8"/><circle cx="579.7" cy="311.7" r="2.8"/><circle cx="578.9" cy="312" r="2.8"/><circle cx="578.1" cy="311.7" r="2.8"/><circle cx="577.3" cy="311.2" r="2.8"/><circle cx="576.5" cy="311.2" r="2.8"/><circle cx="575.7" cy="311.9" r="2.8"/><circle cx="574.9" cy="311.8" r="2.8"/><circle cx="574.1" cy="310.6" r="2.8"/><circle cx="573.3" cy="310.3" r="2.8"/><circle cx="572.5" cy="311.2" r="2.8"/><circle cx="571.7" cy="311" r="2.8"/><circle cx="570.9" cy="310.4" r="2.8"/><circle cx="570.1" cy="310.7" r="2.8"/><circle cx="569.3" cy="311" r="2.8"/><circle cx="568.5" cy="310.3" r="2.8"/><circle cx="567.7" cy="311.2" r="2.8"/><circle cx="566.9" cy="311.9" r="2.8"/><circle cx="566.1" cy="311.9" r="2.8"/><circle cx="565.3" cy="312.3" r="2.8"/><circle cx="564.5" cy="312.6" r="2.8"/><circle cx="563.7" cy="311.8" r="2.8"/><circle cx="562.9" cy="312.2" r="2.8"/><circle cx="562.1" cy="311.9" r="2.8"/><circle cx="561.3" cy="312.5" r="2.8"/><circle cx="560.5" cy="312.1" r="2.8"/><circle cx="559.8" cy="312.2" r="2.8"/><circle cx="559" cy="311.4" r="2.8"/><circle cx="558.2" cy="313" r="2.8"/><circle cx="557.4" cy="312.5" r="2.8"/><circle cx="556.6" cy="312" r="2.8"/><circle cx="555.8" cy="312.1" r="2.8"/><circle cx="555" cy="312.1" r="2.8"/><circle cx="554.2" cy="312.4" r="2.8"/><circle cx="553.4" cy="312.8" r="2.8"/><circle cx="552.6" cy="313.2" r="2.8"/><circle cx="551.8" cy="312.9" r="2.8"/><circle cx="551" cy="313.8" r="2.8"/><circle cx="550.2" cy="313.9" r="2.8"/><circle cx="549.4" cy="315.4" r="2.8"/><circle cx="548.6" cy="315.7" r="2.8"/><circle cx="547.8" cy="315.8" r="2.8"/><circle cx="547" cy="316.1" r="2.8"/><circle cx="546.2" cy="317.7" r="2.8"/><circle cx="545.4" cy="317.1" r="2.8"/><circle cx="544.6" cy="318.5" r="2.8"/><circle cx="543.8" cy="318.6" r="2.8"/><circle cx="543" cy="320.7" r="2.8"/><circle cx="542.2" cy="320.5" r="2.8"/><circle cx="541.4" cy="321.8" r="2.8"/><circle cx="540.6" cy="321.9" r="2.8"/><circle cx="539.8" cy="322.4" r="2.8"/><circle cx="539" cy="322.5" r="2.8"/><circle cx="538.2" cy="323.1" r="2.8"/><circle cx="537.4" cy="324.5" r="2.8"/><circle cx="536.6" cy="324.3" r="2.8"/><circle cx="535.8" cy="325.7" r="2.8"/><circle cx="535" cy="327.5" r="2.8"/><circle cx="534.2" cy="329.4" r="2.8"/><circle cx="533.4" cy="329.8" r="2.8"/><circle cx="532.6" cy="331.7" r="2.8"/><circle cx="531.8" cy="333.5" r="2.8"/><circle cx="531" cy="335.9" r="2.8"/><circle cx="530.2" cy="338" r="2.8"/><circle cx="529.4" cy="340.5" r="2.8"/><circle cx="528.6" cy="344.2" r="2.8"/><circle cx="527.8" cy="347.3" r="2.8"/><circle cx="527" cy="350.7" r="2.8"/><circle cx="526.2" cy="354.2" r="2.8"/><circle cx="525.4" cy="358.1" r="2.8"/><circle cx="524.6" cy="361.2" r="2.8"/><circle cx="523.8" cy="364.9" r="2.8"/><circle cx="523" cy="368.8" r="2.8"/><circle cx="522.2" cy="372.3" r="2.8"/><circle cx="521.4" cy="376.1" r="2.8"/><circle cx="520.6" cy="378.6" r="2.8"/><circle cx="519.8" cy="381.9" r="2.8"/><circle cx="519" cy="383.9" r="2.8"/><circle cx="518.2" cy="385.5" r="2.8"/><circle cx="517.4" cy="387.7" r="2.8"/><circle cx="516.6" cy="388" r="2.8"/><circle cx="515.8" cy="389.7" r="2.8"/><circle cx="515" cy="391.4" r="2.8"/><circle cx="514.2" cy="392.6" r="2.8"/><circle cx="513.4" cy="392.3" r="2.8"/><circle cx="512.6" cy="394.2" r="2.8"/><circle cx="511.8" cy="395.3" r="2.8"/><circle cx="511" cy="395.7" r="2.8"/><circle cx="510.2" cy="397.1" r="2.8"/><circle cx="509.4" cy="398" r="2.8"/><circle cx="508.6" cy="398.2" r="2.8"/><circle cx="507.8" cy="400" r="2.8"/><circle cx="507" cy="400.2" r="2.8"/><circle cx="506.2" cy="400.7" r="2.8"/><circle cx="505.4" cy="400.7" r="2.8"/><circle cx="504.6" cy="402.2" r="2.8"/><circle cx="503.8" cy="402.5" r="2.8"/><circle cx="503" cy="403.9" r="2.8"/><circle cx="502.2" cy="403.4" r="2.8"/><circle cx="501.4" cy="403.8" r="2.8"/><circle cx="500.6" cy="404.1" r="2.8"/><circle cx="499.8" cy="405" r="2.8"/><circle cx="499" cy="406.5" r="2.8"/><circle cx="498.2" cy="405.9" r="2.8"/><circle cx="497.4" cy="406.4" r="2.8"/><circle cx="496.6" cy="407.3" r="2.8"/><circle cx="495.8" cy="407.1" r="2.8"/><circle cx="495" cy="408.3" r="2.8"/><circle cx="494.2" cy="407.6" r="2.8"/><circle cx="493.4" cy="408.5" r="2.8"/><circle cx="492.6" cy="408.5" r="2.8"/><circle cx="491.8" cy="408.8" r="2.8"/><circle cx="491" cy="409.1" r="2.8"/><circle cx="490.2" cy="409.4" r="2.8"/><circle cx="489.4" cy="409.8" r="2.8"/><circle cx="488.6" cy="410.1" r="2.8"/><circle cx="487.8" cy="410.6" r="2.8"/><circle cx="487" cy="410.3" r="2.8"/><circle cx="486.2" cy="411.2" r="2.8"/><circle cx="485.4" cy="411.1" r="2.8"/><circle cx="484.6" cy="411.7" r="2.8"/><circle cx="483.8" cy="411.1" r="2.8"/><circle cx="483" cy="411.8" r="2.8"/><circle cx="482.2" cy="412.9" r="2.8"/><circle cx="481.4" cy="413" r="2.8"/><circle cx="480.6" cy="413.3" r="2.8"/><circle cx="479.8" cy="413.2" r="2.8"/><circle cx="479" cy="413" r="2.8"/><circle cx="478.2" cy="413.8" r="2.8"/><circle cx="477.4" cy="413.4" r="2.8"/><circle cx="476.6" cy="413.5" r="2.8"/><circle cx="475.8" cy="414.1" r="2.8"/><circle cx="475" cy="414.5" r="2.8"/><circle cx="474.2" cy="415.1" r="2.8"/><circle cx="473.4" cy="414.5" r="2.8"/><circle cx="472.6" cy="415.4" r="2.8"/><circle cx="471.8" cy="415.3" r="2.8"/><circle cx="471" cy="415.4" r="2.8"/><circle cx="470.2" cy="415.6" r="2.8"/><circle cx="469.4" cy="415.1" r="2.8"/><circle cx="468.6" cy="416.4" r="2.8"/><circle cx="467.8" cy="415.9" r="2.8"/><circle cx="467" cy="416.5" r="2.8"/><circle cx="466.2" cy="416.7" r="2.8"/><circle cx="465.4" cy="416.5" r="2.8"/><circle cx="464.6" cy="416.7" r="2.8"/><circle cx="463.8" cy="417.7" r="2.8"/><circle cx="463" cy="417.8" r="2.8"/><circle cx="462.2" cy="416.9" r="2.8"/><circle cx="461.4" cy="417.9" r="2.8"/><circle cx="460.6" cy="417.3" r="2.8"/><circle cx="459.8" cy="418" r="2.8"/><circle cx="459" cy="419" r="2.8"/><circle cx="458.2" cy="418.1" r="2.8"/><circle cx="457.4" cy="418.4" r="2.8"/><circle cx="456.6" cy="419.2" r="2.8"/><circle cx="455.8" cy="418.3" r="2.8"/><circle cx="455" cy="418.3" r="2.8"/><circle cx="454.2" cy="419.3" r="2.8"/><circle cx="453.4" cy="418.6" r="2.8"/><circle cx="452.6" cy="419.5" r="2.8"/><circle cx="451.8" cy="418.9" r="2.8"/><circle cx="451" cy="419.9" r="2.8"/><circle cx="450.2" cy="419.5" r="2.8"/><circle cx="449.4" cy="419.6" r="2.8"/><circle cx="448.6" cy="419.2" r="2.8"/><circle cx="447.8" cy="420.5" r="2.8"/><circle cx="447" cy="419" r="2.8"/><circle cx="446.2" cy="419.8" r="2.8"/><circle cx="445.4" cy="420.2" r="2.8"/><circle cx="444.6" cy="419.5" r="2.8"/><circle cx="443.8" cy="419.5" r="2.8"/><circle cx="443" cy="420.5" r="2.8"/><circle cx="442.2" cy="419.1" r="2.8"/><circle cx="441.4" cy="420.4" r="2.8"/><circle cx="440.6" cy="420.3" r="2.8"/></g>
<g fill="#fff" stroke-width="1"><circle cx="246" cy="280" r="4.2" stroke="#0070c0"/><circle cx="246" cy="298" r="4.2" stroke="#ff0000"/></g>
<g font-size="10.2" fill="#1a1a1a"><text x="252.5" y="283.6">CA film</text><text x="252.5" y="301.6">PG-d6</text></g>
<g stroke="#333" stroke-width="1.25" fill="none">
<path d="M74.8 547.2V713H322.2V547.2H74.8Z"/>
<path d="M74.8 630.1H322.2M74.8 692.3h3M74.8 671.5h3M74.8 650.8h3M74.8 630.1h3M74.8 609.4h3M74.8 588.7h3M74.8 567.9h3M116 630.1v-3M157.3 630.1v-3M198.5 630.1v-3M239.7 630.1v-3M281 630.1v-3"/>
</g>
<g font-size="9" fill="#1a1a1a">
<text x="67.5" y="716.2" text-anchor="end">-80</text>
<text x="67.5" y="695.5" text-anchor="end">-60</text>
<text x="67.5" y="674.8" text-anchor="end">-40</text>
<text x="67.5" y="654" text-anchor="end">-20</text>
<text x="67.5" y="633.3" text-anchor="end">0</text>
<text x="67.5" y="612.6" text-anchor="end">20</text>
<text x="67.5" y="591.9" text-anchor="end">40</text>
<text x="67.5" y="571.1" text-anchor="end">60</text>
<text x="67.5" y="550.4" text-anchor="end">80</text>
<text x="74.2" y="643.9" text-anchor="middle">0</text>
<text x="115.4" y="643.9" text-anchor="middle">50</text>
<text x="156.7" y="643.9" text-anchor="middle">100</text>
<text x="197.9" y="643.9" text-anchor="middle">150</text>
<text x="239.1" y="643.9" text-anchor="middle">200</text>
<text x="280.4" y="643.9" text-anchor="middle">250</text>
<text x="321.6" y="643.9" text-anchor="middle">300</text>
</g>
<g font-size="9.8" fill="#1a1a1a" text-anchor="middle">
<text x="198.5" y="725" font-size="9.95">Scanning depth (µm)</text>
<text transform="translate(37.6 630.7) rotate(-90)" xml:space="preserve">First derivative  of the intensity</text>
<text transform="translate(49 631.7) rotate(-90)">(a.u.)</text>
</g>
<text x="84.6" y="571.7" font-size="20" font-weight="bold" fill="#000">e</text>
<g fill="#fff" stroke="#000" stroke-width="0.95"><circle cx="316.4" cy="631.3" r="2.75"/><circle cx="315.6" cy="631.2" r="2.75"/><circle cx="314.8" cy="631.4" r="2.75"/><circle cx="314" cy="631.5" r="2.75"/><circle cx="313.1" cy="631.7" r="2.75"/><circle cx="312.3" cy="631.4" r="2.75"/><circle cx="311.5" cy="632.1" r="2.75"/><circle cx="310.7" cy="632.4" r="2.75"/><circle cx="309.8" cy="632.5" r="2.75"/><circle cx="309" cy="631.5" r="2.75"/><circle cx="308.2" cy="631.9" r="2.75"/><circle cx="307.4" cy="631.7" r="2.75"/><circle cx="306.5" cy="632.6" r="2.75"/><circle cx="305.7" cy="632.4" r="2.75"/><circle cx="304.9" cy="632.3" r="2.75"/><circle cx="304.1" cy="632.4" r="2.75"/><circle cx="303.2" cy="632.5" r="2.75"/><circle cx="302.4" cy="632.7" r="2.75"/><circle cx="301.6" cy="632.3" r="2.75"/><circle cx="300.8" cy="632.2" r="2.75"/><circle cx="299.9" cy="631.3" r="2.75"/><circle cx="299.1" cy="632.2" r="2.75"/><circle cx="298.3" cy="632.4" r="2.75"/><circle cx="297.5" cy="632.9" r="2.75"/><circle cx="296.6" cy="633.7" r="2.75"/><circle cx="295.8" cy="633.1" r="2.75"/><circle cx="295" cy="633.1" r="2.75"/><circle cx="294.2" cy="632.4" r="2.75"/><circle cx="293.3" cy="632.9" r="2.75"/><circle cx="292.5" cy="632.6" r="2.75"/><circle cx="291.7" cy="632.8" r="2.75"/><circle cx="290.9" cy="633.3" r="2.75"/><circle cx="290" cy="633.7" r="2.75"/><circle cx="289.2" cy="633.8" r="2.75"/><circle cx="288.4" cy="633.4" r="2.75"/><circle cx="287.6" cy="633.6" r="2.75"/><circle cx="286.7" cy="634.2" r="2.75"/><circle cx="285.9" cy="634.7" r="2.75"/><circle cx="285.1" cy="634.8" r="2.75"/><circle cx="284.3" cy="635.7" r="2.75"/><circle cx="283.4" cy="635" r="2.75"/><circle cx="282.6" cy="635.5" r="2.75"/><circle cx="281.8" cy="636" r="2.75"/><circle cx="281" cy="636.4" r="2.75"/><circle cx="280.1" cy="636" r="2.75"/><circle cx="279.3" cy="636.3" r="2.75"/><circle cx="278.5" cy="637.3" r="2.75"/><circle cx="277.7" cy="636.8" r="2.75"/><circle cx="276.8" cy="637.1" r="2.75"/><circle cx="276" cy="637.8" r="2.75"/><circle cx="275.2" cy="638.3" r="2.75"/><circle cx="274.4" cy="638.5" r="2.75"/><circle cx="273.5" cy="638.6" r="2.75"/><circle cx="272.7" cy="639.1" r="2.75"/><circle cx="271.9" cy="639.4" r="2.75"/><circle cx="271.1" cy="640.2" r="2.75"/><circle cx="270.2" cy="640.4" r="2.75"/><circle cx="269.4" cy="641.3" r="2.75"/><circle cx="268.6" cy="641.1" r="2.75"/><circle cx="267.8" cy="641.9" r="2.75"/><circle cx="266.9" cy="642.7" r="2.75"/><circle cx="266.1" cy="643.7" r="2.75"/><circle cx="265.3" cy="644.7" r="2.75"/><circle cx="264.5" cy="645.8" r="2.75"/><circle cx="263.6" cy="647.3" r="2.75"/><circle cx="262.8" cy="649.1" r="2.75"/><circle cx="262" cy="650.9" r="2.75"/><circle cx="261.2" cy="652.7" r="2.75"/><circle cx="260.3" cy="656.1" r="2.75"/><circle cx="259.5" cy="657.8" r="2.75"/><circle cx="258.7" cy="662.3" r="2.75"/><circle cx="257.9" cy="666.2" r="2.75"/><circle cx="257.1" cy="670.3" r="2.75"/><circle cx="256.2" cy="674.5" r="2.75"/><circle cx="255.4" cy="678.7" r="2.75"/><circle cx="254.6" cy="682.9" r="2.75"/><circle cx="253.8" cy="685.2" r="2.75"/><circle cx="252.9" cy="687.5" r="2.75"/><circle cx="252.1" cy="689.2" r="2.75"/><circle cx="251.3" cy="688.7" r="2.75"/><circle cx="250.5" cy="688.8" r="2.75"/><circle cx="249.6" cy="687.6" r="2.75"/><circle cx="248.8" cy="686" r="2.75"/><circle cx="248" cy="683.2" r="2.75"/><circle cx="247.2" cy="679.5" r="2.75"/><circle cx="246.3" cy="677.3" r="2.75"/><circle cx="245.5" cy="674.8" r="2.75"/><circle cx="244.7" cy="671.5" r="2.75"/><circle cx="243.9" cy="668.4" r="2.75"/><circle cx="243" cy="665.4" r="2.75"/><circle cx="242.2" cy="661.9" r="2.75"/><circle cx="241.4" cy="658.4" r="2.75"/><circle cx="240.6" cy="654.4" r="2.75"/><circle cx="239.7" cy="652.6" r="2.75"/><circle cx="238.9" cy="649.9" r="2.75"/><circle cx="238.1" cy="647.8" r="2.75"/><circle cx="237.3" cy="645.6" r="2.75"/><circle cx="236.4" cy="643.7" r="2.75"/><circle cx="235.6" cy="642.2" r="2.75"/><circle cx="234.8" cy="640.9" r="2.75"/><circle cx="234" cy="639.7" r="2.75"/><circle cx="233.1" cy="639" r="2.75"/><circle cx="232.3" cy="638.6" r="2.75"/><circle cx="231.5" cy="637.6" r="2.75"/><circle cx="230.7" cy="637.3" r="2.75"/><circle cx="229.8" cy="636.5" r="2.75"/><circle cx="229" cy="636.7" r="2.75"/><circle cx="228.2" cy="636.9" r="2.75"/><circle cx="227.4" cy="636.7" r="2.75"/><circle cx="226.5" cy="636.9" r="2.75"/><circle cx="225.7" cy="637.5" r="2.75"/><circle cx="224.9" cy="637.6" r="2.75"/><circle cx="224.1" cy="637.5" r="2.75"/><circle cx="223.2" cy="638.1" r="2.75"/><circle cx="222.4" cy="637.6" r="2.75"/><circle cx="221.6" cy="637.7" r="2.75"/><circle cx="220.8" cy="637" r="2.75"/><circle cx="219.9" cy="635.7" r="2.75"/><circle cx="219.1" cy="634.9" r="2.75"/><circle cx="218.3" cy="634.6" r="2.75"/><circle cx="217.5" cy="634.3" r="2.75"/><circle cx="216.6" cy="633.7" r="2.75"/><circle cx="215.8" cy="632.7" r="2.75"/><circle cx="215" cy="632.2" r="2.75"/><circle cx="214.2" cy="632.2" r="2.75"/><circle cx="213.3" cy="631.1" r="2.75"/><circle cx="212.5" cy="631.9" r="2.75"/><circle cx="211.7" cy="631.6" r="2.75"/><circle cx="210.9" cy="631.5" r="2.75"/><circle cx="210" cy="631.3" r="2.75"/><circle cx="209.2" cy="631.7" r="2.75"/><circle cx="208.4" cy="631.7" r="2.75"/><circle cx="207.6" cy="630.9" r="2.75"/><circle cx="206.7" cy="631.5" r="2.75"/><circle cx="205.9" cy="631" r="2.75"/><circle cx="205.1" cy="630.8" r="2.75"/><circle cx="204.3" cy="631" r="2.75"/><circle cx="203.4" cy="631.4" r="2.75"/><circle cx="202.6" cy="630.8" r="2.75"/><circle cx="201.8" cy="629.9" r="2.75"/><circle cx="201" cy="629.5" r="2.75"/><circle cx="200.1" cy="629.1" r="2.75"/><circle cx="199.3" cy="629.7" r="2.75"/><circle cx="198.5" cy="628.1" r="2.75"/><circle cx="197.7" cy="627.4" r="2.75"/><circle cx="196.9" cy="627" r="2.75"/><circle cx="196" cy="626.2" r="2.75"/><circle cx="195.2" cy="625" r="2.75"/><circle cx="194.4" cy="625.1" r="2.75"/><circle cx="193.6" cy="624.4" r="2.75"/><circle cx="192.7" cy="624.6" r="2.75"/><circle cx="191.9" cy="623.6" r="2.75"/><circle cx="191.1" cy="623" r="2.75"/><circle cx="190.3" cy="622.7" r="2.75"/><circle cx="189.4" cy="621.7" r="2.75"/><circle cx="188.6" cy="622" r="2.75"/><circle cx="187.8" cy="621.4" r="2.75"/><circle cx="187" cy="621.2" r="2.75"/><circle cx="186.1" cy="620.4" r="2.75"/><circle cx="185.3" cy="618.6" r="2.75"/><circle cx="184.5" cy="618.9" r="2.75"/><circle cx="183.7" cy="618.2" r="2.75"/><circle cx="182.8" cy="617.3" r="2.75"/><circle cx="182" cy="616.7" r="2.75"/><circle cx="181.2" cy="615.2" r="2.75"/><circle cx="180.4" cy="613.3" r="2.75"/><circle cx="179.5" cy="611.7" r="2.75"/><circle cx="178.7" cy="609.5" r="2.75"/><circle cx="177.9" cy="606.5" r="2.75"/><circle cx="177.1" cy="605.3" r="2.75"/><circle cx="176.2" cy="601.6" r="2.75"/><circle cx="175.4" cy="598.5" r="2.75"/><circle cx="174.6" cy="594.5" r="2.75"/><circle cx="173.8" cy="589.9" r="2.75"/><circle cx="172.9" cy="586.3" r="2.75"/><circle cx="172.1" cy="582.4" r="2.75"/><circle cx="171.3" cy="577.5" r="2.75"/><circle cx="170.5" cy="574.6" r="2.75"/><circle cx="169.6" cy="569.7" r="2.75"/><circle cx="168.8" cy="564.8" r="2.75"/><circle cx="168" cy="563" r="2.75"/><circle cx="167.2" cy="562.3" r="2.75"/><circle cx="166.3" cy="561.9" r="2.75"/><circle cx="165.5" cy="562.4" r="2.75"/><circle cx="164.7" cy="564.1" r="2.75"/><circle cx="163.9" cy="568" r="2.75"/><circle cx="163" cy="571.7" r="2.75"/><circle cx="162.2" cy="576.8" r="2.75"/><circle cx="161.4" cy="580.5" r="2.75"/><circle cx="160.6" cy="584.4" r="2.75"/><circle cx="159.7" cy="588.8" r="2.75"/><circle cx="158.9" cy="592.7" r="2.75"/><circle cx="158.1" cy="597" r="2.75"/><circle cx="157.3" cy="599.6" r="2.75"/><circle cx="156.4" cy="602.7" r="2.75"/><circle cx="155.6" cy="605.4" r="2.75"/><circle cx="154.8" cy="608.4" r="2.75"/><circle cx="154" cy="610.8" r="2.75"/><circle cx="153.1" cy="612.8" r="2.75"/><circle cx="152.3" cy="613.5" r="2.75"/><circle cx="151.5" cy="614.3" r="2.75"/><circle cx="150.7" cy="615.6" r="2.75"/><circle cx="149.8" cy="616.1" r="2.75"/><circle cx="149" cy="617.5" r="2.75"/><circle cx="148.2" cy="618.4" r="2.75"/><circle cx="147.4" cy="619" r="2.75"/><circle cx="146.5" cy="619.4" r="2.75"/><circle cx="145.7" cy="620" r="2.75"/><circle cx="144.9" cy="620.3" r="2.75"/><circle cx="144.1" cy="620.7" r="2.75"/><circle cx="143.2" cy="621.1" r="2.75"/><circle cx="142.4" cy="621.8" r="2.75"/><circle cx="141.6" cy="620.9" r="2.75"/><circle cx="140.8" cy="621.8" r="2.75"/><circle cx="139.9" cy="621.5" r="2.75"/><circle cx="139.1" cy="621.8" r="2.75"/><circle cx="138.3" cy="621.4" r="2.75"/><circle cx="137.5" cy="621.9" r="2.75"/><circle cx="136.6" cy="622.2" r="2.75"/><circle cx="135.8" cy="622.3" r="2.75"/><circle cx="135" cy="623" r="2.75"/><circle cx="134.2" cy="622" r="2.75"/><circle cx="133.4" cy="623.4" r="2.75"/><circle cx="132.5" cy="623.1" r="2.75"/><circle cx="131.7" cy="623.3" r="2.75"/><circle cx="130.9" cy="623.3" r="2.75"/><circle cx="130.1" cy="623.8" r="2.75"/><circle cx="129.2" cy="623.5" r="2.75"/><circle cx="128.4" cy="623.7" r="2.75"/><circle cx="127.6" cy="623.9" r="2.75"/><circle cx="126.8" cy="624" r="2.75"/><circle cx="125.9" cy="623.5" r="2.75"/><circle cx="125.1" cy="624.6" r="2.75"/><circle cx="124.3" cy="624.3" r="2.75"/><circle cx="123.5" cy="624.3" r="2.75"/><circle cx="122.6" cy="624.4" r="2.75"/><circle cx="121.8" cy="624.5" r="2.75"/><circle cx="121" cy="625.3" r="2.75"/><circle cx="120.2" cy="625.6" r="2.75"/><circle cx="119.3" cy="625.5" r="2.75"/><circle cx="118.5" cy="625.2" r="2.75"/><circle cx="117.7" cy="626.3" r="2.75"/><circle cx="116.9" cy="625.6" r="2.75"/><circle cx="116" cy="626.6" r="2.75"/><circle cx="115.2" cy="626.6" r="2.75"/><circle cx="114.4" cy="626.6" r="2.75"/><circle cx="113.6" cy="626.6" r="2.75"/><circle cx="112.7" cy="626.8" r="2.75"/><circle cx="111.9" cy="626.7" r="2.75"/><circle cx="111.1" cy="627.8" r="2.75"/><circle cx="110.3" cy="627.4" r="2.75"/><circle cx="109.4" cy="626.5" r="2.75"/><circle cx="108.6" cy="627.1" r="2.75"/><circle cx="107.8" cy="626.1" r="2.75"/><circle cx="107" cy="627.4" r="2.75"/><circle cx="106.1" cy="627.6" r="2.75"/><circle cx="105.3" cy="627.1" r="2.75"/><circle cx="104.5" cy="627.3" r="2.75"/><circle cx="103.7" cy="627.6" r="2.75"/><circle cx="102.8" cy="626.8" r="2.75"/><circle cx="102" cy="627.5" r="2.75"/><circle cx="101.2" cy="627.4" r="2.75"/><circle cx="100.4" cy="628.1" r="2.75"/><circle cx="99.5" cy="628" r="2.75"/><circle cx="98.7" cy="628.4" r="2.75"/><circle cx="97.9" cy="628.4" r="2.75"/><circle cx="97.1" cy="628.4" r="2.75"/><circle cx="96.2" cy="628.3" r="2.75"/><circle cx="95.4" cy="628.6" r="2.75"/><circle cx="94.6" cy="629" r="2.75"/><circle cx="93.8" cy="629.1" r="2.75"/><circle cx="92.9" cy="628.1" r="2.75"/><circle cx="92.1" cy="628.9" r="2.75"/><circle cx="91.3" cy="628.1" r="2.75"/><circle cx="90.5" cy="628.3" r="2.75"/><circle cx="89.6" cy="628.1" r="2.75"/><circle cx="88.8" cy="627.9" r="2.75"/><circle cx="88" cy="628.1" r="2.75"/><circle cx="87.2" cy="628.2" r="2.75"/><circle cx="86.3" cy="627.8" r="2.75"/><circle cx="85.5" cy="628.4" r="2.75"/><circle cx="84.7" cy="628.1" r="2.75"/><circle cx="83.9" cy="628" r="2.75"/><circle cx="83" cy="628" r="2.75"/><circle cx="82.2" cy="629" r="2.75"/><circle cx="81.4" cy="628.5" r="2.75"/><circle cx="80.6" cy="628.7" r="2.75"/><circle cx="79.7" cy="629" r="2.75"/></g>
<g stroke="#333" stroke-width="1.25" fill="none">
<path d="M442 547V704.2H686.6V547H442Z"/>
<path d="M442 626H686.6M442 684.6h3M442 664.9h3M442 645.2h3M442 625.6h3M442 606h3M442 586.3h3M442 566.6h3M482.8 626v-3M523.5 626v-3M564.3 626v-3M605.1 626v-3M645.8 626v-3"/>
</g>
<g font-size="9" fill="#1a1a1a">
<text x="434.7" y="707.4" text-anchor="end">-40</text>
<text x="434.7" y="687.8" text-anchor="end">-30</text>
<text x="434.7" y="668.1" text-anchor="end">-20</text>
<text x="434.7" y="648.5" text-anchor="end">-10</text>
<text x="434.7" y="628.8" text-anchor="end">0</text>
<text x="434.7" y="609.2" text-anchor="end">10</text>
<text x="434.7" y="589.5" text-anchor="end">20</text>
<text x="434.7" y="569.9" text-anchor="end">30</text>
<text x="434.7" y="550.2" text-anchor="end">40</text>
<text x="441.4" y="639.8" text-anchor="middle">0</text>
<text x="482.2" y="639.8" text-anchor="middle">50</text>
<text x="522.9" y="639.8" text-anchor="middle">100</text>
<text x="563.7" y="639.8" text-anchor="middle">150</text>
<text x="604.5" y="639.8" text-anchor="middle">200</text>
<text x="645.2" y="639.8" text-anchor="middle">250</text>
<text x="686" y="639.8" text-anchor="middle">300</text>
</g>
<g font-size="9.55" fill="#1a1a1a" text-anchor="middle">
<text x="564.3" y="716.2" font-size="9.75">Scanning depth (µm)</text>
<text transform="translate(404.8 627.3) rotate(-90)" xml:space="preserve">First derivative  of the intensity</text>
<text transform="translate(416.2 628.3) rotate(-90)">(a.u.)</text>
</g>
<text x="451.8" y="570.5" font-size="20" font-weight="bold" fill="#000">g</text>
<g fill="#fff" stroke="#000" stroke-width="0.95"><circle cx="680.9" cy="628" r="2.75"/><circle cx="680.1" cy="628.1" r="2.75"/><circle cx="679.3" cy="627.6" r="2.75"/><circle cx="678.4" cy="627.2" r="2.75"/><circle cx="677.6" cy="626.7" r="2.75"/><circle cx="676.8" cy="626.6" r="2.75"/><circle cx="676" cy="627.8" r="2.75"/><circle cx="675.2" cy="627.8" r="2.75"/><circle cx="674.4" cy="627.7" r="2.75"/><circle cx="673.6" cy="628.8" r="2.75"/><circle cx="672.7" cy="629" r="2.75"/><circle cx="671.9" cy="629.5" r="2.75"/><circle cx="671.1" cy="629.5" r="2.75"/><circle cx="670.3" cy="629.7" r="2.75"/><circle cx="669.5" cy="630" r="2.75"/><circle cx="668.7" cy="630.6" r="2.75"/><circle cx="667.8" cy="630.1" r="2.75"/><circle cx="667" cy="630.8" r="2.75"/><circle cx="666.2" cy="631.1" r="2.75"/><circle cx="665.4" cy="631.6" r="2.75"/><circle cx="664.6" cy="632.3" r="2.75"/><circle cx="663.8" cy="632.7" r="2.75"/><circle cx="663" cy="632.1" r="2.75"/><circle cx="662.1" cy="632.5" r="2.75"/><circle cx="661.3" cy="633.6" r="2.75"/><circle cx="660.5" cy="633.6" r="2.75"/><circle cx="659.7" cy="634.5" r="2.75"/><circle cx="658.9" cy="634.3" r="2.75"/><circle cx="658.1" cy="634.6" r="2.75"/><circle cx="657.2" cy="634.7" r="2.75"/><circle cx="656.4" cy="635.7" r="2.75"/><circle cx="655.6" cy="634.4" r="2.75"/><circle cx="654.8" cy="634.7" r="2.75"/><circle cx="654" cy="635.4" r="2.75"/><circle cx="653.2" cy="634.9" r="2.75"/><circle cx="652.4" cy="635.5" r="2.75"/><circle cx="651.5" cy="636.1" r="2.75"/><circle cx="650.7" cy="635.7" r="2.75"/><circle cx="649.9" cy="636" r="2.75"/><circle cx="649.1" cy="636.1" r="2.75"/><circle cx="648.3" cy="637.1" r="2.75"/><circle cx="647.5" cy="639" r="2.75"/><circle cx="646.6" cy="639.9" r="2.75"/><circle cx="645.8" cy="641.1" r="2.75"/><circle cx="645" cy="642" r="2.75"/><circle cx="644.2" cy="642.6" r="2.75"/><circle cx="643.4" cy="644.3" r="2.75"/><circle cx="642.6" cy="645.1" r="2.75"/><circle cx="641.8" cy="646.5" r="2.75"/><circle cx="640.9" cy="647.8" r="2.75"/><circle cx="640.1" cy="648.8" r="2.75"/><circle cx="639.3" cy="650.6" r="2.75"/><circle cx="638.5" cy="652.3" r="2.75"/><circle cx="637.7" cy="653.7" r="2.75"/><circle cx="636.9" cy="656.7" r="2.75"/><circle cx="636" cy="659.4" r="2.75"/><circle cx="635.2" cy="662.8" r="2.75"/><circle cx="634.4" cy="665.7" r="2.75"/><circle cx="633.6" cy="669.6" r="2.75"/><circle cx="632.8" cy="673.3" r="2.75"/><circle cx="632" cy="676.8" r="2.75"/><circle cx="631.2" cy="679.4" r="2.75"/><circle cx="630.3" cy="683" r="2.75"/><circle cx="629.5" cy="687" r="2.75"/><circle cx="628.7" cy="689.8" r="2.75"/><circle cx="627.9" cy="691.7" r="2.75"/><circle cx="627.1" cy="693.2" r="2.75"/><circle cx="626.3" cy="695" r="2.75"/><circle cx="625.5" cy="695.3" r="2.75"/><circle cx="624.6" cy="694.6" r="2.75"/><circle cx="623.8" cy="693" r="2.75"/><circle cx="623" cy="693" r="2.75"/><circle cx="622.2" cy="690.3" r="2.75"/><circle cx="621.4" cy="687.7" r="2.75"/><circle cx="620.6" cy="685.6" r="2.75"/><circle cx="619.7" cy="683.6" r="2.75"/><circle cx="618.9" cy="680.7" r="2.75"/><circle cx="618.1" cy="678.9" r="2.75"/><circle cx="617.3" cy="677.8" r="2.75"/><circle cx="616.5" cy="676.3" r="2.75"/><circle cx="615.7" cy="676.2" r="2.75"/><circle cx="614.9" cy="675.7" r="2.75"/><circle cx="614" cy="674.3" r="2.75"/><circle cx="613.2" cy="673.1" r="2.75"/><circle cx="612.4" cy="672.5" r="2.75"/><circle cx="611.6" cy="670.9" r="2.75"/><circle cx="610.8" cy="670.1" r="2.75"/><circle cx="610" cy="668.3" r="2.75"/><circle cx="609.1" cy="666.6" r="2.75"/><circle cx="608.3" cy="664.7" r="2.75"/><circle cx="607.5" cy="662.7" r="2.75"/><circle cx="606.7" cy="659.1" r="2.75"/><circle cx="605.9" cy="657.7" r="2.75"/><circle cx="605.1" cy="655" r="2.75"/><circle cx="604.3" cy="652.8" r="2.75"/><circle cx="603.4" cy="649.2" r="2.75"/><circle cx="602.6" cy="646.9" r="2.75"/><circle cx="601.8" cy="644.9" r="2.75"/><circle cx="601" cy="641.6" r="2.75"/><circle cx="600.2" cy="639.3" r="2.75"/><circle cx="599.4" cy="636.8" r="2.75"/><circle cx="598.5" cy="634.5" r="2.75"/><circle cx="597.7" cy="633.4" r="2.75"/><circle cx="596.9" cy="631.1" r="2.75"/><circle cx="596.1" cy="630.4" r="2.75"/><circle cx="595.3" cy="629.8" r="2.75"/><circle cx="594.5" cy="629" r="2.75"/><circle cx="593.7" cy="628.7" r="2.75"/><circle cx="592.8" cy="628.5" r="2.75"/><circle cx="592" cy="628.6" r="2.75"/><circle cx="591.2" cy="628" r="2.75"/><circle cx="590.4" cy="627.4" r="2.75"/><circle cx="589.6" cy="627.2" r="2.75"/><circle cx="588.8" cy="625.9" r="2.75"/><circle cx="587.9" cy="625.6" r="2.75"/><circle cx="587.1" cy="624.9" r="2.75"/><circle cx="586.3" cy="623.5" r="2.75"/><circle cx="585.5" cy="622.9" r="2.75"/><circle cx="584.7" cy="622.3" r="2.75"/><circle cx="583.9" cy="621" r="2.75"/><circle cx="583.1" cy="620.5" r="2.75"/><circle cx="582.2" cy="619.2" r="2.75"/><circle cx="581.4" cy="619" r="2.75"/><circle cx="580.6" cy="618.4" r="2.75"/><circle cx="579.8" cy="617.9" r="2.75"/><circle cx="579" cy="616.5" r="2.75"/><circle cx="578.2" cy="616.3" r="2.75"/><circle cx="577.3" cy="615.3" r="2.75"/><circle cx="576.5" cy="615.3" r="2.75"/><circle cx="575.7" cy="614.6" r="2.75"/><circle cx="574.9" cy="613.7" r="2.75"/><circle cx="574.1" cy="613.9" r="2.75"/><circle cx="573.3" cy="613.4" r="2.75"/><circle cx="572.5" cy="613.4" r="2.75"/><circle cx="571.6" cy="613.8" r="2.75"/><circle cx="570.8" cy="614.1" r="2.75"/><circle cx="570" cy="614.6" r="2.75"/><circle cx="569.2" cy="615.8" r="2.75"/><circle cx="568.4" cy="615.7" r="2.75"/><circle cx="567.6" cy="615.7" r="2.75"/><circle cx="566.7" cy="615.7" r="2.75"/><circle cx="565.9" cy="612.9" r="2.75"/><circle cx="565.1" cy="611.7" r="2.75"/><circle cx="564.3" cy="610.4" r="2.75"/><circle cx="563.5" cy="608.5" r="2.75"/><circle cx="562.7" cy="607.6" r="2.75"/><circle cx="561.9" cy="606.5" r="2.75"/><circle cx="561" cy="604.8" r="2.75"/><circle cx="560.2" cy="603.9" r="2.75"/><circle cx="559.4" cy="603.7" r="2.75"/><circle cx="558.6" cy="602.1" r="2.75"/><circle cx="557.8" cy="602" r="2.75"/><circle cx="557" cy="600" r="2.75"/><circle cx="556.1" cy="600" r="2.75"/><circle cx="555.3" cy="598" r="2.75"/><circle cx="554.5" cy="595.2" r="2.75"/><circle cx="553.7" cy="593.9" r="2.75"/><circle cx="552.9" cy="591.7" r="2.75"/><circle cx="552.1" cy="589.2" r="2.75"/><circle cx="551.3" cy="585.4" r="2.75"/><circle cx="550.4" cy="582" r="2.75"/><circle cx="549.6" cy="578.6" r="2.75"/><circle cx="548.8" cy="574.7" r="2.75"/><circle cx="548" cy="572.7" r="2.75"/><circle cx="547.2" cy="570" r="2.75"/><circle cx="546.4" cy="568.9" r="2.75"/><circle cx="545.5" cy="567.7" r="2.75"/><circle cx="544.7" cy="565" r="2.75"/><circle cx="543.9" cy="564" r="2.75"/><circle cx="543.1" cy="562.7" r="2.75"/><circle cx="542.3" cy="562.2" r="2.75"/><circle cx="541.5" cy="562.1" r="2.75"/><circle cx="540.7" cy="561" r="2.75"/><circle cx="539.8" cy="562.2" r="2.75"/><circle cx="539" cy="563.4" r="2.75"/><circle cx="538.2" cy="563.9" r="2.75"/><circle cx="537.4" cy="565.1" r="2.75"/><circle cx="536.6" cy="565.9" r="2.75"/><circle cx="535.8" cy="567.3" r="2.75"/><circle cx="534.9" cy="568.8" r="2.75"/><circle cx="534.1" cy="570.3" r="2.75"/><circle cx="533.3" cy="572.4" r="2.75"/><circle cx="532.5" cy="575.1" r="2.75"/><circle cx="531.7" cy="577.8" r="2.75"/><circle cx="530.9" cy="580.5" r="2.75"/><circle cx="530.1" cy="582.5" r="2.75"/><circle cx="529.2" cy="585.3" r="2.75"/><circle cx="528.4" cy="587.4" r="2.75"/><circle cx="527.6" cy="589.7" r="2.75"/><circle cx="526.8" cy="591.7" r="2.75"/><circle cx="526" cy="593.8" r="2.75"/><circle cx="525.2" cy="594.8" r="2.75"/><circle cx="524.3" cy="596.5" r="2.75"/><circle cx="523.5" cy="597.6" r="2.75"/><circle cx="522.7" cy="598.8" r="2.75"/><circle cx="521.9" cy="599.7" r="2.75"/><circle cx="521.1" cy="601.9" r="2.75"/><circle cx="520.3" cy="603.5" r="2.75"/><circle cx="519.5" cy="605.4" r="2.75"/><circle cx="518.6" cy="606.3" r="2.75"/><circle cx="517.8" cy="607.3" r="2.75"/><circle cx="517" cy="608.3" r="2.75"/><circle cx="516.2" cy="608.4" r="2.75"/><circle cx="515.4" cy="608.6" r="2.75"/><circle cx="514.6" cy="608.8" r="2.75"/><circle cx="513.7" cy="609" r="2.75"/><circle cx="512.9" cy="609.8" r="2.75"/><circle cx="512.1" cy="609.9" r="2.75"/><circle cx="511.3" cy="610.3" r="2.75"/><circle cx="510.5" cy="611.1" r="2.75"/><circle cx="509.7" cy="610.9" r="2.75"/><circle cx="508.9" cy="612.7" r="2.75"/><circle cx="508" cy="613.4" r="2.75"/><circle cx="507.2" cy="613.5" r="2.75"/><circle cx="506.4" cy="614.5" r="2.75"/><circle cx="505.6" cy="615.2" r="2.75"/><circle cx="504.8" cy="615.2" r="2.75"/><circle cx="504" cy="616.6" r="2.75"/><circle cx="503.1" cy="617.4" r="2.75"/><circle cx="502.3" cy="617.1" r="2.75"/><circle cx="501.5" cy="617.8" r="2.75"/><circle cx="500.7" cy="616.9" r="2.75"/><circle cx="499.9" cy="616.6" r="2.75"/><circle cx="499.1" cy="616.1" r="2.75"/><circle cx="498.3" cy="615.5" r="2.75"/><circle cx="497.4" cy="615.3" r="2.75"/><circle cx="496.6" cy="615.6" r="2.75"/><circle cx="495.8" cy="616" r="2.75"/><circle cx="495" cy="617" r="2.75"/><circle cx="494.2" cy="618" r="2.75"/><circle cx="493.4" cy="618.4" r="2.75"/><circle cx="492.6" cy="619.2" r="2.75"/><circle cx="491.7" cy="619.8" r="2.75"/><circle cx="490.9" cy="620.9" r="2.75"/><circle cx="490.1" cy="622" r="2.75"/><circle cx="489.3" cy="622" r="2.75"/><circle cx="488.5" cy="621.6" r="2.75"/><circle cx="487.7" cy="620.5" r="2.75"/><circle cx="486.8" cy="620" r="2.75"/><circle cx="486" cy="618.7" r="2.75"/><circle cx="485.2" cy="618" r="2.75"/><circle cx="484.4" cy="617.4" r="2.75"/><circle cx="483.6" cy="617.2" r="2.75"/><circle cx="482.8" cy="617.7" r="2.75"/><circle cx="482" cy="618.9" r="2.75"/><circle cx="481.1" cy="618.7" r="2.75"/><circle cx="480.3" cy="619.6" r="2.75"/><circle cx="479.5" cy="619.3" r="2.75"/><circle cx="478.7" cy="621.2" r="2.75"/><circle cx="477.9" cy="621.9" r="2.75"/><circle cx="477.1" cy="622.4" r="2.75"/><circle cx="476.2" cy="623.7" r="2.75"/><circle cx="475.4" cy="623" r="2.75"/><circle cx="474.6" cy="622.1" r="2.75"/><circle cx="473.8" cy="621.5" r="2.75"/><circle cx="473" cy="621" r="2.75"/><circle cx="472.2" cy="620.3" r="2.75"/><circle cx="471.4" cy="619.7" r="2.75"/><circle cx="470.5" cy="620.3" r="2.75"/><circle cx="469.7" cy="621.3" r="2.75"/><circle cx="468.9" cy="622.4" r="2.75"/><circle cx="468.1" cy="623" r="2.75"/><circle cx="467.3" cy="623.1" r="2.75"/><circle cx="466.5" cy="623.4" r="2.75"/><circle cx="465.6" cy="622.6" r="2.75"/><circle cx="464.8" cy="622.2" r="2.75"/><circle cx="464" cy="621.2" r="2.75"/><circle cx="463.2" cy="620.8" r="2.75"/><circle cx="462.4" cy="619.1" r="2.75"/><circle cx="461.6" cy="618.2" r="2.75"/><circle cx="460.8" cy="617.5" r="2.75"/><circle cx="459.9" cy="617.1" r="2.75"/><circle cx="459.1" cy="616.9" r="2.75"/><circle cx="458.3" cy="617.9" r="2.75"/><circle cx="457.5" cy="618.5" r="2.75"/><circle cx="456.7" cy="618.4" r="2.75"/><circle cx="455.9" cy="619.7" r="2.75"/><circle cx="455" cy="619.6" r="2.75"/><circle cx="454.2" cy="621.3" r="2.75"/><circle cx="453.4" cy="623.3" r="2.75"/><circle cx="452.6" cy="624.7" r="2.75"/><circle cx="451.8" cy="626.8" r="2.75"/><circle cx="451" cy="627.6" r="2.75"/><circle cx="450.2" cy="627.8" r="2.75"/><circle cx="449.3" cy="627.6" r="2.75"/><circle cx="448.5" cy="627.6" r="2.75"/><circle cx="447.7" cy="627.3" r="2.75"/><circle cx="446.9" cy="626.1" r="2.75"/></g>
<g stroke="#333" stroke-width="1.25" fill="none">
<path d="M74.6 767.9V927.5H322.4V767.9H74.6Z"/>
<path d="M74.6 856.6H322.4M74.6 909.8h3M74.6 892h3M74.6 874.3h3M74.6 856.6h3M74.6 838.8h3M74.6 821.1h3M74.6 803.4h3M74.6 785.6h3M115.9 856.6v-3M157.2 856.6v-3M198.5 856.6v-3M239.8 856.6v-3M281.1 856.6v-3"/>
</g>
<g font-size="9" fill="#1a1a1a">
<text x="67.3" y="930.7" text-anchor="end">-40</text>
<text x="67.3" y="913" text-anchor="end">-30</text>
<text x="67.3" y="895.2" text-anchor="end">-20</text>
<text x="67.3" y="877.5" text-anchor="end">-10</text>
<text x="67.3" y="859.8" text-anchor="end">0</text>
<text x="67.3" y="842" text-anchor="end">10</text>
<text x="67.3" y="824.3" text-anchor="end">20</text>
<text x="67.3" y="806.6" text-anchor="end">30</text>
<text x="67.3" y="788.8" text-anchor="end">40</text>
<text x="67.3" y="771.1" text-anchor="end">50</text>
<text x="74" y="870.4" text-anchor="middle">0</text>
<text x="115.3" y="870.4" text-anchor="middle">50</text>
<text x="156.6" y="870.4" text-anchor="middle">100</text>
<text x="197.9" y="870.4" text-anchor="middle">150</text>
<text x="239.2" y="870.4" text-anchor="middle">200</text>
<text x="280.5" y="870.4" text-anchor="middle">250</text>
<text x="321.8" y="870.4" text-anchor="middle">300</text>
</g>
<g font-size="9.75" fill="#1a1a1a" text-anchor="middle">
<text x="198.5" y="939.5" font-size="9.85">Scanning depth (µm)</text>
<text transform="translate(37.4 848.7) rotate(-90)" xml:space="preserve">First derivative  of the intensity</text>
<text transform="translate(48.8 849.7) rotate(-90)">(a.u.)</text>
</g>
<text x="84.4" y="799.2" font-size="20" font-weight="bold" fill="#000">f</text>
<g fill="#fff" stroke="#000" stroke-width="0.95"><circle cx="316.6" cy="861.2" r="2.75"/><circle cx="315.8" cy="860.3" r="2.75"/><circle cx="315" cy="860.6" r="2.75"/><circle cx="314.1" cy="860.3" r="2.75"/><circle cx="313.3" cy="860.4" r="2.75"/><circle cx="312.5" cy="859.7" r="2.75"/><circle cx="311.7" cy="859.8" r="2.75"/><circle cx="310.8" cy="859.7" r="2.75"/><circle cx="310" cy="860.6" r="2.75"/><circle cx="309.2" cy="859.8" r="2.75"/><circle cx="308.4" cy="860.6" r="2.75"/><circle cx="307.5" cy="860.9" r="2.75"/><circle cx="306.7" cy="861.2" r="2.75"/><circle cx="305.9" cy="862" r="2.75"/><circle cx="305.1" cy="861.7" r="2.75"/><circle cx="304.2" cy="862.1" r="2.75"/><circle cx="303.4" cy="862.7" r="2.75"/><circle cx="302.6" cy="862.2" r="2.75"/><circle cx="301.8" cy="862.3" r="2.75"/><circle cx="300.9" cy="863.1" r="2.75"/><circle cx="300.1" cy="863.5" r="2.75"/><circle cx="299.3" cy="863.2" r="2.75"/><circle cx="298.4" cy="863.6" r="2.75"/><circle cx="297.6" cy="863.7" r="2.75"/><circle cx="296.8" cy="864.1" r="2.75"/><circle cx="296" cy="864.8" r="2.75"/><circle cx="295.1" cy="865.5" r="2.75"/><circle cx="294.3" cy="865.5" r="2.75"/><circle cx="293.5" cy="865.8" r="2.75"/><circle cx="292.7" cy="865.6" r="2.75"/><circle cx="291.8" cy="866.3" r="2.75"/><circle cx="291" cy="866.8" r="2.75"/><circle cx="290.2" cy="867.9" r="2.75"/><circle cx="289.4" cy="868.1" r="2.75"/><circle cx="288.5" cy="869.1" r="2.75"/><circle cx="287.7" cy="869.2" r="2.75"/><circle cx="286.9" cy="870.6" r="2.75"/><circle cx="286.1" cy="870.8" r="2.75"/><circle cx="285.2" cy="871.9" r="2.75"/><circle cx="284.4" cy="872.5" r="2.75"/><circle cx="283.6" cy="873.4" r="2.75"/><circle cx="282.8" cy="874.7" r="2.75"/><circle cx="281.9" cy="875.3" r="2.75"/><circle cx="281.1" cy="877.3" r="2.75"/><circle cx="280.3" cy="879" r="2.75"/><circle cx="279.4" cy="879.8" r="2.75"/><circle cx="278.6" cy="882.3" r="2.75"/><circle cx="277.8" cy="884.3" r="2.75"/><circle cx="277" cy="886.3" r="2.75"/><circle cx="276.1" cy="889.5" r="2.75"/><circle cx="275.3" cy="891.8" r="2.75"/><circle cx="274.5" cy="894.3" r="2.75"/><circle cx="273.7" cy="897.8" r="2.75"/><circle cx="272.8" cy="900.1" r="2.75"/><circle cx="272" cy="903.3" r="2.75"/><circle cx="271.2" cy="906" r="2.75"/><circle cx="270.4" cy="909.4" r="2.75"/><circle cx="269.5" cy="912.6" r="2.75"/><circle cx="268.7" cy="914.7" r="2.75"/><circle cx="267.9" cy="914.8" r="2.75"/><circle cx="267.1" cy="917.9" r="2.75"/><circle cx="266.2" cy="917.1" r="2.75"/><circle cx="265.4" cy="917.9" r="2.75"/><circle cx="264.6" cy="917.1" r="2.75"/><circle cx="263.8" cy="916" r="2.75"/><circle cx="262.9" cy="917" r="2.75"/><circle cx="262.1" cy="915.3" r="2.75"/><circle cx="261.3" cy="913.6" r="2.75"/><circle cx="260.4" cy="912.9" r="2.75"/><circle cx="259.6" cy="910.9" r="2.75"/><circle cx="258.8" cy="909.3" r="2.75"/><circle cx="258" cy="907.7" r="2.75"/><circle cx="257.1" cy="905.6" r="2.75"/><circle cx="256.3" cy="903.5" r="2.75"/><circle cx="255.5" cy="901.6" r="2.75"/><circle cx="254.7" cy="899.6" r="2.75"/><circle cx="253.8" cy="897.9" r="2.75"/><circle cx="253" cy="896.4" r="2.75"/><circle cx="252.2" cy="894.3" r="2.75"/><circle cx="251.4" cy="893.3" r="2.75"/><circle cx="250.5" cy="891.6" r="2.75"/><circle cx="249.7" cy="890.7" r="2.75"/><circle cx="248.9" cy="889" r="2.75"/><circle cx="248.1" cy="887.7" r="2.75"/><circle cx="247.2" cy="886.4" r="2.75"/><circle cx="246.4" cy="885" r="2.75"/><circle cx="245.6" cy="883.9" r="2.75"/><circle cx="244.8" cy="883.4" r="2.75"/><circle cx="243.9" cy="881.5" r="2.75"/><circle cx="243.1" cy="881.6" r="2.75"/><circle cx="242.3" cy="879.4" r="2.75"/><circle cx="241.5" cy="879" r="2.75"/><circle cx="240.6" cy="877.8" r="2.75"/><circle cx="239.8" cy="877.4" r="2.75"/><circle cx="239" cy="876.2" r="2.75"/><circle cx="238.1" cy="875.6" r="2.75"/><circle cx="237.3" cy="874.7" r="2.75"/><circle cx="236.5" cy="873" r="2.75"/><circle cx="235.7" cy="871.2" r="2.75"/><circle cx="234.8" cy="869.7" r="2.75"/><circle cx="234" cy="867.6" r="2.75"/><circle cx="233.2" cy="867.4" r="2.75"/><circle cx="232.4" cy="867" r="2.75"/><circle cx="231.5" cy="866.3" r="2.75"/><circle cx="230.7" cy="866.1" r="2.75"/><circle cx="229.9" cy="866.4" r="2.75"/><circle cx="229.1" cy="866.7" r="2.75"/><circle cx="228.2" cy="866.3" r="2.75"/><circle cx="227.4" cy="866.6" r="2.75"/><circle cx="226.6" cy="866.8" r="2.75"/><circle cx="225.8" cy="867.3" r="2.75"/><circle cx="224.9" cy="867.1" r="2.75"/><circle cx="224.1" cy="867.2" r="2.75"/><circle cx="223.3" cy="866.4" r="2.75"/><circle cx="222.5" cy="864.8" r="2.75"/><circle cx="221.6" cy="863.7" r="2.75"/><circle cx="220.8" cy="863.6" r="2.75"/><circle cx="220" cy="862.9" r="2.75"/><circle cx="219.1" cy="862.4" r="2.75"/><circle cx="218.3" cy="861" r="2.75"/><circle cx="217.5" cy="860.8" r="2.75"/><circle cx="216.7" cy="859.4" r="2.75"/><circle cx="215.8" cy="858.5" r="2.75"/><circle cx="215" cy="857.1" r="2.75"/><circle cx="214.2" cy="855.9" r="2.75"/><circle cx="213.4" cy="855.1" r="2.75"/><circle cx="212.5" cy="854.3" r="2.75"/><circle cx="211.7" cy="854" r="2.75"/><circle cx="210.9" cy="852.8" r="2.75"/><circle cx="210.1" cy="852.2" r="2.75"/><circle cx="209.2" cy="851.3" r="2.75"/><circle cx="208.4" cy="851" r="2.75"/><circle cx="207.6" cy="850" r="2.75"/><circle cx="206.8" cy="849.2" r="2.75"/><circle cx="205.9" cy="848.6" r="2.75"/><circle cx="205.1" cy="848.1" r="2.75"/><circle cx="204.3" cy="845.6" r="2.75"/><circle cx="203.5" cy="844.6" r="2.75"/><circle cx="202.6" cy="843.2" r="2.75"/><circle cx="201.8" cy="842.6" r="2.75"/><circle cx="201" cy="841.4" r="2.75"/><circle cx="200.2" cy="840.5" r="2.75"/><circle cx="199.3" cy="839.6" r="2.75"/><circle cx="198.5" cy="837.7" r="2.75"/><circle cx="197.7" cy="835.5" r="2.75"/><circle cx="196.8" cy="833.2" r="2.75"/><circle cx="196" cy="830.8" r="2.75"/><circle cx="195.2" cy="829.2" r="2.75"/><circle cx="194.4" cy="827.8" r="2.75"/><circle cx="193.5" cy="824.6" r="2.75"/><circle cx="192.7" cy="820.3" r="2.75"/><circle cx="191.9" cy="816" r="2.75"/><circle cx="191.1" cy="811.2" r="2.75"/><circle cx="190.2" cy="806" r="2.75"/><circle cx="189.4" cy="801.6" r="2.75"/><circle cx="188.6" cy="798.4" r="2.75"/><circle cx="187.8" cy="794.8" r="2.75"/><circle cx="186.9" cy="791.3" r="2.75"/><circle cx="186.1" cy="788" r="2.75"/><circle cx="185.3" cy="786.1" r="2.75"/><circle cx="184.5" cy="784.7" r="2.75"/><circle cx="183.6" cy="782.8" r="2.75"/><circle cx="182.8" cy="782.2" r="2.75"/><circle cx="182" cy="783" r="2.75"/><circle cx="181.2" cy="783.9" r="2.75"/><circle cx="180.3" cy="784.4" r="2.75"/><circle cx="179.5" cy="786.4" r="2.75"/><circle cx="178.7" cy="787.1" r="2.75"/><circle cx="177.8" cy="788.7" r="2.75"/><circle cx="177" cy="789.5" r="2.75"/><circle cx="176.2" cy="792.1" r="2.75"/><circle cx="175.4" cy="794.5" r="2.75"/><circle cx="174.5" cy="797.6" r="2.75"/><circle cx="173.7" cy="800" r="2.75"/><circle cx="172.9" cy="802.9" r="2.75"/><circle cx="172.1" cy="806.5" r="2.75"/><circle cx="171.2" cy="808.5" r="2.75"/><circle cx="170.4" cy="810.6" r="2.75"/><circle cx="169.6" cy="812.4" r="2.75"/><circle cx="168.8" cy="813.7" r="2.75"/><circle cx="167.9" cy="815.3" r="2.75"/><circle cx="167.1" cy="817.1" r="2.75"/><circle cx="166.3" cy="819.4" r="2.75"/><circle cx="165.5" cy="820" r="2.75"/><circle cx="164.6" cy="822.4" r="2.75"/><circle cx="163.8" cy="824" r="2.75"/><circle cx="163" cy="825.4" r="2.75"/><circle cx="162.2" cy="826.2" r="2.75"/><circle cx="161.3" cy="828.5" r="2.75"/><circle cx="160.5" cy="829.3" r="2.75"/><circle cx="159.7" cy="830.4" r="2.75"/><circle cx="158.9" cy="832.2" r="2.75"/><circle cx="158" cy="834" r="2.75"/><circle cx="157.2" cy="835" r="2.75"/><circle cx="156.4" cy="836.6" r="2.75"/><circle cx="155.5" cy="837.7" r="2.75"/><circle cx="154.7" cy="838.5" r="2.75"/><circle cx="153.9" cy="839.6" r="2.75"/><circle cx="153.1" cy="841.3" r="2.75"/><circle cx="152.2" cy="843" r="2.75"/><circle cx="151.4" cy="844.8" r="2.75"/><circle cx="150.6" cy="846.4" r="2.75"/><circle cx="149.8" cy="846.4" r="2.75"/><circle cx="148.9" cy="846.7" r="2.75"/><circle cx="148.1" cy="846.7" r="2.75"/><circle cx="147.3" cy="846.1" r="2.75"/><circle cx="146.5" cy="845.7" r="2.75"/><circle cx="145.6" cy="845" r="2.75"/><circle cx="144.8" cy="844" r="2.75"/><circle cx="144" cy="843.2" r="2.75"/><circle cx="143.2" cy="842.5" r="2.75"/><circle cx="142.3" cy="842.3" r="2.75"/><circle cx="141.5" cy="842.8" r="2.75"/><circle cx="140.7" cy="843.4" r="2.75"/><circle cx="139.9" cy="844" r="2.75"/><circle cx="139" cy="844.9" r="2.75"/><circle cx="138.2" cy="844.9" r="2.75"/><circle cx="137.4" cy="845.8" r="2.75"/><circle cx="136.5" cy="847.3" r="2.75"/><circle cx="135.7" cy="847.4" r="2.75"/><circle cx="134.9" cy="848.2" r="2.75"/><circle cx="134.1" cy="849.6" r="2.75"/><circle cx="133.2" cy="851.1" r="2.75"/><circle cx="132.4" cy="851.1" r="2.75"/><circle cx="131.6" cy="851" r="2.75"/><circle cx="130.8" cy="851" r="2.75"/><circle cx="129.9" cy="850.9" r="2.75"/><circle cx="129.1" cy="850.8" r="2.75"/><circle cx="128.3" cy="850.8" r="2.75"/><circle cx="127.5" cy="849.2" r="2.75"/><circle cx="126.6" cy="849.6" r="2.75"/><circle cx="125.8" cy="849.2" r="2.75"/><circle cx="125" cy="848.6" r="2.75"/><circle cx="124.2" cy="847.9" r="2.75"/><circle cx="123.3" cy="848.3" r="2.75"/><circle cx="122.5" cy="847.3" r="2.75"/><circle cx="121.7" cy="848" r="2.75"/><circle cx="120.9" cy="848" r="2.75"/><circle cx="120" cy="847.8" r="2.75"/><circle cx="119.2" cy="848.3" r="2.75"/><circle cx="118.4" cy="849.4" r="2.75"/><circle cx="117.6" cy="849.3" r="2.75"/><circle cx="116.7" cy="850.8" r="2.75"/><circle cx="115.9" cy="850.6" r="2.75"/><circle cx="115.1" cy="852.2" r="2.75"/><circle cx="114.2" cy="852" r="2.75"/><circle cx="113.4" cy="853" r="2.75"/><circle cx="112.6" cy="852.7" r="2.75"/><circle cx="111.8" cy="852.6" r="2.75"/><circle cx="110.9" cy="852.5" r="2.75"/><circle cx="110.1" cy="851.6" r="2.75"/><circle cx="109.3" cy="852" r="2.75"/><circle cx="108.5" cy="851.3" r="2.75"/><circle cx="107.6" cy="851.3" r="2.75"/><circle cx="106.8" cy="851.4" r="2.75"/><circle cx="106" cy="850.8" r="2.75"/><circle cx="105.2" cy="850.5" r="2.75"/><circle cx="104.3" cy="851.7" r="2.75"/><circle cx="103.5" cy="851.8" r="2.75"/><circle cx="102.7" cy="852.9" r="2.75"/><circle cx="101.9" cy="854.2" r="2.75"/><circle cx="101" cy="855.2" r="2.75"/><circle cx="100.2" cy="854.6" r="2.75"/><circle cx="99.4" cy="856" r="2.75"/><circle cx="98.6" cy="856.2" r="2.75"/><circle cx="97.7" cy="857" r="2.75"/><circle cx="96.9" cy="856.8" r="2.75"/><circle cx="96.1" cy="856.1" r="2.75"/><circle cx="95.2" cy="855.8" r="2.75"/><circle cx="94.4" cy="854.8" r="2.75"/><circle cx="93.6" cy="854.6" r="2.75"/><circle cx="92.8" cy="854.7" r="2.75"/><circle cx="91.9" cy="854.9" r="2.75"/><circle cx="91.1" cy="854.7" r="2.75"/><circle cx="90.3" cy="854.5" r="2.75"/><circle cx="89.5" cy="854.6" r="2.75"/><circle cx="88.6" cy="854.3" r="2.75"/><circle cx="87.8" cy="854.4" r="2.75"/><circle cx="87" cy="854.3" r="2.75"/><circle cx="86.2" cy="854.7" r="2.75"/><circle cx="85.3" cy="854.7" r="2.75"/><circle cx="84.5" cy="855.4" r="2.75"/><circle cx="83.7" cy="854.5" r="2.75"/><circle cx="82.9" cy="853.9" r="2.75"/><circle cx="82" cy="854.1" r="2.75"/><circle cx="81.2" cy="853.4" r="2.75"/><circle cx="80.4" cy="853.1" r="2.75"/><circle cx="79.6" cy="853.3" r="2.75"/></g>
<g stroke="#333" stroke-width="1.25" fill="none">
<path d="M442.6 767.5V925.3H687.3V767.5H442.6Z"/>
<path d="M442.6 846.9H687.3M442.6 909.5h3M442.6 893.7h3M442.6 878h3M442.6 862.2h3M442.6 846.4h3M442.6 830.6h3M442.6 814.8h3M442.6 799.1h3M442.6 783.3h3M483.4 846.9v-3M524.2 846.9v-3M565 846.9v-3M605.7 846.9v-3M646.5 846.9v-3"/>
</g>
<g font-size="9" fill="#1a1a1a">
<text x="435.3" y="928.5" text-anchor="end">-50</text>
<text x="435.3" y="912.7" text-anchor="end">-40</text>
<text x="435.3" y="896.9" text-anchor="end">-30</text>
<text x="435.3" y="881.2" text-anchor="end">-20</text>
<text x="435.3" y="865.4" text-anchor="end">-10</text>
<text x="435.3" y="849.6" text-anchor="end">0</text>
<text x="435.3" y="833.8" text-anchor="end">10</text>
<text x="435.3" y="818" text-anchor="end">20</text>
<text x="435.3" y="802.3" text-anchor="end">30</text>
<text x="435.3" y="786.5" text-anchor="end">40</text>
<text x="435.3" y="770.7" text-anchor="end">50</text>
<text x="442" y="860.7" text-anchor="middle">0</text>
<text x="482.8" y="860.7" text-anchor="middle">50</text>
<text x="523.6" y="860.7" text-anchor="middle">100</text>
<text x="564.4" y="860.7" text-anchor="middle">150</text>
<text x="605.1" y="860.7" text-anchor="middle">200</text>
<text x="645.9" y="860.7" text-anchor="middle">250</text>
<text x="686.7" y="860.7" text-anchor="middle">300</text>
</g>
<g font-size="9.65" fill="#1a1a1a" text-anchor="middle">
<text x="565" y="937.3" font-size="9.7">Scanning depth (µm)</text>
<text transform="translate(405.4 847.3) rotate(-90)" xml:space="preserve">First derivative  of the intensity</text>
<text transform="translate(416.8 848.3) rotate(-90)">(a.u.)</text>
</g>
<text x="451.8" y="798.8" font-size="20" font-weight="bold" fill="#000">h</text>
<g fill="#fff" stroke="#000" stroke-width="0.95"><circle cx="681.6" cy="849.5" r="2.75"/><circle cx="680.8" cy="848.5" r="2.75"/><circle cx="680" cy="846.8" r="2.75"/><circle cx="679.1" cy="846.7" r="2.75"/><circle cx="678.3" cy="846.4" r="2.75"/><circle cx="677.5" cy="846.6" r="2.75"/><circle cx="676.7" cy="846.5" r="2.75"/><circle cx="675.9" cy="847.2" r="2.75"/><circle cx="675.1" cy="847.7" r="2.75"/><circle cx="674.2" cy="847.8" r="2.75"/><circle cx="673.4" cy="847.7" r="2.75"/><circle cx="672.6" cy="847.6" r="2.75"/><circle cx="671.8" cy="848" r="2.75"/><circle cx="671" cy="848.8" r="2.75"/><circle cx="670.2" cy="850" r="2.75"/><circle cx="669.4" cy="849.8" r="2.75"/><circle cx="668.5" cy="850.6" r="2.75"/><circle cx="667.7" cy="851.1" r="2.75"/><circle cx="666.9" cy="851.1" r="2.75"/><circle cx="666.1" cy="850.4" r="2.75"/><circle cx="665.3" cy="851.1" r="2.75"/><circle cx="664.5" cy="850.9" r="2.75"/><circle cx="663.6" cy="850.3" r="2.75"/><circle cx="662.8" cy="850.3" r="2.75"/><circle cx="662" cy="850" r="2.75"/><circle cx="661.2" cy="850.1" r="2.75"/><circle cx="660.4" cy="850.1" r="2.75"/><circle cx="659.6" cy="850.5" r="2.75"/><circle cx="658.8" cy="850" r="2.75"/><circle cx="657.9" cy="850.1" r="2.75"/><circle cx="657.1" cy="850.2" r="2.75"/><circle cx="656.3" cy="850.3" r="2.75"/><circle cx="655.5" cy="850" r="2.75"/><circle cx="654.7" cy="850.1" r="2.75"/><circle cx="653.9" cy="850.5" r="2.75"/><circle cx="653" cy="849.9" r="2.75"/><circle cx="652.2" cy="850.1" r="2.75"/><circle cx="651.4" cy="850.1" r="2.75"/><circle cx="650.6" cy="850.4" r="2.75"/><circle cx="649.8" cy="850.9" r="2.75"/><circle cx="649" cy="850.6" r="2.75"/><circle cx="648.1" cy="852.3" r="2.75"/><circle cx="647.3" cy="852.5" r="2.75"/><circle cx="646.5" cy="852.4" r="2.75"/><circle cx="645.7" cy="852.7" r="2.75"/><circle cx="644.9" cy="853.4" r="2.75"/><circle cx="644.1" cy="852.8" r="2.75"/><circle cx="643.3" cy="853.4" r="2.75"/><circle cx="642.4" cy="853.8" r="2.75"/><circle cx="641.6" cy="854.2" r="2.75"/><circle cx="640.8" cy="855.4" r="2.75"/><circle cx="640" cy="855" r="2.75"/><circle cx="639.2" cy="854.9" r="2.75"/><circle cx="638.4" cy="855.8" r="2.75"/><circle cx="637.5" cy="856.1" r="2.75"/><circle cx="636.7" cy="856.3" r="2.75"/><circle cx="635.9" cy="856.7" r="2.75"/><circle cx="635.1" cy="857.3" r="2.75"/><circle cx="634.3" cy="857.8" r="2.75"/><circle cx="633.5" cy="858.6" r="2.75"/><circle cx="632.7" cy="858.5" r="2.75"/><circle cx="631.8" cy="859.5" r="2.75"/><circle cx="631" cy="859.6" r="2.75"/><circle cx="630.2" cy="860.7" r="2.75"/><circle cx="629.4" cy="861.2" r="2.75"/><circle cx="628.6" cy="862.8" r="2.75"/><circle cx="627.8" cy="864.2" r="2.75"/><circle cx="626.9" cy="865.5" r="2.75"/><circle cx="626.1" cy="867.4" r="2.75"/><circle cx="625.3" cy="868.5" r="2.75"/><circle cx="624.5" cy="870.4" r="2.75"/><circle cx="623.7" cy="871.9" r="2.75"/><circle cx="622.9" cy="874.1" r="2.75"/><circle cx="622" cy="876.4" r="2.75"/><circle cx="621.2" cy="878.8" r="2.75"/><circle cx="620.4" cy="882.1" r="2.75"/><circle cx="619.6" cy="883.8" r="2.75"/><circle cx="618.8" cy="887.2" r="2.75"/><circle cx="618" cy="890.3" r="2.75"/><circle cx="617.2" cy="893.4" r="2.75"/><circle cx="616.3" cy="897" r="2.75"/><circle cx="615.5" cy="899.8" r="2.75"/><circle cx="614.7" cy="902.1" r="2.75"/><circle cx="613.9" cy="904.4" r="2.75"/><circle cx="613.1" cy="906" r="2.75"/><circle cx="612.3" cy="907" r="2.75"/><circle cx="611.4" cy="907.1" r="2.75"/><circle cx="610.6" cy="907.3" r="2.75"/><circle cx="609.8" cy="906" r="2.75"/><circle cx="609" cy="904.9" r="2.75"/><circle cx="608.2" cy="903" r="2.75"/><circle cx="607.4" cy="900.9" r="2.75"/><circle cx="606.5" cy="899.1" r="2.75"/><circle cx="605.7" cy="897" r="2.75"/><circle cx="604.9" cy="894.2" r="2.75"/><circle cx="604.1" cy="891.7" r="2.75"/><circle cx="603.3" cy="888.8" r="2.75"/><circle cx="602.5" cy="885.6" r="2.75"/><circle cx="601.7" cy="882.9" r="2.75"/><circle cx="600.8" cy="880.6" r="2.75"/><circle cx="600" cy="879" r="2.75"/><circle cx="599.2" cy="877.5" r="2.75"/><circle cx="598.4" cy="875.5" r="2.75"/><circle cx="597.6" cy="873.7" r="2.75"/><circle cx="596.8" cy="871.5" r="2.75"/><circle cx="595.9" cy="868.9" r="2.75"/><circle cx="595.1" cy="866.4" r="2.75"/><circle cx="594.3" cy="864.1" r="2.75"/><circle cx="593.5" cy="861.9" r="2.75"/><circle cx="592.7" cy="859.4" r="2.75"/><circle cx="591.9" cy="857.3" r="2.75"/><circle cx="591.1" cy="856.7" r="2.75"/><circle cx="590.2" cy="854.9" r="2.75"/><circle cx="589.4" cy="854.6" r="2.75"/><circle cx="588.6" cy="853.3" r="2.75"/><circle cx="587.8" cy="853.2" r="2.75"/><circle cx="587" cy="853" r="2.75"/><circle cx="586.2" cy="852.7" r="2.75"/><circle cx="585.3" cy="852.9" r="2.75"/><circle cx="584.5" cy="852.7" r="2.75"/><circle cx="583.7" cy="852.1" r="2.75"/><circle cx="582.9" cy="851.7" r="2.75"/><circle cx="582.1" cy="851.7" r="2.75"/><circle cx="581.3" cy="851.5" r="2.75"/><circle cx="580.4" cy="851.3" r="2.75"/><circle cx="579.6" cy="849.3" r="2.75"/><circle cx="578.8" cy="848.5" r="2.75"/><circle cx="578" cy="847.8" r="2.75"/><circle cx="577.2" cy="847.1" r="2.75"/><circle cx="576.4" cy="846.3" r="2.75"/><circle cx="575.6" cy="845.9" r="2.75"/><circle cx="574.7" cy="845.6" r="2.75"/><circle cx="573.9" cy="845.5" r="2.75"/><circle cx="573.1" cy="844.4" r="2.75"/><circle cx="572.3" cy="844.5" r="2.75"/><circle cx="571.5" cy="845.2" r="2.75"/><circle cx="570.7" cy="845.8" r="2.75"/><circle cx="569.8" cy="846" r="2.75"/><circle cx="569" cy="846" r="2.75"/><circle cx="568.2" cy="846.2" r="2.75"/><circle cx="567.4" cy="846.4" r="2.75"/><circle cx="566.6" cy="845.7" r="2.75"/><circle cx="565.8" cy="846" r="2.75"/><circle cx="565" cy="845.9" r="2.75"/><circle cx="564.1" cy="845.1" r="2.75"/><circle cx="563.3" cy="844.7" r="2.75"/><circle cx="562.5" cy="843.2" r="2.75"/><circle cx="561.7" cy="843.7" r="2.75"/><circle cx="560.9" cy="842.8" r="2.75"/><circle cx="560.1" cy="842.9" r="2.75"/><circle cx="559.2" cy="841" r="2.75"/><circle cx="558.4" cy="841.5" r="2.75"/><circle cx="557.6" cy="840.3" r="2.75"/><circle cx="556.8" cy="839.6" r="2.75"/><circle cx="556" cy="838.2" r="2.75"/><circle cx="555.2" cy="838.7" r="2.75"/><circle cx="554.3" cy="838.6" r="2.75"/><circle cx="553.5" cy="838.4" r="2.75"/><circle cx="552.7" cy="838.8" r="2.75"/><circle cx="551.9" cy="837.2" r="2.75"/><circle cx="551.1" cy="837.5" r="2.75"/><circle cx="550.3" cy="836.3" r="2.75"/><circle cx="549.5" cy="836.1" r="2.75"/><circle cx="548.6" cy="835.2" r="2.75"/><circle cx="547.8" cy="834.1" r="2.75"/><circle cx="547" cy="833" r="2.75"/><circle cx="546.2" cy="832.4" r="2.75"/><circle cx="545.4" cy="831.5" r="2.75"/><circle cx="544.6" cy="831.2" r="2.75"/><circle cx="543.7" cy="830.1" r="2.75"/><circle cx="542.9" cy="829.1" r="2.75"/><circle cx="542.1" cy="828.7" r="2.75"/><circle cx="541.3" cy="827.6" r="2.75"/><circle cx="540.5" cy="825.5" r="2.75"/><circle cx="539.7" cy="823.6" r="2.75"/><circle cx="538.8" cy="821.2" r="2.75"/><circle cx="538" cy="818.7" r="2.75"/><circle cx="537.2" cy="815.6" r="2.75"/><circle cx="536.4" cy="812.8" r="2.75"/><circle cx="535.6" cy="809.9" r="2.75"/><circle cx="534.8" cy="806.4" r="2.75"/><circle cx="534" cy="803" r="2.75"/><circle cx="533.1" cy="798.3" r="2.75"/><circle cx="532.3" cy="795.3" r="2.75"/><circle cx="531.5" cy="790.7" r="2.75"/><circle cx="530.7" cy="786.1" r="2.75"/><circle cx="529.9" cy="782.1" r="2.75"/><circle cx="529.1" cy="781.2" r="2.75"/><circle cx="528.2" cy="780" r="2.75"/><circle cx="527.4" cy="781.3" r="2.75"/><circle cx="526.6" cy="781" r="2.75"/><circle cx="525.8" cy="782.3" r="2.75"/><circle cx="525" cy="784.7" r="2.75"/><circle cx="524.2" cy="788.4" r="2.75"/><circle cx="523.4" cy="794" r="2.75"/><circle cx="522.5" cy="798.2" r="2.75"/><circle cx="521.7" cy="801.3" r="2.75"/><circle cx="520.9" cy="805.8" r="2.75"/><circle cx="520.1" cy="808.1" r="2.75"/><circle cx="519.3" cy="811.2" r="2.75"/><circle cx="518.5" cy="814" r="2.75"/><circle cx="517.6" cy="815" r="2.75"/><circle cx="516.8" cy="817.4" r="2.75"/><circle cx="516" cy="819.3" r="2.75"/><circle cx="515.2" cy="821" r="2.75"/><circle cx="514.4" cy="822.6" r="2.75"/><circle cx="513.6" cy="824.3" r="2.75"/><circle cx="512.7" cy="825.4" r="2.75"/><circle cx="511.9" cy="827.1" r="2.75"/><circle cx="511.1" cy="828.1" r="2.75"/><circle cx="510.3" cy="829.5" r="2.75"/><circle cx="509.5" cy="830.6" r="2.75"/><circle cx="508.7" cy="832" r="2.75"/><circle cx="507.9" cy="832.7" r="2.75"/><circle cx="507" cy="834.7" r="2.75"/><circle cx="506.2" cy="834.9" r="2.75"/><circle cx="505.4" cy="835.2" r="2.75"/><circle cx="504.6" cy="835.5" r="2.75"/><circle cx="503.8" cy="836.7" r="2.75"/><circle cx="503" cy="836.5" r="2.75"/><circle cx="502.1" cy="835.7" r="2.75"/><circle cx="501.3" cy="837.5" r="2.75"/><circle cx="500.5" cy="837.3" r="2.75"/><circle cx="499.7" cy="837.7" r="2.75"/><circle cx="498.9" cy="838.3" r="2.75"/><circle cx="498.1" cy="838.6" r="2.75"/><circle cx="497.2" cy="838.6" r="2.75"/><circle cx="496.4" cy="839.6" r="2.75"/><circle cx="495.6" cy="839" r="2.75"/><circle cx="494.8" cy="839.3" r="2.75"/><circle cx="494" cy="840.3" r="2.75"/><circle cx="493.2" cy="840.2" r="2.75"/><circle cx="492.4" cy="840.6" r="2.75"/><circle cx="491.5" cy="840.3" r="2.75"/><circle cx="490.7" cy="840.5" r="2.75"/><circle cx="489.9" cy="840.5" r="2.75"/><circle cx="489.1" cy="840.3" r="2.75"/><circle cx="488.3" cy="840.1" r="2.75"/><circle cx="487.5" cy="839.9" r="2.75"/><circle cx="486.6" cy="840" r="2.75"/><circle cx="485.8" cy="840.6" r="2.75"/><circle cx="485" cy="839.9" r="2.75"/><circle cx="484.2" cy="840.3" r="2.75"/><circle cx="483.4" cy="840.2" r="2.75"/><circle cx="482.6" cy="840" r="2.75"/><circle cx="481.8" cy="839.2" r="2.75"/><circle cx="480.9" cy="839.5" r="2.75"/><circle cx="480.1" cy="841.1" r="2.75"/><circle cx="479.3" cy="841" r="2.75"/><circle cx="478.5" cy="841.5" r="2.75"/><circle cx="477.7" cy="842.7" r="2.75"/><circle cx="476.9" cy="843.4" r="2.75"/><circle cx="476" cy="843.4" r="2.75"/><circle cx="475.2" cy="843.2" r="2.75"/><circle cx="474.4" cy="843.3" r="2.75"/><circle cx="473.6" cy="843.5" r="2.75"/><circle cx="472.8" cy="842.9" r="2.75"/><circle cx="472" cy="843.8" r="2.75"/><circle cx="471.1" cy="843.6" r="2.75"/><circle cx="470.3" cy="843.3" r="2.75"/><circle cx="469.5" cy="843.2" r="2.75"/><circle cx="468.7" cy="843.2" r="2.75"/><circle cx="467.9" cy="842.5" r="2.75"/><circle cx="467.1" cy="842.2" r="2.75"/><circle cx="466.3" cy="842.7" r="2.75"/><circle cx="465.4" cy="843.9" r="2.75"/><circle cx="464.6" cy="845" r="2.75"/><circle cx="463.8" cy="845.1" r="2.75"/><circle cx="463" cy="846.3" r="2.75"/><circle cx="462.2" cy="846.9" r="2.75"/><circle cx="461.4" cy="845.7" r="2.75"/><circle cx="460.5" cy="845.2" r="2.75"/><circle cx="459.7" cy="845.4" r="2.75"/><circle cx="458.9" cy="845.2" r="2.75"/><circle cx="458.1" cy="844.7" r="2.75"/><circle cx="457.3" cy="844.6" r="2.75"/><circle cx="456.5" cy="843.5" r="2.75"/><circle cx="455.7" cy="844.2" r="2.75"/><circle cx="454.8" cy="844" r="2.75"/><circle cx="454" cy="843.5" r="2.75"/><circle cx="453.2" cy="843.7" r="2.75"/><circle cx="452.4" cy="843.9" r="2.75"/><circle cx="451.6" cy="844" r="2.75"/><circle cx="450.8" cy="844.6" r="2.75"/><circle cx="449.9" cy="844" r="2.75"/><circle cx="449.1" cy="844.3" r="2.75"/><circle cx="448.3" cy="844.5" r="2.75"/><circle cx="447.5" cy="844.5" r="2.75"/></g>
</svg></body></html>
